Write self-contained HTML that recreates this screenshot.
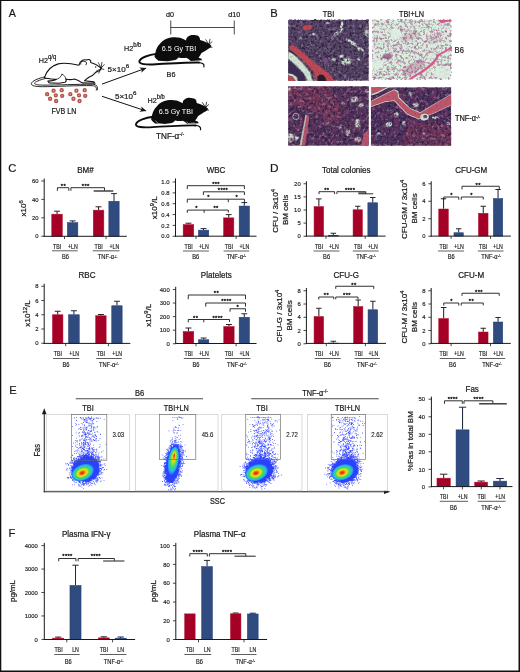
<!DOCTYPE html>
<html lang="en"><head><meta charset="utf-8"><title>Figure</title>
<style>html,body{margin:0;padding:0;background:#fff}body{width:520px;height:672px;overflow:hidden}svg{display:block;font-family:"Liberation Sans",sans-serif}text{stroke:#1a1a1a;stroke-width:.22px}</style></head><body>
<svg width="520" height="672" viewBox="0 0 520 672">
<rect x="0" y="0" width="520" height="672" fill="#fff"/>
<defs>
<filter id="nDark" x="0" y="0" width="100%" height="100%" color-interpolation-filters="sRGB"><feTurbulence type="fractalNoise" baseFrequency="0.36" numOctaves="2" seed="4"/><feColorMatrix type="matrix" values="0 0 0 0 0.16  0 0 0 0 0.1  0 0 0 0 0.22  4 0 0 0 -1.95"/><feGaussianBlur stdDeviation="0.4"/></filter>
<filter id="nDark2" x="0" y="0" width="100%" height="100%" color-interpolation-filters="sRGB"><feTurbulence type="fractalNoise" baseFrequency="0.55" numOctaves="1" seed="9"/><feColorMatrix type="matrix" values="0 0 0 0 0.17  0 0 0 0 0.1  0 0 0 0 0.27  0 5 0 0 -2.5"/><feGaussianBlur stdDeviation="0.35"/></filter>
<filter id="nLite" x="0" y="0" width="100%" height="100%" color-interpolation-filters="sRGB"><feTurbulence type="fractalNoise" baseFrequency="0.32" numOctaves="2" seed="12"/><feColorMatrix type="matrix" values="0 0 0 0 0.72  0 0 0 0 0.65  0 0 0 0 0.76  0 0 5 0 -2.72"/><feGaussianBlur stdDeviation="0.4"/></filter>
<filter id="nPink" x="0" y="0" width="100%" height="100%" color-interpolation-filters="sRGB"><feTurbulence type="fractalNoise" baseFrequency="0.42" numOctaves="2" seed="21"/><feColorMatrix type="matrix" values="0 0 0 0 0.7  0 0 0 0 0.36  0 0 0 0 0.52  6 0 0 0 -3.08"/><feGaussianBlur stdDeviation="0.3"/></filter>
<filter id="nPink2" x="0" y="0" width="100%" height="100%" color-interpolation-filters="sRGB"><feTurbulence type="fractalNoise" baseFrequency="0.3" numOctaves="2" seed="5"/><feColorMatrix type="matrix" values="0 0 0 0 0.5  0 0 0 0 0.28  0 0 0 0 0.5  0 7 0 0 -3.72"/><feGaussianBlur stdDeviation="0.3"/></filter>
<filter id="nRed" x="0" y="0" width="100%" height="100%" color-interpolation-filters="sRGB"><feTurbulence type="fractalNoise" baseFrequency="0.16" numOctaves="2" seed="17"/><feColorMatrix type="matrix" values="0 0 0 0 0.64  0 0 0 0 0.25  0 0 0 0 0.4  0 6 0 0 -3.0"/><feGaussianBlur stdDeviation="0.5"/></filter>
<filter id="blur1" x="-5%" y="-5%" width="110%" height="110%"><feGaussianBlur stdDeviation="0.4"/></filter>
<filter id="blur2" x="-20%" y="-20%" width="140%" height="140%"><feGaussianBlur stdDeviation="0.9"/></filter>
</defs>
<text transform="translate(8.80 17.00) scale(0.91 1)" font-size="11.8" text-anchor="start" fill="#1a1a1a">A</text>
<text transform="translate(170.00 16.90) scale(0.9 1)" font-size="8.0" text-anchor="middle" fill="#1a1a1a">d0</text>
<text transform="translate(234.30 16.90) scale(0.9 1)" font-size="8.0" text-anchor="middle" fill="#1a1a1a">d10</text>
<path d="M170.75 20.5V34.5 M234.25 20.5V34.5 M170.75 27.5H234.25" stroke="#1a1a1a" stroke-width="0.8" fill="none"/>
<g transform="translate(25 50) scale(0.17308)" fill="#fff" stroke="#111" stroke-width="6.4" stroke-linejoin="round" stroke-linecap="round">
<path fill="none" stroke-width="5.2" d="M128 152C92 160 50 172 38 190C30 204 52 212 100 212C180 212 300 204 388 206C408 207 416 216 412 232"/>
<path fill="none" stroke-width="5.2" d="M128 162C100 168 64 180 56 190C52 200 76 203 110 203C190 203 300 197 390 198C412 199 424 210 418 230"/>
<path d="M112 160C122 126 150 92 192 80C232 70 278 80 312 88C318 62 338 52 356 58C368 50 382 58 380 72C402 78 424 90 440 104C438 118 424 124 410 128C400 140 388 150 372 156C360 164 350 170 344 178L398 184L404 192L330 190C316 180 300 172 286 168C270 172 250 172 236 168C240 176 238 184 230 186L196 192L140 190L132 180C150 178 168 176 180 170C160 168 130 166 112 160Z"/>
<path fill="none" stroke-width="4.6" d="M214 140C226 146 236 156 236 168M180 170C196 166 208 156 214 140"/>
<path fill="none" stroke-width="5.2" d="M322 82C318 70 330 62 346 66C356 68 360 78 352 86"/>
<path fill="none" stroke-width="4.4" d="M440 104L424 74M440 104L444 72M440 104L458 84M436 110L412 122M438 110L426 134M438 108L456 112"/>
<circle cx="408" cy="98" r="4" fill="#1a1a1a" stroke="none"/>
</g>
<circle cx="53.56" cy="90.67" r="1.45" fill="#e9b3a6" stroke="#b5554a" stroke-width="1.5"/>
<circle cx="61.69" cy="90.15" r="1.45" fill="#e9b3a6" stroke="#b5554a" stroke-width="1.5"/>
<circle cx="47.15" cy="94.13" r="1.45" fill="#e9b3a6" stroke="#b5554a" stroke-width="1.5"/>
<circle cx="55.81" cy="95.34" r="1.45" fill="#e9b3a6" stroke="#b5554a" stroke-width="1.5"/>
<circle cx="62.21" cy="95.86" r="1.45" fill="#e9b3a6" stroke="#b5554a" stroke-width="1.5"/>
<circle cx="50.10" cy="98.81" r="1.45" fill="#e9b3a6" stroke="#b5554a" stroke-width="1.5"/>
<circle cx="56.15" cy="101.06" r="1.45" fill="#e9b3a6" stroke="#b5554a" stroke-width="1.5"/>
<circle cx="70.34" cy="94.13" r="1.45" fill="#e9b3a6" stroke="#b5554a" stroke-width="1.5"/>
<circle cx="76.40" cy="90.67" r="1.45" fill="#e9b3a6" stroke="#b5554a" stroke-width="1.5"/>
<circle cx="84.71" cy="90.15" r="1.45" fill="#e9b3a6" stroke="#b5554a" stroke-width="1.5"/>
<circle cx="79.00" cy="95.34" r="1.45" fill="#e9b3a6" stroke="#b5554a" stroke-width="1.5"/>
<circle cx="85.23" cy="95.86" r="1.45" fill="#e9b3a6" stroke="#b5554a" stroke-width="1.5"/>
<circle cx="73.46" cy="98.81" r="1.45" fill="#e9b3a6" stroke="#b5554a" stroke-width="1.5"/>
<circle cx="79.52" cy="101.06" r="1.45" fill="#e9b3a6" stroke="#b5554a" stroke-width="1.5"/>
<text transform="translate(63.90 113.80) scale(0.87 1)" font-size="8.2" text-anchor="middle" fill="#1a1a1a">FVB LN</text>
<text transform="translate(38.80 62.50) scale(0.9 1)" font-size="8.0" text-anchor="start" fill="#1a1a1a">H2<tspan font-size="6.5" dy="-0.55em">q/q</tspan></text>
<defs><marker id="ah" viewBox="0 0 10 10" refX="8.5" refY="5" markerWidth="7.6" markerHeight="6.6" orient="auto-start-reverse"><path d="M0 0.8L10 5L0 9.2L2.6 5Z" fill="#1a1a1a"/></marker></defs>
<line x1="102.0" y1="84.1" x2="145.6" y2="68.3" stroke="#111" stroke-width="1.0" marker-end="url(#ah)"/>
<line x1="102.0" y1="96.3" x2="145.6" y2="110.8" stroke="#111" stroke-width="1.0" marker-end="url(#ah)"/>
<text transform="translate(107.60 71.70) scale(1.0 1)" font-size="8.0" text-anchor="start" fill="#1a1a1a">5×10<tspan font-size="6.2" dy="-0.55em">6</tspan></text>
<text transform="translate(115.00 98.80) scale(1.0 1)" font-size="8.0" text-anchor="start" fill="#1a1a1a">5×10<tspan font-size="6.2" dy="-0.55em">6</tspan></text>
<g transform="translate(130 30) scale(0.17308)"><path stroke="none" fill="#0d0d0d" d="M146 134C150 110 160 92 173 80C190 58 212 46 236 43C256 40 274 41 289 44.5C302 48 314 54 324 60C324 50 328 43 333 40C344 30 358 27 369 29C382 28 394 32 400 40C404 46 405 52 404.5 58C418 62 430 66 440 71C452 76 462 82 468.5 89C472 94 468 100 462 103C458 106 454 109 449 111C438 120 426 127 413 133C408 143 402 152 396 160L413 166L416 175L351 179C342 171 334 165 324.5 161C310 163 295 162 280 159C276 165 270 170 262 174L218 180L164.5 177C156 171 148 164 142 155.6C142 148 143 141 146 134Z"/><path fill="none" stroke="#0d0d0d" stroke-width="11" stroke-linecap="round" d="M152 138C112 142 60 160 54 181C50 197 92 202 150 198C250 192 350 187 398 188"/><path fill="none" stroke="#0d0d0d" stroke-width="7" stroke-linecap="round" d="M396 188C420 189 431 198 427 213"/><path fill="none" stroke="#0d0d0d" stroke-width="4.4" stroke-linecap="round" d="M456 84L438 56M456 84L462 54M456 84L474 68M452 96L474 100"/></g>
<g transform="translate(126.6 92.9) scale(0.17308)"><path stroke="none" fill="#0d0d0d" d="M146 134C150 110 160 92 173 80C190 58 212 46 236 43C256 40 274 41 289 44.5C302 48 314 54 324 60C324 50 328 43 333 40C344 30 358 27 369 29C382 28 394 32 400 40C404 46 405 52 404.5 58C418 62 430 66 440 71C452 76 462 82 468.5 89C472 94 468 100 462 103C458 106 454 109 449 111C438 120 426 127 413 133C408 143 402 152 396 160L413 166L416 175L351 179C342 171 334 165 324.5 161C310 163 295 162 280 159C276 165 270 170 262 174L218 180L164.5 177C156 171 148 164 142 155.6C142 148 143 141 146 134Z"/><path fill="none" stroke="#0d0d0d" stroke-width="11" stroke-linecap="round" d="M152 138C112 142 60 160 54 181C50 197 92 202 150 198C250 192 350 187 398 188"/><path fill="none" stroke="#0d0d0d" stroke-width="7" stroke-linecap="round" d="M396 188C420 189 431 198 427 213"/><path fill="none" stroke="#0d0d0d" stroke-width="4.4" stroke-linecap="round" d="M456 84L438 56M456 84L462 54M456 84L474 68M452 96L474 100"/><path fill="none" stroke="#fff" stroke-width="3.2" d="M166 160L184 178L216 181M348 166L354 177L394 174"/></g>
<text transform="translate(179.00 50.80) scale(0.9 1)" font-size="8.0" text-anchor="middle" fill="#fff" style="stroke:none">6.5 Gy TBI</text>
<text transform="translate(175.90 113.70) scale(0.9 1)" font-size="8.0" text-anchor="middle" fill="#fff" style="stroke:none">6.5 Gy TBI</text>
<text transform="translate(171.00 76.70) scale(0.9 1)" font-size="8.0" text-anchor="middle" fill="#1a1a1a">B6</text>
<text transform="translate(170.20 139.00) scale(0.95 1)" font-size="8.6" text-anchor="middle" fill="#1a1a1a">TNF-α<tspan font-size="5.6" dy="-0.45em">-/-</tspan></text>
<text transform="translate(124.00 50.70) scale(0.9 1)" font-size="8.0" text-anchor="start" fill="#1a1a1a">H2<tspan font-size="6.5" dy="-0.55em">b/b</tspan></text>
<text transform="translate(147.50 103.00) scale(0.9 1)" font-size="8.0" text-anchor="start" fill="#1a1a1a">H2<tspan font-size="6.5" dy="-0.55em">b/b</tspan></text>
<text transform="translate(270.20 17.00) scale(0.95 1)" font-size="11.8" text-anchor="start" fill="#1a1a1a">B</text>
<text transform="translate(328.50 16.80) scale(0.87 1)" font-size="8.4" text-anchor="middle" fill="#1a1a1a">TBI</text>
<text transform="translate(411.50 16.80) scale(0.87 1)" font-size="8.4" text-anchor="middle" fill="#1a1a1a">TBI+LN</text>
<text transform="translate(454.60 52.60) scale(0.9 1)" font-size="8.4" text-anchor="start" fill="#1a1a1a">B6</text>
<text transform="translate(454.90 121.00) scale(0.88 1)" font-size="8.4" text-anchor="start" fill="#1a1a1a">TNF-α<tspan font-size="5.2" dy="-0.45em">-/-</tspan></text>
<clipPath id="c1"><rect x="288.1" y="19.8" width="80.7" height="61.0"/></clipPath>
<g clip-path="url(#c1)">
<rect x="288.10" y="19.80" width="80.70" height="61.00" fill="#594868"/>
<g transform="translate(286 18) scale(0.16537)" filter="url(#blur1)">
<ellipse cx="318" cy="84" rx="36" ry="9" fill="#d0e4d0" transform="rotate(-38 318 84)"/>
<ellipse cx="336" cy="44" rx="9" ry="22" fill="#d0e4d0" transform="rotate(10 336 44)"/>
<ellipse cx="300" cy="100" rx="14" ry="8" fill="#d0e4d0" transform="rotate(-20 300 100)"/>
<ellipse cx="400" cy="150" rx="44" ry="10" fill="#d0e4d0" transform="rotate(30 400 150)"/>
<ellipse cx="450" cy="190" rx="22" ry="10" fill="#d0e4d0" transform="rotate(25 450 190)"/>
<ellipse cx="366" cy="262" rx="34" ry="20" fill="#d0e4d0" transform="rotate(-10 366 262)"/>
<ellipse cx="336" cy="232" rx="14" ry="10" fill="#d0e4d0" transform="rotate(0 336 232)"/>
<ellipse cx="488" cy="86" rx="10" ry="34" fill="#d0e4d0" transform="rotate(0 488 86)"/>
<ellipse cx="288" cy="252" rx="12" ry="9" fill="#d0e4d0" transform="rotate(0 288 252)"/>
<ellipse cx="164" cy="98" rx="14" ry="7" fill="#d0e4d0" transform="rotate(-20 164 98)"/>
<ellipse cx="440" cy="250" rx="10" ry="8" fill="#d0e4d0" transform="rotate(0 440 250)"/>
<ellipse cx="250" cy="30" rx="16" ry="6" fill="#d0e4d0" transform="rotate(0 250 30)" opacity="0.7"/>
<ellipse cx="90" cy="120" rx="12" ry="6" fill="#d0e4d0" transform="rotate(30 90 120)" opacity="0.7"/>
</g>
<rect x="288.1" y="19.8" width="80.7" height="61.0" filter="url(#nDark)" opacity="0.82"/>
<rect x="288.1" y="19.8" width="80.7" height="61.0" filter="url(#nLite)" opacity="0.42"/>
<rect x="288.1" y="19.8" width="80.7" height="61.0" filter="url(#nDark2)" opacity="0.42"/>
<g transform="translate(286 18) scale(0.16537)" filter="url(#blur1)">
<ellipse cx="130" cy="58" rx="30" ry="16" fill="#bd4852" transform="rotate(-8 130 58)"/>
<ellipse cx="236" cy="256" rx="16" ry="14" fill="#7a4f80" transform="rotate(0 236 256)"/>
<path fill="#d0e4d0" d="M14 204L40 216L100 272L146 330L160 380L132 380L106 334L56 282L14 246Z"/>
<path fill="#d0e4d0" d="M150 304L200 314L248 334L236 342L180 330Z"/>
<path fill="#bd4852" d="M30 163L48 166L112 216L172 270L222 306L262 336L296 380L182 380L168 330L132 286L80 236L22 188L18 174Z"/>
<path fill="#3c2e52" d="M14 256L52 286L98 338L120 380L14 380Z"/>
<path fill="#d0e4d0" d="M14 334L40 340L66 358L70 380L58 380L40 354L14 346Z"/>
<path fill="#bd4852" d="M14 348L38 354L56 380L14 380Z"/>
<path fill="#211a2b" d="M190 356C198 332 236 334 244 380L190 380Z"/>
</g>
<rect x="288.1" y="19.8" width="80.7" height="61.0" filter="url(#nDark2)" opacity="0.14"/>
</g>
<clipPath id="c2"><rect x="372.3" y="19.5" width="78.9" height="60.1"/></clipPath>
<g clip-path="url(#c2)">
<rect x="372.30" y="19.50" width="78.90" height="60.10" fill="#d8eedf"/>
<g transform="translate(369 18) scale(0.16537)" filter="url(#blur1)">
<ellipse cx="112" cy="232" rx="30" ry="18" fill="#8c4a70" transform="rotate(0 112 232)" opacity="0.7"/>
<ellipse cx="270" cy="300" rx="80" ry="30" fill="#b0607f" transform="rotate(-32 270 300)" opacity="0.4"/>
<ellipse cx="250" cy="110" rx="60" ry="26" fill="#b87a95" transform="rotate(-20 250 110)" opacity="0.28"/>
<ellipse cx="400" cy="120" rx="50" ry="30" fill="#b87a95" transform="rotate(-30 400 120)" opacity="0.22"/>
</g>
<rect x="372.3" y="19.5" width="78.9" height="60.1" filter="url(#nPink)" opacity="0.62"/>
<rect x="372.3" y="19.5" width="78.9" height="60.1" filter="url(#nPink2)" opacity="0.42"/>
<g transform="translate(369 18) scale(0.16537)" filter="url(#blur1)">
<ellipse cx="160" cy="96" rx="32" ry="36" fill="#dff0e4" transform="rotate(0 160 96)" opacity="0.9"/>
<ellipse cx="56" cy="280" rx="36" ry="28" fill="#dff0e4" transform="rotate(0 56 280)" opacity="0.85"/>
<ellipse cx="440" cy="336" rx="54" ry="30" fill="#dff0e4" transform="rotate(0 440 336)" opacity="0.8"/>
<ellipse cx="60" cy="60" rx="30" ry="20" fill="#dff0e4" transform="rotate(0 60 60)" opacity="0.5"/>
<path fill="#d4588a" d="M420 12L497 12L497 24C470 19 452 28 436 33Z"/>
<path fill="#d4588a" d="M497 172C460 198 430 208 414 224C398 252 372 282 332 308C300 332 262 348 236 372L256 372C286 352 318 336 342 318C382 290 406 262 422 232C438 216 470 204 497 184Z"/>
</g>
</g>
<clipPath id="c3"><rect x="288.1" y="86.2" width="80.7" height="59.6"/></clipPath>
<g clip-path="url(#c3)">
<rect x="288.10" y="86.20" width="80.70" height="59.60" fill="#52345c"/>
<g transform="translate(286 84) scale(0.16537)" filter="url(#blur1)">
<path fill="#8e3e5c" d="M14 14L240 14L300 80L340 150L320 240L240 250L200 170L120 150L14 110Z" opacity="0.55"/>
<ellipse cx="414" cy="92" rx="22" ry="16" fill="#d0e4d0" transform="rotate(-15 414 92)"/>
<ellipse cx="454" cy="128" rx="18" ry="12" fill="#d0e4d0" transform="rotate(10 454 128)"/>
<ellipse cx="432" cy="238" rx="14" ry="28" fill="#d0e4d0" transform="rotate(0 432 238)"/>
<ellipse cx="374" cy="292" rx="12" ry="22" fill="#d0e4d0" transform="rotate(5 374 292)"/>
<ellipse cx="434" cy="336" rx="20" ry="16" fill="#d0e4d0" transform="rotate(0 434 336)"/>
<ellipse cx="28" cy="326" rx="18" ry="28" fill="#d0e4d0" transform="rotate(0 28 326)"/>
<ellipse cx="64" cy="328" rx="14" ry="14" fill="#d0e4d0" transform="rotate(0 64 328)"/>
<ellipse cx="20" cy="30" rx="8" ry="14" fill="#d0e4d0" transform="rotate(0 20 30)"/>
<ellipse cx="488" cy="42" rx="12" ry="10" fill="#d0e4d0" transform="rotate(0 488 42)"/>
<ellipse cx="346" cy="118" rx="10" ry="9" fill="#d0e4d0" transform="rotate(0 346 118)"/>
<ellipse cx="330" cy="260" rx="8" ry="14" fill="#d0e4d0" transform="rotate(20 330 260)" opacity="0.8"/>
<ellipse cx="250" cy="240" rx="16" ry="5" fill="#d0e4d0" transform="rotate(-30 250 240)" opacity="0.7"/>
</g>
<rect x="288.1" y="86.2" width="80.7" height="59.6" filter="url(#nDark)" opacity="0.75"/>
<rect x="288.1" y="86.2" width="80.7" height="59.6" filter="url(#nRed)" opacity="0.32"/>
<rect x="288.1" y="86.2" width="80.7" height="59.6" filter="url(#nDark2)" opacity="0.35"/>
<rect x="288.1" y="86.2" width="80.7" height="59.6" filter="url(#nLite)" opacity="0.42"/>
<g transform="translate(286 84) scale(0.16537)" filter="url(#blur1)">
<circle cx="60" cy="196" r="19" fill="none" stroke="#d0e4d0" stroke-width="5" opacity="0.8"/>
<path fill="#d0e4d0" d="M118 186L128 188L100 372L82 372Z" opacity="0.8"/>
<path fill="#b8546e" d="M126 188L142 192L116 372L94 372Z"/>
<path fill="#b8546e" d="M472 300L500 274L500 372L454 372Z"/>
</g>
<rect x="288.1" y="86.2" width="80.7" height="59.6" filter="url(#nDark2)" opacity="0.15"/>
</g>
<clipPath id="c4"><rect x="370.9" y="87.3" width="80.3" height="58.5"/></clipPath>
<g clip-path="url(#c4)">
<rect x="370.90" y="87.30" width="80.30" height="58.50" fill="#4f3360"/>
<g transform="translate(369 84) scale(0.16537)" filter="url(#blur1)">
<path fill="#86385a" d="M230 244L420 232L497 260L497 372L200 372Z" opacity="0.55"/>
<ellipse cx="282" cy="126" rx="18" ry="13" fill="#d0e4d0" transform="rotate(-10 282 126)"/>
<ellipse cx="120" cy="244" rx="20" ry="14" fill="#d0e4d0" transform="rotate(-10 120 244)"/>
<ellipse cx="212" cy="237" rx="13" ry="13" fill="#d0e4d0" transform="rotate(0 212 237)"/>
<ellipse cx="166" cy="182" rx="15" ry="12" fill="#d0e4d0" transform="rotate(0 166 182)"/>
<ellipse cx="480" cy="240" rx="11" ry="11" fill="#d0e4d0" transform="rotate(0 480 240)"/>
<ellipse cx="400" cy="204" rx="20" ry="9" fill="#d0e4d0" transform="rotate(0 400 204)"/>
<ellipse cx="250" cy="60" rx="10" ry="14" fill="#d0e4d0" transform="rotate(0 250 60)" opacity="0.8"/>
<ellipse cx="60" cy="300" rx="12" ry="8" fill="#d0e4d0" transform="rotate(0 60 300)" opacity="0.8"/>
<ellipse cx="330" cy="300" rx="9" ry="9" fill="#d0e4d0" transform="rotate(0 330 300)" opacity="0.7"/>
<ellipse cx="450" cy="320" rx="10" ry="8" fill="#d0e4d0" transform="rotate(0 450 320)" opacity="0.7"/>
</g>
<rect x="370.9" y="87.3" width="80.3" height="58.5" filter="url(#nDark)" opacity="0.78"/>
<rect x="370.9" y="87.3" width="80.3" height="58.5" filter="url(#nDark2)" opacity="0.38"/>
<rect x="370.9" y="87.3" width="80.3" height="58.5" filter="url(#nRed)" opacity="0.28"/>
<rect x="370.9" y="87.3" width="80.3" height="58.5" filter="url(#nLite)" opacity="0.4"/>
<g transform="translate(369 84) scale(0.16537)" filter="url(#blur1)">
<path fill="#d0e4d0" d="M14 102L150 31L177 43L183 80L249 145L310 171L400 117L497 61L497 129L400 175L300 215L230 185L152 103L100 109L14 139Z"/>
<path fill="#bd566a" d="M14 106L150 36L172 48L178 84L248 150L310 176L400 120L497 64L497 126L400 172L300 210L232 180L154 98L100 104L14 134Z"/>
<path fill="#d0e4d0" d="M14 16L130 16L40 62L14 70Z"/>
<path fill="#bd566a" d="M14 16L116 16L36 54L14 60Z"/>
<ellipse cx="336" cy="200" rx="26" ry="20" fill="#d0e4d0" transform="rotate(-10 336 200)"/>
<ellipse cx="340" cy="196" rx="13" ry="10" fill="#6a4578" transform="rotate(0 340 196)"/>
</g>
<rect x="370.9" y="87.3" width="80.3" height="58.5" filter="url(#nDark2)" opacity="0.12"/>
</g>
<text transform="translate(8.20 172.00) scale(0.95 1)" font-size="11.8" text-anchor="start" fill="#1a1a1a">C</text>
<text transform="translate(270.00 171.80) scale(1.0 1)" font-size="11.8" text-anchor="start" fill="#1a1a1a">D</text>
<line x1="57.05" y1="213.90" x2="57.05" y2="211.20" stroke="#2b2226" stroke-width="1.05" stroke-linecap="butt"/>
<line x1="54.05" y1="211.20" x2="60.05" y2="211.20" stroke="#2b2226" stroke-width="1.0" stroke-linecap="butt"/>
<rect x="51.75" y="214.15" width="10.60" height="22.15" fill="#a50026" stroke="#b3122f" stroke-width="0.5"/>
<line x1="72.60" y1="222.40" x2="72.60" y2="220.90" stroke="#20283c" stroke-width="1.05" stroke-linecap="butt"/>
<line x1="69.63" y1="220.90" x2="75.57" y2="220.90" stroke="#20283c" stroke-width="1.0" stroke-linecap="butt"/>
<rect x="67.35" y="222.65" width="10.50" height="13.65" fill="#2f4b7f" stroke="#1f3c74" stroke-width="0.5"/>
<line x1="98.55" y1="209.90" x2="98.55" y2="206.80" stroke="#2b2226" stroke-width="1.05" stroke-linecap="butt"/>
<line x1="95.55" y1="206.80" x2="101.55" y2="206.80" stroke="#2b2226" stroke-width="1.0" stroke-linecap="butt"/>
<rect x="93.25" y="210.15" width="10.60" height="26.15" fill="#a50026" stroke="#b3122f" stroke-width="0.5"/>
<line x1="114.00" y1="201.00" x2="114.00" y2="193.60" stroke="#20283c" stroke-width="1.05" stroke-linecap="butt"/>
<line x1="111.08" y1="193.60" x2="116.92" y2="193.60" stroke="#20283c" stroke-width="1.0" stroke-linecap="butt"/>
<rect x="108.85" y="201.25" width="10.30" height="35.05" fill="#2f4b7f" stroke="#1f3c74" stroke-width="0.5"/>
<line x1="44.20" y1="178.50" x2="44.20" y2="236.80" stroke="#1a1a1a" stroke-width="1.0" stroke-linecap="butt"/>
<line x1="43.70" y1="236.30" x2="126.80" y2="236.30" stroke="#1a1a1a" stroke-width="1.0" stroke-linecap="butt"/>
<line x1="41.30" y1="181.00" x2="44.20" y2="181.00" stroke="#1a1a1a" stroke-width="0.8" stroke-linecap="butt"/>
<text transform="translate(38.50 183.20) scale(0.97 1)" font-size="6.1" text-anchor="end" fill="#1a1a1a" style="stroke-width:.16px">60</text>
<line x1="41.30" y1="199.40" x2="44.20" y2="199.40" stroke="#1a1a1a" stroke-width="0.8" stroke-linecap="butt"/>
<text transform="translate(38.50 201.60) scale(0.97 1)" font-size="6.1" text-anchor="end" fill="#1a1a1a" style="stroke-width:.16px">40</text>
<line x1="41.30" y1="217.80" x2="44.20" y2="217.80" stroke="#1a1a1a" stroke-width="0.8" stroke-linecap="butt"/>
<text transform="translate(38.50 220.00) scale(0.97 1)" font-size="6.1" text-anchor="end" fill="#1a1a1a" style="stroke-width:.16px">20</text>
<line x1="41.30" y1="236.25" x2="44.20" y2="236.25" stroke="#1a1a1a" stroke-width="0.8" stroke-linecap="butt"/>
<text transform="translate(38.50 238.45) scale(0.97 1)" font-size="6.1" text-anchor="end" fill="#1a1a1a" style="stroke-width:.16px">0</text>
<line x1="64.50" y1="236.30" x2="64.50" y2="239.10" stroke="#1a1a1a" stroke-width="0.8" stroke-linecap="butt"/>
<line x1="106.00" y1="236.30" x2="106.00" y2="239.10" stroke="#1a1a1a" stroke-width="0.8" stroke-linecap="butt"/>
<text transform="translate(85.50 173.10) scale(0.98 1)" font-size="8.2" text-anchor="middle" fill="#1a1a1a">BM#</text>
<text transform="translate(57.10 248.55) scale(0.84 1)" font-size="6.3" text-anchor="middle" fill="#1a1a1a" style="stroke-width:.16px">TBI</text>
<text transform="translate(72.80 248.55) scale(0.84 1)" font-size="6.3" text-anchor="middle" fill="#1a1a1a" style="stroke-width:.16px">+LN</text>
<text transform="translate(98.60 248.55) scale(0.84 1)" font-size="6.3" text-anchor="middle" fill="#1a1a1a" style="stroke-width:.16px">TBI</text>
<text transform="translate(114.30 248.55) scale(0.84 1)" font-size="6.3" text-anchor="middle" fill="#1a1a1a" style="stroke-width:.16px">+LN</text>
<line x1="52.10" y1="250.80" x2="77.70" y2="250.80" stroke="#1a1a1a" stroke-width="0.7" stroke-linecap="butt"/>
<text transform="translate(65.50 259.40) scale(0.88 1)" font-size="6.5" text-anchor="middle" fill="#1a1a1a" style="stroke-width:.16px">B6</text>
<line x1="92.80" y1="250.80" x2="119.60" y2="250.80" stroke="#1a1a1a" stroke-width="0.7" stroke-linecap="butt"/>
<text transform="translate(107.60 259.40) scale(0.88 1)" font-size="6.5" text-anchor="middle" fill="#1a1a1a" style="stroke-width:.16px">TNF-α<tspan font-size="3.9059999999999997" dy="-0.45em">-/-</tspan></text>
<text transform="translate(25.70 208.40) rotate(-90) scale(1.0 1)" font-size="8.1" text-anchor="middle" fill="#1a1a1a">x10<tspan font-size="5.83" dy="-0.48em">6</tspan></text>
<path d="M57.40 190.80V187.70H68.80V190.80" stroke="#1a1a1a" stroke-width="0.9" fill="none"/>
<text transform="translate(63.40 187.80) scale(1.0 1)" font-size="5.8" text-anchor="middle" fill="#1a1a1a" letter-spacing="0.32" style="stroke-width:.3px">**</text>
<path d="M70.9 190.8V187.7H104.5V190.6" stroke="#1a1a1a" stroke-width="0.9" fill="none"/>
<line x1="93.70" y1="191.00" x2="113.30" y2="191.00" stroke="#333" stroke-width="1.4" stroke-linecap="butt"/>
<text transform="translate(85.70 187.80) scale(1.0 1)" font-size="5.8" text-anchor="middle" fill="#1a1a1a" letter-spacing="0.32" style="stroke-width:.3px">***</text>
<line x1="188.45" y1="224.30" x2="188.45" y2="223.20" stroke="#2b2226" stroke-width="1.05" stroke-linecap="butt"/>
<line x1="185.45" y1="223.20" x2="191.45" y2="223.20" stroke="#2b2226" stroke-width="1.0" stroke-linecap="butt"/>
<rect x="183.15" y="224.55" width="10.60" height="11.65" fill="#a50026" stroke="#b3122f" stroke-width="0.5"/>
<line x1="203.55" y1="229.90" x2="203.55" y2="228.60" stroke="#20283c" stroke-width="1.05" stroke-linecap="butt"/>
<line x1="200.61" y1="228.60" x2="206.49" y2="228.60" stroke="#20283c" stroke-width="1.0" stroke-linecap="butt"/>
<rect x="198.35" y="230.15" width="10.40" height="6.05" fill="#2f4b7f" stroke="#1f3c74" stroke-width="0.5"/>
<line x1="228.70" y1="217.60" x2="228.70" y2="214.60" stroke="#2b2226" stroke-width="1.05" stroke-linecap="butt"/>
<line x1="225.78" y1="214.60" x2="231.62" y2="214.60" stroke="#2b2226" stroke-width="1.0" stroke-linecap="butt"/>
<rect x="223.55" y="217.85" width="10.30" height="18.35" fill="#a50026" stroke="#b3122f" stroke-width="0.5"/>
<line x1="244.30" y1="205.80" x2="244.30" y2="202.60" stroke="#20283c" stroke-width="1.05" stroke-linecap="butt"/>
<line x1="241.38" y1="202.60" x2="247.22" y2="202.60" stroke="#20283c" stroke-width="1.0" stroke-linecap="butt"/>
<rect x="239.15" y="206.05" width="10.30" height="30.15" fill="#2f4b7f" stroke="#1f3c74" stroke-width="0.5"/>
<line x1="175.50" y1="178.50" x2="175.50" y2="236.70" stroke="#1a1a1a" stroke-width="1.0" stroke-linecap="butt"/>
<line x1="175.00" y1="236.20" x2="256.50" y2="236.20" stroke="#1a1a1a" stroke-width="1.0" stroke-linecap="butt"/>
<line x1="172.60" y1="182.00" x2="175.50" y2="182.00" stroke="#1a1a1a" stroke-width="0.8" stroke-linecap="butt"/>
<text transform="translate(169.50 184.20) scale(0.97 1)" font-size="6.1" text-anchor="end" fill="#1a1a1a" style="stroke-width:.16px">1.0</text>
<line x1="172.60" y1="192.85" x2="175.50" y2="192.85" stroke="#1a1a1a" stroke-width="0.8" stroke-linecap="butt"/>
<text transform="translate(169.50 195.05) scale(0.97 1)" font-size="6.1" text-anchor="end" fill="#1a1a1a" style="stroke-width:.16px">0.8</text>
<line x1="172.60" y1="203.70" x2="175.50" y2="203.70" stroke="#1a1a1a" stroke-width="0.8" stroke-linecap="butt"/>
<text transform="translate(169.50 205.90) scale(0.97 1)" font-size="6.1" text-anchor="end" fill="#1a1a1a" style="stroke-width:.16px">0.6</text>
<line x1="172.60" y1="214.55" x2="175.50" y2="214.55" stroke="#1a1a1a" stroke-width="0.8" stroke-linecap="butt"/>
<text transform="translate(169.50 216.75) scale(0.97 1)" font-size="6.1" text-anchor="end" fill="#1a1a1a" style="stroke-width:.16px">0.4</text>
<line x1="172.60" y1="225.40" x2="175.50" y2="225.40" stroke="#1a1a1a" stroke-width="0.8" stroke-linecap="butt"/>
<text transform="translate(169.50 227.60) scale(0.97 1)" font-size="6.1" text-anchor="end" fill="#1a1a1a" style="stroke-width:.16px">0.2</text>
<line x1="172.60" y1="236.25" x2="175.50" y2="236.25" stroke="#1a1a1a" stroke-width="0.8" stroke-linecap="butt"/>
<text transform="translate(169.50 238.45) scale(0.97 1)" font-size="6.1" text-anchor="end" fill="#1a1a1a" style="stroke-width:.16px">0.0</text>
<line x1="196.00" y1="236.20" x2="196.00" y2="239.00" stroke="#1a1a1a" stroke-width="0.8" stroke-linecap="butt"/>
<line x1="236.10" y1="236.20" x2="236.10" y2="239.00" stroke="#1a1a1a" stroke-width="0.8" stroke-linecap="butt"/>
<text transform="translate(216.00 173.10) scale(0.98 1)" font-size="8.2" text-anchor="middle" fill="#1a1a1a">WBC</text>
<text transform="translate(188.60 248.55) scale(0.84 1)" font-size="6.3" text-anchor="middle" fill="#1a1a1a" style="stroke-width:.16px">TBI</text>
<text transform="translate(203.80 248.55) scale(0.84 1)" font-size="6.3" text-anchor="middle" fill="#1a1a1a" style="stroke-width:.16px">+LN</text>
<text transform="translate(228.80 248.55) scale(0.84 1)" font-size="6.3" text-anchor="middle" fill="#1a1a1a" style="stroke-width:.16px">TBI</text>
<text transform="translate(244.40 248.55) scale(0.84 1)" font-size="6.3" text-anchor="middle" fill="#1a1a1a" style="stroke-width:.16px">+LN</text>
<line x1="183.00" y1="251.00" x2="208.90" y2="251.00" stroke="#1a1a1a" stroke-width="0.7" stroke-linecap="butt"/>
<text transform="translate(195.80 259.20) scale(0.88 1)" font-size="6.5" text-anchor="middle" fill="#1a1a1a" style="stroke-width:.16px">B6</text>
<line x1="223.60" y1="251.00" x2="249.20" y2="251.00" stroke="#1a1a1a" stroke-width="0.7" stroke-linecap="butt"/>
<text transform="translate(236.40 259.20) scale(0.88 1)" font-size="6.5" text-anchor="middle" fill="#1a1a1a" style="stroke-width:.16px">TNF-α<tspan font-size="3.9059999999999997" dy="-0.45em">-/-</tspan></text>
<text transform="translate(156.60 207.70) rotate(-90) scale(1.0 1)" font-size="8.1" text-anchor="middle" fill="#1a1a1a">x10<tspan font-size="5.83" dy="-0.48em">9</tspan><tspan dy="0.346em">/L</tspan></text>
<path d="M187.30 189.10V185.70H244.40V189.10" stroke="#1a1a1a" stroke-width="0.9" fill="none"/>
<text transform="translate(216.00 185.70) scale(1.0 1)" font-size="5.8" text-anchor="middle" fill="#1a1a1a" letter-spacing="0.32" style="stroke-width:.3px">***</text>
<path d="M203.40 195.00V191.80H244.40V195.00" stroke="#1a1a1a" stroke-width="0.9" fill="none"/>
<text transform="translate(223.00 191.70) scale(1.0 1)" font-size="5.8" text-anchor="middle" fill="#1a1a1a" letter-spacing="0.32" style="stroke-width:.3px">****</text>
<path d="M187.3 202.6V199.2H228.3V202.2 M228.3 199.2H244.4V202.4" stroke="#1a1a1a" stroke-width="0.9" fill="none"/>
<text transform="translate(208.60 199.00) scale(1.0 1)" font-size="5.8" text-anchor="middle" fill="#1a1a1a" letter-spacing="0.32" style="stroke-width:.3px">*</text>
<text transform="translate(236.80 199.00) scale(1.0 1)" font-size="5.8" text-anchor="middle" fill="#1a1a1a" letter-spacing="0.32" style="stroke-width:.3px">*</text>
<path d="M187.3 212.8V210.1H204.1V212.8 M204.1 210.1H228.3V212.6" stroke="#1a1a1a" stroke-width="0.9" fill="none"/>
<text transform="translate(196.50 210.20) scale(1.0 1)" font-size="5.8" text-anchor="middle" fill="#1a1a1a" letter-spacing="0.32" style="stroke-width:.3px">*</text>
<text transform="translate(216.00 210.20) scale(1.0 1)" font-size="5.8" text-anchor="middle" fill="#1a1a1a" letter-spacing="0.32" style="stroke-width:.3px">**</text>
<line x1="57.70" y1="314.50" x2="57.70" y2="311.25" stroke="#2b2226" stroke-width="1.05" stroke-linecap="butt"/>
<line x1="54.73" y1="311.25" x2="60.67" y2="311.25" stroke="#2b2226" stroke-width="1.0" stroke-linecap="butt"/>
<rect x="52.45" y="314.75" width="10.50" height="28.65" fill="#a50026" stroke="#b3122f" stroke-width="0.5"/>
<line x1="73.90" y1="314.50" x2="73.90" y2="310.75" stroke="#20283c" stroke-width="1.05" stroke-linecap="butt"/>
<line x1="70.88" y1="310.75" x2="76.92" y2="310.75" stroke="#20283c" stroke-width="1.0" stroke-linecap="butt"/>
<rect x="68.55" y="314.75" width="10.70" height="28.65" fill="#2f4b7f" stroke="#1f3c74" stroke-width="0.5"/>
<line x1="100.90" y1="315.50" x2="100.90" y2="314.50" stroke="#2b2226" stroke-width="1.05" stroke-linecap="butt"/>
<line x1="97.93" y1="314.50" x2="103.87" y2="314.50" stroke="#2b2226" stroke-width="1.0" stroke-linecap="butt"/>
<rect x="95.65" y="315.75" width="10.50" height="27.65" fill="#a50026" stroke="#b3122f" stroke-width="0.5"/>
<line x1="116.95" y1="305.50" x2="116.95" y2="301.25" stroke="#20283c" stroke-width="1.05" stroke-linecap="butt"/>
<line x1="114.01" y1="301.25" x2="119.89" y2="301.25" stroke="#20283c" stroke-width="1.0" stroke-linecap="butt"/>
<rect x="111.75" y="305.75" width="10.40" height="37.65" fill="#2f4b7f" stroke="#1f3c74" stroke-width="0.5"/>
<line x1="44.20" y1="283.75" x2="44.20" y2="343.90" stroke="#1a1a1a" stroke-width="1.0" stroke-linecap="butt"/>
<line x1="43.70" y1="343.40" x2="130.30" y2="343.40" stroke="#1a1a1a" stroke-width="1.0" stroke-linecap="butt"/>
<line x1="41.30" y1="286.25" x2="44.20" y2="286.25" stroke="#1a1a1a" stroke-width="0.8" stroke-linecap="butt"/>
<text transform="translate(38.50 288.45) scale(0.97 1)" font-size="6.1" text-anchor="end" fill="#1a1a1a" style="stroke-width:.16px">8</text>
<line x1="41.30" y1="300.50" x2="44.20" y2="300.50" stroke="#1a1a1a" stroke-width="0.8" stroke-linecap="butt"/>
<text transform="translate(38.50 302.70) scale(0.97 1)" font-size="6.1" text-anchor="end" fill="#1a1a1a" style="stroke-width:.16px">6</text>
<line x1="41.30" y1="314.75" x2="44.20" y2="314.75" stroke="#1a1a1a" stroke-width="0.8" stroke-linecap="butt"/>
<text transform="translate(38.50 316.95) scale(0.97 1)" font-size="6.1" text-anchor="end" fill="#1a1a1a" style="stroke-width:.16px">4</text>
<line x1="41.30" y1="329.00" x2="44.20" y2="329.00" stroke="#1a1a1a" stroke-width="0.8" stroke-linecap="butt"/>
<text transform="translate(38.50 331.20) scale(0.97 1)" font-size="6.1" text-anchor="end" fill="#1a1a1a" style="stroke-width:.16px">2</text>
<line x1="41.30" y1="343.25" x2="44.20" y2="343.25" stroke="#1a1a1a" stroke-width="0.8" stroke-linecap="butt"/>
<text transform="translate(38.50 345.45) scale(0.97 1)" font-size="6.1" text-anchor="end" fill="#1a1a1a" style="stroke-width:.16px">0</text>
<line x1="65.70" y1="343.40" x2="65.70" y2="346.20" stroke="#1a1a1a" stroke-width="0.8" stroke-linecap="butt"/>
<line x1="108.40" y1="343.40" x2="108.40" y2="346.20" stroke="#1a1a1a" stroke-width="0.8" stroke-linecap="butt"/>
<text transform="translate(87.00 277.90) scale(0.98 1)" font-size="8.2" text-anchor="middle" fill="#1a1a1a">RBC</text>
<text transform="translate(57.80 356.00) scale(0.84 1)" font-size="6.3" text-anchor="middle" fill="#1a1a1a" style="stroke-width:.16px">TBI</text>
<text transform="translate(74.20 356.00) scale(0.84 1)" font-size="6.3" text-anchor="middle" fill="#1a1a1a" style="stroke-width:.16px">+LN</text>
<text transform="translate(100.90 356.00) scale(0.84 1)" font-size="6.3" text-anchor="middle" fill="#1a1a1a" style="stroke-width:.16px">TBI</text>
<text transform="translate(117.20 356.00) scale(0.84 1)" font-size="6.3" text-anchor="middle" fill="#1a1a1a" style="stroke-width:.16px">+LN</text>
<line x1="53.00" y1="358.50" x2="79.40" y2="358.50" stroke="#1a1a1a" stroke-width="0.7" stroke-linecap="butt"/>
<text transform="translate(66.00 366.80) scale(0.88 1)" font-size="6.5" text-anchor="middle" fill="#1a1a1a" style="stroke-width:.16px">B6</text>
<line x1="96.20" y1="358.50" x2="121.70" y2="358.50" stroke="#1a1a1a" stroke-width="0.7" stroke-linecap="butt"/>
<text transform="translate(108.80 366.80) scale(0.88 1)" font-size="6.5" text-anchor="middle" fill="#1a1a1a" style="stroke-width:.16px">TNF-α<tspan font-size="3.9059999999999997" dy="-0.45em">-/-</tspan></text>
<text transform="translate(30.10 313.50) rotate(-90) scale(1.0 1)" font-size="8.1" text-anchor="middle" fill="#1a1a1a">x10<tspan font-size="5.83" dy="-0.48em">12</tspan><tspan dy="0.346em">/L</tspan></text>
<line x1="188.45" y1="331.25" x2="188.45" y2="328.00" stroke="#2b2226" stroke-width="1.05" stroke-linecap="butt"/>
<line x1="185.45" y1="328.00" x2="191.45" y2="328.00" stroke="#2b2226" stroke-width="1.0" stroke-linecap="butt"/>
<rect x="183.15" y="331.50" width="10.60" height="12.00" fill="#a50026" stroke="#b3122f" stroke-width="0.5"/>
<line x1="203.60" y1="339.50" x2="203.60" y2="338.00" stroke="#20283c" stroke-width="1.05" stroke-linecap="butt"/>
<line x1="200.63" y1="338.00" x2="206.57" y2="338.00" stroke="#20283c" stroke-width="1.0" stroke-linecap="butt"/>
<rect x="198.35" y="339.75" width="10.50" height="3.75" fill="#2f4b7f" stroke="#1f3c74" stroke-width="0.5"/>
<line x1="228.95" y1="326.25" x2="228.95" y2="324.50" stroke="#2b2226" stroke-width="1.05" stroke-linecap="butt"/>
<line x1="226.01" y1="324.50" x2="231.89" y2="324.50" stroke="#2b2226" stroke-width="1.0" stroke-linecap="butt"/>
<rect x="223.75" y="326.50" width="10.40" height="17.00" fill="#a50026" stroke="#b3122f" stroke-width="0.5"/>
<line x1="244.30" y1="317.00" x2="244.30" y2="313.75" stroke="#20283c" stroke-width="1.05" stroke-linecap="butt"/>
<line x1="241.38" y1="313.75" x2="247.22" y2="313.75" stroke="#20283c" stroke-width="1.0" stroke-linecap="butt"/>
<rect x="239.15" y="317.25" width="10.30" height="26.25" fill="#2f4b7f" stroke="#1f3c74" stroke-width="0.5"/>
<line x1="175.70" y1="286.75" x2="175.70" y2="344.00" stroke="#1a1a1a" stroke-width="1.0" stroke-linecap="butt"/>
<line x1="175.20" y1="343.50" x2="256.50" y2="343.50" stroke="#1a1a1a" stroke-width="1.0" stroke-linecap="butt"/>
<line x1="172.80" y1="289.50" x2="175.70" y2="289.50" stroke="#1a1a1a" stroke-width="0.8" stroke-linecap="butt"/>
<text transform="translate(169.70 291.70) scale(0.97 1)" font-size="6.1" text-anchor="end" fill="#1a1a1a" style="stroke-width:.16px">400</text>
<line x1="172.80" y1="303.06" x2="175.70" y2="303.06" stroke="#1a1a1a" stroke-width="0.8" stroke-linecap="butt"/>
<text transform="translate(169.70 305.26) scale(0.97 1)" font-size="6.1" text-anchor="end" fill="#1a1a1a" style="stroke-width:.16px">300</text>
<line x1="172.80" y1="316.60" x2="175.70" y2="316.60" stroke="#1a1a1a" stroke-width="0.8" stroke-linecap="butt"/>
<text transform="translate(169.70 318.80) scale(0.97 1)" font-size="6.1" text-anchor="end" fill="#1a1a1a" style="stroke-width:.16px">200</text>
<line x1="172.80" y1="330.20" x2="175.70" y2="330.20" stroke="#1a1a1a" stroke-width="0.8" stroke-linecap="butt"/>
<text transform="translate(169.70 332.40) scale(0.97 1)" font-size="6.1" text-anchor="end" fill="#1a1a1a" style="stroke-width:.16px">100</text>
<line x1="172.80" y1="343.75" x2="175.70" y2="343.75" stroke="#1a1a1a" stroke-width="0.8" stroke-linecap="butt"/>
<text transform="translate(169.70 345.95) scale(0.97 1)" font-size="6.1" text-anchor="end" fill="#1a1a1a" style="stroke-width:.16px">0</text>
<line x1="196.00" y1="343.50" x2="196.00" y2="346.30" stroke="#1a1a1a" stroke-width="0.8" stroke-linecap="butt"/>
<line x1="236.10" y1="343.50" x2="236.10" y2="346.30" stroke="#1a1a1a" stroke-width="0.8" stroke-linecap="butt"/>
<text transform="translate(216.25 277.90) scale(0.98 1)" font-size="8.2" text-anchor="middle" fill="#1a1a1a">Platelets</text>
<text transform="translate(188.60 356.00) scale(0.84 1)" font-size="6.3" text-anchor="middle" fill="#1a1a1a" style="stroke-width:.16px">TBI</text>
<text transform="translate(203.80 356.00) scale(0.84 1)" font-size="6.3" text-anchor="middle" fill="#1a1a1a" style="stroke-width:.16px">+LN</text>
<text transform="translate(228.80 356.00) scale(0.84 1)" font-size="6.3" text-anchor="middle" fill="#1a1a1a" style="stroke-width:.16px">TBI</text>
<text transform="translate(244.40 356.00) scale(0.84 1)" font-size="6.3" text-anchor="middle" fill="#1a1a1a" style="stroke-width:.16px">+LN</text>
<line x1="183.80" y1="358.50" x2="209.80" y2="358.50" stroke="#1a1a1a" stroke-width="0.7" stroke-linecap="butt"/>
<text transform="translate(196.00 366.80) scale(0.88 1)" font-size="6.5" text-anchor="middle" fill="#1a1a1a" style="stroke-width:.16px">B6</text>
<line x1="225.00" y1="358.50" x2="250.40" y2="358.50" stroke="#1a1a1a" stroke-width="0.7" stroke-linecap="butt"/>
<text transform="translate(236.80 366.80) scale(0.88 1)" font-size="6.5" text-anchor="middle" fill="#1a1a1a" style="stroke-width:.16px">TNF-α<tspan font-size="3.9059999999999997" dy="-0.45em">-/-</tspan></text>
<text transform="translate(151.20 315.20) rotate(-90) scale(1.0 1)" font-size="8.1" text-anchor="middle" fill="#1a1a1a">x10<tspan font-size="5.83" dy="-0.48em">9</tspan><tspan dy="0.346em">/L</tspan></text>
<path d="M188.25 299.20V295.00H245.50V299.20" stroke="#1a1a1a" stroke-width="0.9" fill="none"/>
<text transform="translate(216.45 295.40) scale(1.0 1)" font-size="5.8" text-anchor="middle" fill="#1a1a1a" letter-spacing="0.32" style="stroke-width:.3px">**</text>
<path d="M205.75 306.60V303.00H245.50V306.60" stroke="#1a1a1a" stroke-width="0.9" fill="none"/>
<text transform="translate(226.45 302.90) scale(1.0 1)" font-size="5.8" text-anchor="middle" fill="#1a1a1a" letter-spacing="0.32" style="stroke-width:.3px">****</text>
<path d="M230.00 311.75V308.75H245.50V311.75" stroke="#1a1a1a" stroke-width="0.9" fill="none"/>
<text transform="translate(237.70 309.15) scale(1.0 1)" font-size="5.8" text-anchor="middle" fill="#1a1a1a" letter-spacing="0.32" style="stroke-width:.3px">*</text>
<path d="M188.25 322.3V319.5H203.75V322.3 M203.75 319.5H229.5V322.0" stroke="#1a1a1a" stroke-width="0.9" fill="none"/>
<text transform="translate(195.70 319.65) scale(1.0 1)" font-size="5.8" text-anchor="middle" fill="#1a1a1a" letter-spacing="0.32" style="stroke-width:.3px">**</text>
<text transform="translate(217.70 319.65) scale(1.0 1)" font-size="5.8" text-anchor="middle" fill="#1a1a1a" letter-spacing="0.32" style="stroke-width:.3px">****</text>
<line x1="318.85" y1="206.30" x2="318.85" y2="198.90" stroke="#2b2226" stroke-width="1.05" stroke-linecap="butt"/>
<line x1="316.12" y1="198.90" x2="321.58" y2="198.90" stroke="#2b2226" stroke-width="1.0" stroke-linecap="butt"/>
<rect x="314.05" y="206.55" width="9.60" height="29.55" fill="#a50026" stroke="#b3122f" stroke-width="0.5"/>
<line x1="333.30" y1="235.00" x2="333.30" y2="233.25" stroke="#20283c" stroke-width="1.05" stroke-linecap="butt"/>
<line x1="330.55" y1="233.25" x2="336.05" y2="233.25" stroke="#20283c" stroke-width="1.0" stroke-linecap="butt"/>
<rect x="328.45" y="235.25" width="9.70" height="0.85" fill="#2f4b7f" stroke="#1f3c74" stroke-width="0.5"/>
<line x1="357.75" y1="209.50" x2="357.75" y2="206.25" stroke="#2b2226" stroke-width="1.05" stroke-linecap="butt"/>
<line x1="355.08" y1="206.25" x2="360.42" y2="206.25" stroke="#2b2226" stroke-width="1.0" stroke-linecap="butt"/>
<rect x="353.05" y="209.75" width="9.40" height="26.35" fill="#a50026" stroke="#b3122f" stroke-width="0.5"/>
<line x1="372.75" y1="202.50" x2="372.75" y2="197.50" stroke="#20283c" stroke-width="1.05" stroke-linecap="butt"/>
<line x1="369.97" y1="197.50" x2="375.53" y2="197.50" stroke="#20283c" stroke-width="1.0" stroke-linecap="butt"/>
<rect x="367.85" y="202.75" width="9.80" height="33.35" fill="#2f4b7f" stroke="#1f3c74" stroke-width="0.5"/>
<line x1="306.40" y1="181.25" x2="306.40" y2="236.60" stroke="#1a1a1a" stroke-width="1.0" stroke-linecap="butt"/>
<line x1="305.90" y1="236.10" x2="385.60" y2="236.10" stroke="#1a1a1a" stroke-width="1.0" stroke-linecap="butt"/>
<line x1="303.50" y1="183.75" x2="306.40" y2="183.75" stroke="#1a1a1a" stroke-width="0.8" stroke-linecap="butt"/>
<text transform="translate(300.70 185.95) scale(0.97 1)" font-size="6.1" text-anchor="end" fill="#1a1a1a" style="stroke-width:.16px">20</text>
<line x1="303.50" y1="196.90" x2="306.40" y2="196.90" stroke="#1a1a1a" stroke-width="0.8" stroke-linecap="butt"/>
<text transform="translate(300.70 199.10) scale(0.97 1)" font-size="6.1" text-anchor="end" fill="#1a1a1a" style="stroke-width:.16px">15</text>
<line x1="303.50" y1="210.00" x2="306.40" y2="210.00" stroke="#1a1a1a" stroke-width="0.8" stroke-linecap="butt"/>
<text transform="translate(300.70 212.20) scale(0.97 1)" font-size="6.1" text-anchor="end" fill="#1a1a1a" style="stroke-width:.16px">10</text>
<line x1="303.50" y1="223.10" x2="306.40" y2="223.10" stroke="#1a1a1a" stroke-width="0.8" stroke-linecap="butt"/>
<text transform="translate(300.70 225.30) scale(0.97 1)" font-size="6.1" text-anchor="end" fill="#1a1a1a" style="stroke-width:.16px">5</text>
<line x1="303.50" y1="236.25" x2="306.40" y2="236.25" stroke="#1a1a1a" stroke-width="0.8" stroke-linecap="butt"/>
<text transform="translate(300.70 238.45) scale(0.97 1)" font-size="6.1" text-anchor="end" fill="#1a1a1a" style="stroke-width:.16px">0</text>
<line x1="326.00" y1="236.10" x2="326.00" y2="238.90" stroke="#1a1a1a" stroke-width="0.8" stroke-linecap="butt"/>
<line x1="365.20" y1="236.10" x2="365.20" y2="238.90" stroke="#1a1a1a" stroke-width="0.8" stroke-linecap="butt"/>
<text transform="translate(346.25 172.90) scale(0.98 1)" font-size="8.2" text-anchor="middle" fill="#1a1a1a">Total colonies</text>
<text transform="translate(319.00 248.55) scale(0.84 1)" font-size="6.3" text-anchor="middle" fill="#1a1a1a" style="stroke-width:.16px">TBI</text>
<text transform="translate(333.80 248.55) scale(0.84 1)" font-size="6.3" text-anchor="middle" fill="#1a1a1a" style="stroke-width:.16px">+LN</text>
<text transform="translate(358.20 248.55) scale(0.84 1)" font-size="6.3" text-anchor="middle" fill="#1a1a1a" style="stroke-width:.16px">TBI</text>
<text transform="translate(372.80 248.55) scale(0.84 1)" font-size="6.3" text-anchor="middle" fill="#1a1a1a" style="stroke-width:.16px">+LN</text>
<line x1="313.50" y1="251.00" x2="339.40" y2="251.00" stroke="#1a1a1a" stroke-width="0.7" stroke-linecap="butt"/>
<text transform="translate(326.60 259.20) scale(0.88 1)" font-size="6.5" text-anchor="middle" fill="#1a1a1a" style="stroke-width:.16px">B6</text>
<line x1="352.80" y1="251.00" x2="378.70" y2="251.00" stroke="#1a1a1a" stroke-width="0.7" stroke-linecap="butt"/>
<text transform="translate(366.00 259.20) scale(0.88 1)" font-size="6.5" text-anchor="middle" fill="#1a1a1a" style="stroke-width:.16px">TNF-α<tspan font-size="3.9059999999999997" dy="-0.45em">-/-</tspan></text>
<text transform="translate(277.70 210.90) rotate(-90) scale(1.0 1)" font-size="8.0" text-anchor="middle" fill="#1a1a1a">CFU / 3x10<tspan font-size="5.76" dy="-0.48em">4</tspan></text>
<text transform="translate(288.00 209.90) rotate(-90) scale(1.0 1)" font-size="8.0" text-anchor="middle" fill="#1a1a1a">BM cells</text>
<path d="M319.00 194.10V191.70H334.60V194.10" stroke="#1a1a1a" stroke-width="0.9" fill="none"/>
<text transform="translate(326.80 191.90) scale(1.0 1)" font-size="5.8" text-anchor="middle" fill="#1a1a1a" letter-spacing="0.32" style="stroke-width:.3px">**</text>
<path d="M336.9 194.1V191.7H365.8V193.8 M358.4 193.8H373.2 M358.4 192.9H365.8" stroke="#1a1a1a" stroke-width="0.9" fill="none"/>
<text transform="translate(350.10 191.90) scale(1.0 1)" font-size="5.8" text-anchor="middle" fill="#1a1a1a" letter-spacing="0.32" style="stroke-width:.3px">****</text>
<line x1="443.55" y1="208.75" x2="443.55" y2="198.75" stroke="#2b2226" stroke-width="1.05" stroke-linecap="butt"/>
<line x1="440.82" y1="198.75" x2="446.28" y2="198.75" stroke="#2b2226" stroke-width="1.0" stroke-linecap="butt"/>
<rect x="438.75" y="209.00" width="9.60" height="27.10" fill="#a50026" stroke="#b3122f" stroke-width="0.5"/>
<line x1="458.70" y1="232.50" x2="458.70" y2="228.75" stroke="#20283c" stroke-width="1.05" stroke-linecap="butt"/>
<line x1="456.00" y1="228.75" x2="461.40" y2="228.75" stroke="#20283c" stroke-width="1.0" stroke-linecap="butt"/>
<rect x="453.95" y="232.75" width="9.50" height="3.35" fill="#2f4b7f" stroke="#1f3c74" stroke-width="0.5"/>
<line x1="483.25" y1="213.00" x2="483.25" y2="206.25" stroke="#2b2226" stroke-width="1.05" stroke-linecap="butt"/>
<line x1="480.52" y1="206.25" x2="485.98" y2="206.25" stroke="#2b2226" stroke-width="1.0" stroke-linecap="butt"/>
<rect x="478.45" y="213.25" width="9.60" height="22.85" fill="#a50026" stroke="#b3122f" stroke-width="0.5"/>
<line x1="498.05" y1="198.25" x2="498.05" y2="189.50" stroke="#20283c" stroke-width="1.05" stroke-linecap="butt"/>
<line x1="495.38" y1="189.50" x2="500.72" y2="189.50" stroke="#20283c" stroke-width="1.0" stroke-linecap="butt"/>
<rect x="493.35" y="198.50" width="9.40" height="37.60" fill="#2f4b7f" stroke="#1f3c74" stroke-width="0.5"/>
<line x1="431.20" y1="181.25" x2="431.20" y2="236.60" stroke="#1a1a1a" stroke-width="1.0" stroke-linecap="butt"/>
<line x1="430.70" y1="236.10" x2="510.80" y2="236.10" stroke="#1a1a1a" stroke-width="1.0" stroke-linecap="butt"/>
<line x1="428.30" y1="183.75" x2="431.20" y2="183.75" stroke="#1a1a1a" stroke-width="0.8" stroke-linecap="butt"/>
<text transform="translate(425.50 185.95) scale(0.97 1)" font-size="6.1" text-anchor="end" fill="#1a1a1a" style="stroke-width:.16px">6</text>
<line x1="428.30" y1="201.25" x2="431.20" y2="201.25" stroke="#1a1a1a" stroke-width="0.8" stroke-linecap="butt"/>
<text transform="translate(425.50 203.45) scale(0.97 1)" font-size="6.1" text-anchor="end" fill="#1a1a1a" style="stroke-width:.16px">4</text>
<line x1="428.30" y1="218.75" x2="431.20" y2="218.75" stroke="#1a1a1a" stroke-width="0.8" stroke-linecap="butt"/>
<text transform="translate(425.50 220.95) scale(0.97 1)" font-size="6.1" text-anchor="end" fill="#1a1a1a" style="stroke-width:.16px">2</text>
<line x1="428.30" y1="236.25" x2="431.20" y2="236.25" stroke="#1a1a1a" stroke-width="0.8" stroke-linecap="butt"/>
<text transform="translate(425.50 238.45) scale(0.97 1)" font-size="6.1" text-anchor="end" fill="#1a1a1a" style="stroke-width:.16px">0</text>
<line x1="451.10" y1="236.10" x2="451.10" y2="238.90" stroke="#1a1a1a" stroke-width="0.8" stroke-linecap="butt"/>
<line x1="490.50" y1="236.10" x2="490.50" y2="238.90" stroke="#1a1a1a" stroke-width="0.8" stroke-linecap="butt"/>
<text transform="translate(471.25 172.90) scale(0.98 1)" font-size="8.2" text-anchor="middle" fill="#1a1a1a">CFU-GM</text>
<text transform="translate(443.70 248.55) scale(0.84 1)" font-size="6.3" text-anchor="middle" fill="#1a1a1a" style="stroke-width:.16px">TBI</text>
<text transform="translate(459.00 248.55) scale(0.84 1)" font-size="6.3" text-anchor="middle" fill="#1a1a1a" style="stroke-width:.16px">+LN</text>
<text transform="translate(483.10 248.55) scale(0.84 1)" font-size="6.3" text-anchor="middle" fill="#1a1a1a" style="stroke-width:.16px">TBI</text>
<text transform="translate(498.00 248.55) scale(0.84 1)" font-size="6.3" text-anchor="middle" fill="#1a1a1a" style="stroke-width:.16px">+LN</text>
<line x1="438.10" y1="251.00" x2="464.10" y2="251.00" stroke="#1a1a1a" stroke-width="0.7" stroke-linecap="butt"/>
<text transform="translate(451.30 259.20) scale(0.88 1)" font-size="6.5" text-anchor="middle" fill="#1a1a1a" style="stroke-width:.16px">B6</text>
<line x1="477.90" y1="251.00" x2="503.50" y2="251.00" stroke="#1a1a1a" stroke-width="0.7" stroke-linecap="butt"/>
<text transform="translate(491.10 259.20) scale(0.88 1)" font-size="6.5" text-anchor="middle" fill="#1a1a1a" style="stroke-width:.16px">TNF-α<tspan font-size="3.9059999999999997" dy="-0.45em">-/-</tspan></text>
<text transform="translate(406.50 209.40) rotate(-90) scale(1.0 1)" font-size="8.0" text-anchor="middle" fill="#1a1a1a">CFU-GM / 3x10<tspan font-size="5.76" dy="-0.48em">4</tspan></text>
<text transform="translate(416.70 208.40) rotate(-90) scale(1.0 1)" font-size="8.0" text-anchor="middle" fill="#1a1a1a">BM cells</text>
<path d="M462.00 189.45V186.25H499.25V189.45" stroke="#1a1a1a" stroke-width="0.9" fill="none"/>
<text transform="translate(478.20 187.15) scale(1.0 1)" font-size="5.8" text-anchor="middle" fill="#1a1a1a" letter-spacing="0.32" style="stroke-width:.3px">**</text>
<path d="M443.75 199.8V197.0H458.75V199.8 M461.25 199.8V197.0H483.25V199.5" stroke="#1a1a1a" stroke-width="0.9" fill="none"/>
<text transform="translate(451.45 196.65) scale(1.0 1)" font-size="5.8" text-anchor="middle" fill="#1a1a1a" letter-spacing="0.32" style="stroke-width:.3px">*</text>
<text transform="translate(471.45 196.65) scale(1.0 1)" font-size="5.8" text-anchor="middle" fill="#1a1a1a" letter-spacing="0.32" style="stroke-width:.3px">*</text>
<line x1="318.85" y1="316.25" x2="318.85" y2="308.25" stroke="#2b2226" stroke-width="1.05" stroke-linecap="butt"/>
<line x1="316.12" y1="308.25" x2="321.58" y2="308.25" stroke="#2b2226" stroke-width="1.0" stroke-linecap="butt"/>
<rect x="314.05" y="316.50" width="9.60" height="26.90" fill="#a50026" stroke="#b3122f" stroke-width="0.5"/>
<line x1="333.30" y1="342.80" x2="333.30" y2="341.25" stroke="#20283c" stroke-width="1.05" stroke-linecap="butt"/>
<line x1="330.55" y1="341.25" x2="336.05" y2="341.25" stroke="#20283c" stroke-width="1.0" stroke-linecap="butt"/>
<rect x="328.45" y="343.05" width="9.70" height="0.35" fill="#2f4b7f" stroke="#1f3c74" stroke-width="0.5"/>
<line x1="358.20" y1="306.25" x2="358.20" y2="300.00" stroke="#2b2226" stroke-width="1.05" stroke-linecap="butt"/>
<line x1="355.55" y1="300.00" x2="360.85" y2="300.00" stroke="#2b2226" stroke-width="1.0" stroke-linecap="butt"/>
<rect x="353.55" y="306.50" width="9.30" height="36.90" fill="#a50026" stroke="#b3122f" stroke-width="0.5"/>
<line x1="372.85" y1="309.50" x2="372.85" y2="301.25" stroke="#20283c" stroke-width="1.05" stroke-linecap="butt"/>
<line x1="370.12" y1="301.25" x2="375.58" y2="301.25" stroke="#20283c" stroke-width="1.0" stroke-linecap="butt"/>
<rect x="368.05" y="309.75" width="9.60" height="33.65" fill="#2f4b7f" stroke="#1f3c74" stroke-width="0.5"/>
<line x1="306.40" y1="288.00" x2="306.40" y2="343.90" stroke="#1a1a1a" stroke-width="1.0" stroke-linecap="butt"/>
<line x1="305.90" y1="343.40" x2="386.00" y2="343.40" stroke="#1a1a1a" stroke-width="1.0" stroke-linecap="butt"/>
<line x1="303.50" y1="290.75" x2="306.40" y2="290.75" stroke="#1a1a1a" stroke-width="0.8" stroke-linecap="butt"/>
<text transform="translate(300.70 292.95) scale(0.97 1)" font-size="6.1" text-anchor="end" fill="#1a1a1a" style="stroke-width:.16px">8</text>
<line x1="303.50" y1="304.00" x2="306.40" y2="304.00" stroke="#1a1a1a" stroke-width="0.8" stroke-linecap="butt"/>
<text transform="translate(300.70 306.20) scale(0.97 1)" font-size="6.1" text-anchor="end" fill="#1a1a1a" style="stroke-width:.16px">6</text>
<line x1="303.50" y1="317.25" x2="306.40" y2="317.25" stroke="#1a1a1a" stroke-width="0.8" stroke-linecap="butt"/>
<text transform="translate(300.70 319.45) scale(0.97 1)" font-size="6.1" text-anchor="end" fill="#1a1a1a" style="stroke-width:.16px">4</text>
<line x1="303.50" y1="330.50" x2="306.40" y2="330.50" stroke="#1a1a1a" stroke-width="0.8" stroke-linecap="butt"/>
<text transform="translate(300.70 332.70) scale(0.97 1)" font-size="6.1" text-anchor="end" fill="#1a1a1a" style="stroke-width:.16px">2</text>
<line x1="303.50" y1="343.75" x2="306.40" y2="343.75" stroke="#1a1a1a" stroke-width="0.8" stroke-linecap="butt"/>
<text transform="translate(300.70 345.95) scale(0.97 1)" font-size="6.1" text-anchor="end" fill="#1a1a1a" style="stroke-width:.16px">0</text>
<line x1="326.30" y1="343.40" x2="326.30" y2="346.20" stroke="#1a1a1a" stroke-width="0.8" stroke-linecap="butt"/>
<line x1="365.40" y1="343.40" x2="365.40" y2="346.20" stroke="#1a1a1a" stroke-width="0.8" stroke-linecap="butt"/>
<text transform="translate(346.25 277.90) scale(0.98 1)" font-size="8.2" text-anchor="middle" fill="#1a1a1a">CFU-G</text>
<text transform="translate(319.00 356.00) scale(0.84 1)" font-size="6.3" text-anchor="middle" fill="#1a1a1a" style="stroke-width:.16px">TBI</text>
<text transform="translate(333.80 356.00) scale(0.84 1)" font-size="6.3" text-anchor="middle" fill="#1a1a1a" style="stroke-width:.16px">+LN</text>
<text transform="translate(358.60 356.00) scale(0.84 1)" font-size="6.3" text-anchor="middle" fill="#1a1a1a" style="stroke-width:.16px">TBI</text>
<text transform="translate(373.30 356.00) scale(0.84 1)" font-size="6.3" text-anchor="middle" fill="#1a1a1a" style="stroke-width:.16px">+LN</text>
<line x1="314.70" y1="358.50" x2="340.70" y2="358.50" stroke="#1a1a1a" stroke-width="0.7" stroke-linecap="butt"/>
<text transform="translate(327.50 366.80) scale(0.88 1)" font-size="6.5" text-anchor="middle" fill="#1a1a1a" style="stroke-width:.16px">B6</text>
<line x1="354.50" y1="358.50" x2="379.90" y2="358.50" stroke="#1a1a1a" stroke-width="0.7" stroke-linecap="butt"/>
<text transform="translate(366.80 366.80) scale(0.88 1)" font-size="6.5" text-anchor="middle" fill="#1a1a1a" style="stroke-width:.16px">TNF-α<tspan font-size="3.9059999999999997" dy="-0.45em">-/-</tspan></text>
<text transform="translate(281.60 316.00) rotate(-90) scale(1.0 1)" font-size="8.0" text-anchor="middle" fill="#1a1a1a">CFU-G / 3x10<tspan font-size="5.76" dy="-0.48em">4</tspan></text>
<text transform="translate(291.80 315.40) rotate(-90) scale(1.0 1)" font-size="8.0" text-anchor="middle" fill="#1a1a1a">BM cells</text>
<path d="M335.75 288.85V286.25H373.75V288.85" stroke="#1a1a1a" stroke-width="0.9" fill="none"/>
<text transform="translate(353.95 287.15) scale(1.0 1)" font-size="5.8" text-anchor="middle" fill="#1a1a1a" letter-spacing="0.32" style="stroke-width:.3px">**</text>
<path d="M318.75 299.5V297.0H333.75V299.3 M335.75 299.3V297.0H358.0V299.3" stroke="#1a1a1a" stroke-width="0.9" fill="none"/>
<text transform="translate(326.45 296.65) scale(1.0 1)" font-size="5.8" text-anchor="middle" fill="#1a1a1a" letter-spacing="0.32" style="stroke-width:.3px">**</text>
<text transform="translate(346.95 296.65) scale(1.0 1)" font-size="5.8" text-anchor="middle" fill="#1a1a1a" letter-spacing="0.32" style="stroke-width:.3px">***</text>
<line x1="443.65" y1="318.25" x2="443.65" y2="307.50" stroke="#2b2226" stroke-width="1.05" stroke-linecap="butt"/>
<line x1="440.87" y1="307.50" x2="446.43" y2="307.50" stroke="#2b2226" stroke-width="1.0" stroke-linecap="butt"/>
<rect x="438.75" y="318.50" width="9.80" height="24.90" fill="#a50026" stroke="#b3122f" stroke-width="0.5"/>
<line x1="483.25" y1="331.75" x2="483.25" y2="328.25" stroke="#2b2226" stroke-width="1.05" stroke-linecap="butt"/>
<line x1="480.52" y1="328.25" x2="485.98" y2="328.25" stroke="#2b2226" stroke-width="1.0" stroke-linecap="butt"/>
<rect x="478.45" y="332.00" width="9.60" height="11.40" fill="#a50026" stroke="#b3122f" stroke-width="0.5"/>
<line x1="498.05" y1="321.75" x2="498.05" y2="317.50" stroke="#20283c" stroke-width="1.05" stroke-linecap="butt"/>
<line x1="495.38" y1="317.50" x2="500.72" y2="317.50" stroke="#20283c" stroke-width="1.0" stroke-linecap="butt"/>
<rect x="493.35" y="322.00" width="9.40" height="21.40" fill="#2f4b7f" stroke="#1f3c74" stroke-width="0.5"/>
<line x1="431.20" y1="288.00" x2="431.20" y2="343.90" stroke="#1a1a1a" stroke-width="1.0" stroke-linecap="butt"/>
<line x1="430.70" y1="343.40" x2="510.80" y2="343.40" stroke="#1a1a1a" stroke-width="1.0" stroke-linecap="butt"/>
<line x1="428.30" y1="290.75" x2="431.20" y2="290.75" stroke="#1a1a1a" stroke-width="0.8" stroke-linecap="butt"/>
<text transform="translate(425.50 292.95) scale(0.97 1)" font-size="6.1" text-anchor="end" fill="#1a1a1a" style="stroke-width:.16px">8</text>
<line x1="428.30" y1="304.00" x2="431.20" y2="304.00" stroke="#1a1a1a" stroke-width="0.8" stroke-linecap="butt"/>
<text transform="translate(425.50 306.20) scale(0.97 1)" font-size="6.1" text-anchor="end" fill="#1a1a1a" style="stroke-width:.16px">6</text>
<line x1="428.30" y1="317.25" x2="431.20" y2="317.25" stroke="#1a1a1a" stroke-width="0.8" stroke-linecap="butt"/>
<text transform="translate(425.50 319.45) scale(0.97 1)" font-size="6.1" text-anchor="end" fill="#1a1a1a" style="stroke-width:.16px">4</text>
<line x1="428.30" y1="330.50" x2="431.20" y2="330.50" stroke="#1a1a1a" stroke-width="0.8" stroke-linecap="butt"/>
<text transform="translate(425.50 332.70) scale(0.97 1)" font-size="6.1" text-anchor="end" fill="#1a1a1a" style="stroke-width:.16px">2</text>
<line x1="428.30" y1="343.75" x2="431.20" y2="343.75" stroke="#1a1a1a" stroke-width="0.8" stroke-linecap="butt"/>
<text transform="translate(425.50 345.95) scale(0.97 1)" font-size="6.1" text-anchor="end" fill="#1a1a1a" style="stroke-width:.16px">0</text>
<line x1="451.10" y1="343.40" x2="451.10" y2="346.20" stroke="#1a1a1a" stroke-width="0.8" stroke-linecap="butt"/>
<line x1="490.50" y1="343.40" x2="490.50" y2="346.20" stroke="#1a1a1a" stroke-width="0.8" stroke-linecap="butt"/>
<text transform="translate(471.25 277.90) scale(0.98 1)" font-size="8.2" text-anchor="middle" fill="#1a1a1a">CFU-M</text>
<text transform="translate(443.70 356.00) scale(0.84 1)" font-size="6.3" text-anchor="middle" fill="#1a1a1a" style="stroke-width:.16px">TBI</text>
<text transform="translate(459.00 356.00) scale(0.84 1)" font-size="6.3" text-anchor="middle" fill="#1a1a1a" style="stroke-width:.16px">+LN</text>
<text transform="translate(483.10 356.00) scale(0.84 1)" font-size="6.3" text-anchor="middle" fill="#1a1a1a" style="stroke-width:.16px">TBI</text>
<text transform="translate(498.00 356.00) scale(0.84 1)" font-size="6.3" text-anchor="middle" fill="#1a1a1a" style="stroke-width:.16px">+LN</text>
<line x1="439.80" y1="358.50" x2="465.80" y2="358.50" stroke="#1a1a1a" stroke-width="0.7" stroke-linecap="butt"/>
<text transform="translate(452.60 366.80) scale(0.88 1)" font-size="6.5" text-anchor="middle" fill="#1a1a1a" style="stroke-width:.16px">B6</text>
<line x1="479.60" y1="358.50" x2="505.20" y2="358.50" stroke="#1a1a1a" stroke-width="0.7" stroke-linecap="butt"/>
<text transform="translate(491.90 366.80) scale(0.88 1)" font-size="6.5" text-anchor="middle" fill="#1a1a1a" style="stroke-width:.16px">TNF-α<tspan font-size="3.9059999999999997" dy="-0.45em">-/-</tspan></text>
<text transform="translate(406.50 317.10) rotate(-90) scale(1.0 1)" font-size="8.0" text-anchor="middle" fill="#1a1a1a">CFU-M / 3x10<tspan font-size="5.76" dy="-0.48em">4</tspan></text>
<text transform="translate(416.70 317.10) rotate(-90) scale(1.0 1)" font-size="8.0" text-anchor="middle" fill="#1a1a1a">BM cells</text>
<path d="M462.00 295.85V293.25H499.25V295.85" stroke="#1a1a1a" stroke-width="0.9" fill="none"/>
<text transform="translate(478.95 293.90) scale(1.0 1)" font-size="5.8" text-anchor="middle" fill="#1a1a1a" letter-spacing="0.32" style="stroke-width:.3px">***</text>
<path d="M443.75 305.6V303.0H458.75V305.6 M461.25 305.6V303.0H483.25V305.4" stroke="#1a1a1a" stroke-width="0.9" fill="none"/>
<text transform="translate(451.45 303.40) scale(1.0 1)" font-size="5.8" text-anchor="middle" fill="#1a1a1a" letter-spacing="0.32" style="stroke-width:.3px">*</text>
<text transform="translate(471.45 303.40) scale(1.0 1)" font-size="5.8" text-anchor="middle" fill="#1a1a1a" letter-spacing="0.32" style="stroke-width:.3px">**</text>
<text transform="translate(9.20 394.40) scale(0.95 1)" font-size="11.8" text-anchor="start" fill="#1a1a1a">E</text>
<defs>
<radialGradient id="gC" cx="0.5" cy="0.5" r="0.5" fx="0.46" fy="0.52"><stop offset="0" stop-color="#e41c0a"/><stop offset="0.16" stop-color="#f0520c"/><stop offset="0.30" stop-color="#f4c414"/><stop offset="0.42" stop-color="#cfe824"/><stop offset="0.58" stop-color="#4cd64a"/><stop offset="0.76" stop-color="#22c8dc"/><stop offset="0.90" stop-color="#2a86f4"/><stop offset="1" stop-color="#2a50f8" stop-opacity="0"/></radialGradient>
<radialGradient id="gC2" cx="0.5" cy="0.5" r="0.5" fx="0.52" fy="0.30"><stop offset="0" stop-color="#e6280a"/><stop offset="0.12" stop-color="#f0700c"/><stop offset="0.26" stop-color="#f0d418"/><stop offset="0.42" stop-color="#9ae032"/><stop offset="0.58" stop-color="#40d470"/><stop offset="0.76" stop-color="#22c0e8"/><stop offset="0.90" stop-color="#2a7cf6"/><stop offset="1" stop-color="#2a50f8" stop-opacity="0"/></radialGradient>
<filter id="rag" x="-20%" y="-20%" width="140%" height="140%"><feTurbulence type="fractalNoise" baseFrequency="0.55" numOctaves="2" seed="7" result="t"/><feDisplacementMap in="SourceGraphic" in2="t" scale="4.5" xChannelSelector="R" yChannelSelector="G"/></filter>
</defs>
<path d="M44.25 492.2V413" stroke="#1a1a1a" stroke-width="1.0" fill="none"/>
<path d="M44.25 408.2L46.6 414.2L41.9 414.2Z" fill="#1a1a1a"/>
<path d="M43.75 491.75H385" stroke="#1a1a1a" stroke-width="1.0" fill="none"/>
<path d="M390.3 491.75L384.0 494.1L384.0 489.4Z" fill="#1a1a1a"/>
<text transform="translate(40.10 450.30) rotate(-90) scale(0.9 1)" font-size="8.2" text-anchor="middle" fill="#1a1a1a">Fas</text>
<text transform="translate(217.50 503.60) scale(0.87 1)" font-size="8.4" text-anchor="middle" fill="#1a1a1a">SSC</text>
<line x1="75.75" y1="398.75" x2="203.00" y2="398.75" stroke="#1a1a1a" stroke-width="0.8" stroke-linecap="butt"/>
<line x1="251.25" y1="398.75" x2="378.75" y2="398.75" stroke="#1a1a1a" stroke-width="0.8" stroke-linecap="butt"/>
<text transform="translate(139.60 395.50) scale(0.9 1)" font-size="8.4" text-anchor="middle" fill="#1a1a1a">B6</text>
<text transform="translate(315.00 395.50) scale(0.88 1)" font-size="8.4" text-anchor="middle" fill="#1a1a1a">TNF-α<tspan font-size="5.4" dy="-0.45em">-/-</tspan></text>
<rect x="46.25" y="414.6" width="83.25" height="76.2" fill="#fff" stroke="#c9c9c9" stroke-width="0.7"/>
<path d="M78.9 454.8h0.8v0.8h-0.8zM88.8 450.9h0.8v0.8h-0.8zM89.5 440.6h0.8v0.8h-0.8zM93.3 429.9h0.8v0.8h-0.8zM96.0 463.6h0.8v0.8h-0.8zM92.6 435.6h0.8v0.8h-0.8zM83.8 439.9h0.8v0.8h-0.8zM84.1 424.9h0.8v0.8h-0.8zM86.6 455.5h0.8v0.8h-0.8zM88.0 453.2h0.8v0.8h-0.8zM81.9 455.0h0.8v0.8h-0.8zM80.9 460.6h0.8v0.8h-0.8zM98.4 458.5h0.8v0.8h-0.8zM86.2 429.3h0.8v0.8h-0.8zM96.1 436.1h0.8v0.8h-0.8zM91.0 416.6h0.8v0.8h-0.8zM86.6 456.7h0.8v0.8h-0.8zM86.3 427.9h0.8v0.8h-0.8zM94.3 459.5h0.8v0.8h-0.8zM90.4 431.2h0.8v0.8h-0.8zM96.7 427.4h0.8v0.8h-0.8zM84.2 419.1h0.8v0.8h-0.8zM87.6 455.3h0.8v0.8h-0.8zM82.8 448.8h0.8v0.8h-0.8zM92.6 435.1h0.8v0.8h-0.8zM93.0 428.4h0.8v0.8h-0.8zM97.5 431.8h0.8v0.8h-0.8zM84.5 433.9h0.8v0.8h-0.8zM91.9 460.2h0.8v0.8h-0.8zM79.5 427.9h0.8v0.8h-0.8zM87.3 419.7h0.8v0.8h-0.8zM81.0 442.3h0.8v0.8h-0.8zM86.9 455.1h0.8v0.8h-0.8zM94.9 454.3h0.8v0.8h-0.8zM75.4 423.3h0.8v0.8h-0.8zM80.9 438.7h0.8v0.8h-0.8zM86.5 421.9h0.8v0.8h-0.8zM90.5 458.5h0.8v0.8h-0.8zM92.7 462.6h0.8v0.8h-0.8zM80.8 459.1h0.8v0.8h-0.8zM87.2 452.9h0.8v0.8h-0.8zM96.2 459.0h0.8v0.8h-0.8zM91.0 426.6h0.8v0.8h-0.8zM95.3 435.5h0.8v0.8h-0.8zM82.7 460.8h0.8v0.8h-0.8zM83.2 428.4h0.8v0.8h-0.8zM84.4 432.8h0.8v0.8h-0.8zM87.2 462.1h0.8v0.8h-0.8zM78.0 448.2h0.8v0.8h-0.8zM96.4 451.0h0.8v0.8h-0.8zM87.6 456.7h0.8v0.8h-0.8zM87.8 416.6h0.8v0.8h-0.8zM81.8 458.4h0.8v0.8h-0.8zM81.1 463.0h0.8v0.8h-0.8zM76.8 444.2h0.8v0.8h-0.8zM83.6 440.6h0.8v0.8h-0.8zM91.5 429.5h0.8v0.8h-0.8zM83.6 456.1h0.8v0.8h-0.8zM89.6 449.5h0.8v0.8h-0.8zM74.5 451.1h0.8v0.8h-0.8zM84.5 442.4h0.8v0.8h-0.8zM84.9 456.8h0.8v0.8h-0.8zM85.7 436.9h0.8v0.8h-0.8zM78.4 449.7h0.8v0.8h-0.8zM94.8 460.3h0.8v0.8h-0.8zM88.1 453.9h0.8v0.8h-0.8zM76.0 417.0h0.8v0.8h-0.8zM77.3 447.2h0.8v0.8h-0.8zM87.6 448.0h0.8v0.8h-0.8zM90.1 430.9h0.8v0.8h-0.8zM82.2 435.5h0.8v0.8h-0.8zM94.6 427.4h0.8v0.8h-0.8zM91.0 458.5h0.8v0.8h-0.8zM82.3 438.4h0.8v0.8h-0.8zM92.8 419.3h0.8v0.8h-0.8zM76.2 424.0h0.8v0.8h-0.8zM81.8 434.8h0.8v0.8h-0.8zM88.0 454.0h0.8v0.8h-0.8zM81.8 455.2h0.8v0.8h-0.8zM97.4 417.9h0.8v0.8h-0.8zM87.8 451.5h0.8v0.8h-0.8zM85.2 440.7h0.8v0.8h-0.8zM89.8 463.8h0.8v0.8h-0.8zM86.9 460.1h0.8v0.8h-0.8zM87.7 455.3h0.8v0.8h-0.8zM88.0 448.2h0.8v0.8h-0.8zM92.0 460.9h0.8v0.8h-0.8zM72.0 461.2h0.8v0.8h-0.8zM93.5 461.2h0.8v0.8h-0.8zM87.0 431.8h0.8v0.8h-0.8zM84.1 443.0h0.8v0.8h-0.8zM79.4 440.7h0.8v0.8h-0.8zM88.7 445.0h0.8v0.8h-0.8zM85.0 436.5h0.8v0.8h-0.8zM76.9 451.6h0.8v0.8h-0.8zM76.8 440.3h0.8v0.8h-0.8zM93.0 460.8h0.8v0.8h-0.8zM84.1 438.6h0.8v0.8h-0.8zM80.3 456.3h0.8v0.8h-0.8zM78.8 432.1h0.8v0.8h-0.8zM87.9 435.2h0.8v0.8h-0.8zM81.2 462.9h0.8v0.8h-0.8zM79.2 454.2h0.8v0.8h-0.8zM89.3 452.3h0.8v0.8h-0.8zM96.7 431.3h0.8v0.8h-0.8zM90.9 461.9h0.8v0.8h-0.8zM90.9 436.7h0.8v0.8h-0.8zM92.5 420.5h0.8v0.8h-0.8zM72.0 426.3h0.8v0.8h-0.8zM87.2 459.1h0.8v0.8h-0.8zM85.3 436.4h0.8v0.8h-0.8zM77.7 458.6h0.8v0.8h-0.8zM77.7 460.7h0.8v0.8h-0.8zM94.6 431.7h0.8v0.8h-0.8zM82.8 453.7h0.8v0.8h-0.8zM84.7 463.8h0.8v0.8h-0.8zM93.8 440.0h0.8v0.8h-0.8zM85.1 454.1h0.8v0.8h-0.8zM85.7 456.2h0.8v0.8h-0.8zM84.4 425.7h0.8v0.8h-0.8zM85.7 435.7h0.8v0.8h-0.8zM93.5 429.6h0.8v0.8h-0.8zM81.1 443.8h0.8v0.8h-0.8zM87.3 462.1h0.8v0.8h-0.8zM86.7 426.5h0.8v0.8h-0.8zM85.2 458.4h0.8v0.8h-0.8zM81.2 448.8h0.8v0.8h-0.8zM93.3 439.1h0.8v0.8h-0.8zM86.5 455.6h0.8v0.8h-0.8zM90.6 456.2h0.8v0.8h-0.8zM82.9 444.4h0.8v0.8h-0.8zM85.8 452.9h0.8v0.8h-0.8zM91.6 460.2h0.8v0.8h-0.8zM79.6 439.2h0.8v0.8h-0.8zM90.9 425.8h0.8v0.8h-0.8zM83.4 460.6h0.8v0.8h-0.8zM89.0 448.6h0.8v0.8h-0.8zM84.3 420.8h0.8v0.8h-0.8zM89.7 462.2h0.8v0.8h-0.8zM80.9 446.9h0.8v0.8h-0.8zM90.6 427.9h0.8v0.8h-0.8zM87.0 462.4h0.8v0.8h-0.8zM76.1 446.8h0.8v0.8h-0.8zM86.1 419.6h0.8v0.8h-0.8zM87.8 453.4h0.8v0.8h-0.8zM87.6 461.8h0.8v0.8h-0.8zM88.2 443.8h0.8v0.8h-0.8zM90.3 419.2h0.8v0.8h-0.8zM93.1 458.3h0.8v0.8h-0.8zM84.4 453.3h0.8v0.8h-0.8zM78.9 447.5h0.8v0.8h-0.8zM90.1 461.2h0.8v0.8h-0.8zM76.8 460.9h0.8v0.8h-0.8zM89.4 439.2h0.8v0.8h-0.8zM99.6 445.9h0.8v0.8h-0.8zM87.8 449.3h0.8v0.8h-0.8zM79.6 440.1h0.8v0.8h-0.8zM91.2 456.8h0.8v0.8h-0.8zM86.1 456.4h0.8v0.8h-0.8zM75.7 432.4h0.8v0.8h-0.8zM82.9 456.4h0.8v0.8h-0.8zM76.5 463.1h0.8v0.8h-0.8zM82.7 432.2h0.8v0.8h-0.8zM92.3 449.5h0.8v0.8h-0.8zM88.2 458.0h0.8v0.8h-0.8zM101.3 451.6h0.8v0.8h-0.8zM80.5 448.8h0.8v0.8h-0.8zM85.2 442.7h0.8v0.8h-0.8zM87.8 444.1h0.8v0.8h-0.8zM86.3 434.2h0.8v0.8h-0.8zM90.4 462.6h0.8v0.8h-0.8zM87.8 456.5h0.8v0.8h-0.8zM79.5 451.6h0.8v0.8h-0.8zM84.2 449.0h0.8v0.8h-0.8zM87.4 442.8h0.8v0.8h-0.8zM84.2 457.6h0.8v0.8h-0.8zM90.3 438.4h0.8v0.8h-0.8zM92.4 463.3h0.8v0.8h-0.8zM92.6 450.5h0.8v0.8h-0.8zM84.3 459.2h0.8v0.8h-0.8zM82.0 448.2h0.8v0.8h-0.8zM79.9 417.1h0.8v0.8h-0.8zM86.6 449.9h0.8v0.8h-0.8zM88.3 430.0h0.8v0.8h-0.8zM86.5 420.8h0.8v0.8h-0.8zM84.5 456.5h0.8v0.8h-0.8zM80.1 460.0h0.8v0.8h-0.8zM89.5 422.7h0.8v0.8h-0.8zM85.3 438.8h0.8v0.8h-0.8zM79.6 462.4h0.8v0.8h-0.8zM81.6 418.8h0.8v0.8h-0.8zM81.7 462.2h0.8v0.8h-0.8zM77.9 459.6h0.8v0.8h-0.8zM89.7 456.0h0.8v0.8h-0.8zM87.8 418.5h0.8v0.8h-0.8zM79.0 460.1h0.8v0.8h-0.8zM96.4 449.5h0.8v0.8h-0.8zM95.1 459.4h0.8v0.8h-0.8zM83.3 449.2h0.8v0.8h-0.8zM79.2 461.0h0.8v0.8h-0.8zM86.6 432.5h0.8v0.8h-0.8zM103.8 419.2h0.8v0.8h-0.8zM85.6 462.6h0.8v0.8h-0.8zM93.0 463.1h0.8v0.8h-0.8zM94.5 449.2h0.8v0.8h-0.8zM91.3 454.4h0.8v0.8h-0.8zM87.9 436.8h0.8v0.8h-0.8zM92.0 421.8h0.8v0.8h-0.8zM89.6 460.6h0.8v0.8h-0.8zM78.4 459.7h0.8v0.8h-0.8zM88.7 425.8h0.8v0.8h-0.8zM81.0 443.6h0.8v0.8h-0.8zM92.3 462.7h0.8v0.8h-0.8zM83.4 463.0h0.8v0.8h-0.8zM93.4 446.9h0.8v0.8h-0.8zM90.5 450.8h0.8v0.8h-0.8zM90.3 462.9h0.8v0.8h-0.8zM88.5 444.8h0.8v0.8h-0.8zM84.8 432.3h0.8v0.8h-0.8zM81.8 457.4h0.8v0.8h-0.8zM93.7 426.6h0.8v0.8h-0.8zM93.1 427.5h0.8v0.8h-0.8zM76.2 458.5h0.8v0.8h-0.8zM90.7 423.3h0.8v0.8h-0.8zM90.2 457.4h0.8v0.8h-0.8zM83.6 456.6h0.8v0.8h-0.8zM83.4 440.3h0.8v0.8h-0.8zM89.2 437.0h0.8v0.8h-0.8zM82.9 432.3h0.8v0.8h-0.8zM85.0 417.5h0.8v0.8h-0.8zM78.8 435.5h0.8v0.8h-0.8zM85.7 463.2h0.8v0.8h-0.8zM76.0 420.1h0.8v0.8h-0.8zM83.3 429.8h0.8v0.8h-0.8zM94.1 449.5h0.8v0.8h-0.8zM91.0 460.0h0.8v0.8h-0.8zM88.4 442.5h0.8v0.8h-0.8zM96.9 458.0h0.8v0.8h-0.8zM95.6 452.6h0.8v0.8h-0.8zM84.7 445.7h0.8v0.8h-0.8zM92.0 447.7h0.8v0.8h-0.8zM83.3 439.6h0.8v0.8h-0.8zM93.0 448.9h0.8v0.8h-0.8zM75.3 445.6h0.8v0.8h-0.8zM88.6 461.8h0.8v0.8h-0.8zM80.4 427.3h0.8v0.8h-0.8zM88.6 459.0h0.8v0.8h-0.8zM90.1 463.3h0.8v0.8h-0.8zM85.4 441.8h0.8v0.8h-0.8zM89.4 419.3h0.8v0.8h-0.8zM78.6 463.6h0.8v0.8h-0.8zM88.6 424.7h0.8v0.8h-0.8zM87.4 450.6h0.8v0.8h-0.8zM90.9 424.7h0.8v0.8h-0.8zM85.8 458.6h0.8v0.8h-0.8zM90.2 438.7h0.8v0.8h-0.8zM81.7 427.4h0.8v0.8h-0.8zM87.1 452.3h0.8v0.8h-0.8zM93.4 418.7h0.8v0.8h-0.8zM84.6 440.0h0.8v0.8h-0.8zM80.8 459.4h0.8v0.8h-0.8zM91.5 448.1h0.8v0.8h-0.8zM86.6 457.2h0.8v0.8h-0.8zM87.4 445.5h0.8v0.8h-0.8zM83.6 430.7h0.8v0.8h-0.8zM84.3 454.9h0.8v0.8h-0.8zM77.7 459.6h0.8v0.8h-0.8zM85.6 461.8h0.8v0.8h-0.8zM86.5 436.1h0.8v0.8h-0.8zM86.2 462.9h0.8v0.8h-0.8zM85.3 437.7h0.8v0.8h-0.8zM96.3 417.5h0.8v0.8h-0.8zM76.0 440.8h0.8v0.8h-0.8zM80.2 426.9h0.8v0.8h-0.8zM96.3 440.5h0.8v0.8h-0.8zM92.8 461.6h0.8v0.8h-0.8zM89.1 463.0h0.8v0.8h-0.8zM81.8 454.8h0.8v0.8h-0.8zM85.2 462.5h0.8v0.8h-0.8zM80.8 454.9h0.8v0.8h-0.8zM97.9 464.0h0.8v0.8h-0.8zM84.1 445.6h0.8v0.8h-0.8zM87.1 464.0h0.8v0.8h-0.8zM94.5 440.1h0.8v0.8h-0.8zM88.8 433.1h0.8v0.8h-0.8zM94.8 458.9h0.8v0.8h-0.8zM83.3 459.8h0.8v0.8h-0.8zM91.8 448.8h0.8v0.8h-0.8zM79.4 444.9h0.8v0.8h-0.8zM99.6 437.9h0.8v0.8h-0.8zM89.4 446.5h0.8v0.8h-0.8zM88.4 461.2h0.8v0.8h-0.8zM76.8 462.8h0.8v0.8h-0.8zM93.3 423.4h0.8v0.8h-0.8zM91.0 457.2h0.8v0.8h-0.8zM91.0 453.5h0.8v0.8h-0.8zM80.1 456.9h0.8v0.8h-0.8zM78.0 456.2h0.8v0.8h-0.8zM92.7 439.7h0.8v0.8h-0.8zM87.1 450.1h0.8v0.8h-0.8zM92.0 448.4h0.8v0.8h-0.8zM87.1 433.2h0.8v0.8h-0.8zM75.6 450.0h0.8v0.8h-0.8zM85.9 450.4h0.8v0.8h-0.8zM92.9 453.8h0.8v0.8h-0.8zM82.0 448.0h0.8v0.8h-0.8zM93.9 437.1h0.8v0.8h-0.8zM85.9 458.3h0.8v0.8h-0.8zM83.6 427.3h0.8v0.8h-0.8zM83.6 446.3h0.8v0.8h-0.8zM79.7 454.9h0.8v0.8h-0.8zM99.0 459.5h0.8v0.8h-0.8zM95.3 451.9h0.8v0.8h-0.8zM96.6 459.6h0.8v0.8h-0.8zM102.8 450.4h0.8v0.8h-0.8zM76.1 452.9h0.8v0.8h-0.8zM83.3 441.9h0.8v0.8h-0.8zM99.3 461.1h0.8v0.8h-0.8zM84.1 424.5h0.8v0.8h-0.8zM85.8 422.1h0.8v0.8h-0.8zM83.6 444.1h0.8v0.8h-0.8zM82.0 450.8h0.8v0.8h-0.8zM86.9 437.2h0.8v0.8h-0.8zM85.4 433.6h0.8v0.8h-0.8zM83.0 459.6h0.8v0.8h-0.8zM84.9 458.1h0.8v0.8h-0.8zM85.4 461.9h0.8v0.8h-0.8zM85.2 450.5h0.8v0.8h-0.8zM80.2 446.7h0.8v0.8h-0.8zM87.7 443.3h0.8v0.8h-0.8zM72.0 435.2h0.8v0.8h-0.8zM88.3 455.7h0.8v0.8h-0.8zM74.2 453.0h0.8v0.8h-0.8zM81.1 429.0h0.8v0.8h-0.8zM85.6 429.6h0.8v0.8h-0.8zM88.4 450.5h0.8v0.8h-0.8zM86.6 463.1h0.8v0.8h-0.8zM81.2 436.3h0.8v0.8h-0.8zM80.3 447.2h0.8v0.8h-0.8zM86.4 460.1h0.8v0.8h-0.8zM84.3 419.5h0.8v0.8h-0.8zM92.3 436.0h0.8v0.8h-0.8zM90.8 460.4h0.8v0.8h-0.8zM81.7 451.7h0.8v0.8h-0.8zM88.8 462.2h0.8v0.8h-0.8zM84.9 419.0h0.8v0.8h-0.8zM91.1 430.9h0.8v0.8h-0.8zM86.5 456.1h0.8v0.8h-0.8zM89.0 451.0h0.8v0.8h-0.8zM80.8 417.9h0.8v0.8h-0.8zM90.8 423.4h0.8v0.8h-0.8zM83.3 454.6h0.8v0.8h-0.8zM87.9 430.1h0.8v0.8h-0.8zM91.5 453.5h0.8v0.8h-0.8zM82.2 455.4h0.8v0.8h-0.8zM92.1 460.8h0.8v0.8h-0.8zM83.8 463.4h0.8v0.8h-0.8zM83.5 448.6h0.8v0.8h-0.8zM81.4 445.5h0.8v0.8h-0.8zM98.8 447.3h0.8v0.8h-0.8zM92.7 426.4h0.8v0.8h-0.8zM83.9 445.6h0.8v0.8h-0.8zM87.8 445.9h0.8v0.8h-0.8zM90.2 457.2h0.8v0.8h-0.8zM79.7 460.3h0.8v0.8h-0.8zM75.5 425.0h0.8v0.8h-0.8zM84.0 462.8h0.8v0.8h-0.8zM82.2 455.5h0.8v0.8h-0.8zM79.0 443.0h0.8v0.8h-0.8zM85.2 427.6h0.8v0.8h-0.8zM87.4 449.9h0.8v0.8h-0.8zM84.0 428.8h0.8v0.8h-0.8zM82.7 417.0h0.8v0.8h-0.8zM85.3 443.4h0.8v0.8h-0.8zM75.8 461.2h0.8v0.8h-0.8zM96.0 448.7h0.8v0.8h-0.8zM80.7 453.3h0.8v0.8h-0.8zM93.5 436.2h0.8v0.8h-0.8zM83.5 461.3h0.8v0.8h-0.8zM79.6 461.5h0.8v0.8h-0.8zM83.0 442.0h0.8v0.8h-0.8zM83.6 440.7h0.8v0.8h-0.8zM87.1 442.1h0.8v0.8h-0.8zM93.7 463.7h0.8v0.8h-0.8zM78.4 433.3h0.8v0.8h-0.8zM80.9 423.2h0.8v0.8h-0.8zM93.7 455.5h0.8v0.8h-0.8zM87.3 451.8h0.8v0.8h-0.8zM98.6 452.4h0.8v0.8h-0.8zM92.5 460.1h0.8v0.8h-0.8zM89.7 430.4h0.8v0.8h-0.8zM90.8 453.0h0.8v0.8h-0.8zM85.7 452.8h0.8v0.8h-0.8zM94.7 427.8h0.8v0.8h-0.8zM91.6 441.0h0.8v0.8h-0.8zM94.5 434.6h0.8v0.8h-0.8zM83.6 463.6h0.8v0.8h-0.8zM89.8 442.7h0.8v0.8h-0.8zM90.0 443.7h0.8v0.8h-0.8zM86.2 427.1h0.8v0.8h-0.8zM89.1 458.9h0.8v0.8h-0.8zM84.3 463.0h0.8v0.8h-0.8zM105.6 444.3h0.8v0.8h-0.8zM90.9 427.7h0.8v0.8h-0.8zM82.1 423.8h0.8v0.8h-0.8zM85.0 458.0h0.8v0.8h-0.8zM95.0 434.3h0.8v0.8h-0.8zM85.5 463.3h0.8v0.8h-0.8zM81.2 450.8h0.8v0.8h-0.8zM94.5 454.9h0.8v0.8h-0.8zM77.2 441.4h0.8v0.8h-0.8zM93.9 431.9h0.8v0.8h-0.8zM89.7 425.5h0.8v0.8h-0.8zM93.7 437.2h0.8v0.8h-0.8zM84.1 447.1h0.8v0.8h-0.8zM92.8 460.8h0.8v0.8h-0.8zM84.7 457.4h0.8v0.8h-0.8zM88.1 417.3h0.8v0.8h-0.8zM88.5 425.6h0.8v0.8h-0.8zM90.9 459.5h0.8v0.8h-0.8zM84.2 457.5h0.8v0.8h-0.8zM89.2 444.9h0.8v0.8h-0.8zM87.6 456.9h0.8v0.8h-0.8zM85.8 455.5h0.8v0.8h-0.8zM81.7 463.4h0.8v0.8h-0.8zM96.0 460.1h0.8v0.8h-0.8zM89.9 463.7h0.8v0.8h-0.8zM87.4 455.9h0.8v0.8h-0.8zM83.3 459.7h0.8v0.8h-0.8zM85.6 447.7h0.8v0.8h-0.8zM89.0 448.0h0.8v0.8h-0.8zM89.9 456.9h0.8v0.8h-0.8zM89.5 431.7h0.8v0.8h-0.8zM83.2 418.3h0.8v0.8h-0.8zM95.1 439.4h0.8v0.8h-0.8zM87.8 458.9h0.8v0.8h-0.8zM79.8 447.0h0.8v0.8h-0.8zM74.3 417.6h0.8v0.8h-0.8zM89.6 462.8h0.8v0.8h-0.8zM83.2 456.7h0.8v0.8h-0.8zM92.2 453.9h0.8v0.8h-0.8zM88.7 423.5h0.8v0.8h-0.8zM80.7 445.9h0.8v0.8h-0.8zM90.6 420.6h0.8v0.8h-0.8zM83.0 442.3h0.8v0.8h-0.8zM91.9 452.1h0.8v0.8h-0.8zM86.1 457.4h0.8v0.8h-0.8zM85.2 434.4h0.8v0.8h-0.8zM93.3 454.7h0.8v0.8h-0.8zM88.9 459.8h0.8v0.8h-0.8zM92.2 451.7h0.8v0.8h-0.8zM87.3 446.0h0.8v0.8h-0.8zM89.2 417.8h0.8v0.8h-0.8zM92.9 451.3h0.8v0.8h-0.8zM96.5 449.7h0.8v0.8h-0.8zM82.7 456.1h0.8v0.8h-0.8zM84.6 457.0h0.8v0.8h-0.8zM98.0 463.6h0.8v0.8h-0.8zM91.3 457.5h0.8v0.8h-0.8zM92.1 461.8h0.8v0.8h-0.8zM88.1 460.2h0.8v0.8h-0.8zM90.7 440.5h0.8v0.8h-0.8zM82.9 448.4h0.8v0.8h-0.8zM89.3 449.5h0.8v0.8h-0.8zM75.6 458.1h0.8v0.8h-0.8zM82.1 431.6h0.8v0.8h-0.8zM82.7 446.8h0.8v0.8h-0.8zM95.6 438.1h0.8v0.8h-0.8zM91.2 451.8h0.8v0.8h-0.8zM93.8 459.2h0.8v0.8h-0.8zM86.5 427.5h0.8v0.8h-0.8zM78.8 461.3h0.8v0.8h-0.8zM83.3 419.5h0.8v0.8h-0.8zM86.2 447.7h0.8v0.8h-0.8zM91.7 454.4h0.8v0.8h-0.8zM90.9 454.8h0.8v0.8h-0.8zM87.9 438.9h0.8v0.8h-0.8zM85.0 456.7h0.8v0.8h-0.8zM85.5 458.3h0.8v0.8h-0.8zM81.9 442.8h0.8v0.8h-0.8zM92.9 456.0h0.8v0.8h-0.8zM76.8 449.6h0.8v0.8h-0.8zM91.9 433.2h0.8v0.8h-0.8zM76.8 460.3h0.8v0.8h-0.8zM86.9 421.7h0.8v0.8h-0.8zM87.4 462.0h0.8v0.8h-0.8zM84.0 456.6h0.8v0.8h-0.8zM80.5 417.5h0.8v0.8h-0.8zM85.8 429.1h0.8v0.8h-0.8zM83.5 419.6h0.8v0.8h-0.8zM85.8 454.3h0.8v0.8h-0.8zM87.8 458.7h0.8v0.8h-0.8zM90.2 433.8h0.8v0.8h-0.8zM75.2 442.5h0.8v0.8h-0.8zM92.6 452.4h0.8v0.8h-0.8zM85.8 461.8h0.8v0.8h-0.8zM87.8 459.9h0.8v0.8h-0.8zM89.1 462.3h0.8v0.8h-0.8zM86.0 461.9h0.8v0.8h-0.8zM87.6 459.4h0.8v0.8h-0.8zM87.5 459.7h0.8v0.8h-0.8zM93.5 419.3h0.8v0.8h-0.8zM90.7 424.6h0.8v0.8h-0.8zM83.2 422.1h0.8v0.8h-0.8zM91.3 439.5h0.8v0.8h-0.8zM81.2 463.3h0.8v0.8h-0.8zM77.9 459.3h0.8v0.8h-0.8zM83.7 434.2h0.8v0.8h-0.8zM93.2 444.8h0.8v0.8h-0.8zM86.3 417.7h0.8v0.8h-0.8zM88.0 432.4h0.8v0.8h-0.8zM89.2 458.6h0.8v0.8h-0.8zM85.6 458.9h0.8v0.8h-0.8zM86.4 439.8h0.8v0.8h-0.8zM90.6 456.6h0.8v0.8h-0.8zM76.3 437.8h0.8v0.8h-0.8zM88.5 458.5h0.8v0.8h-0.8zM72.0 445.9h0.8v0.8h-0.8zM86.5 442.0h0.8v0.8h-0.8zM100.1 433.7h0.8v0.8h-0.8zM80.3 457.4h0.8v0.8h-0.8zM93.1 457.6h0.8v0.8h-0.8zM84.0 462.7h0.8v0.8h-0.8zM99.7 443.9h0.8v0.8h-0.8zM89.0 447.1h0.8v0.8h-0.8zM96.4 421.2h0.8v0.8h-0.8zM90.1 464.1h0.8v0.8h-0.8zM91.0 456.5h0.8v0.8h-0.8zM83.2 460.8h0.8v0.8h-0.8zM93.4 458.4h0.8v0.8h-0.8zM86.6 455.8h0.8v0.8h-0.8zM83.5 460.5h0.8v0.8h-0.8zM78.4 428.6h0.8v0.8h-0.8zM91.8 419.9h0.8v0.8h-0.8zM84.8 420.4h0.8v0.8h-0.8zM90.0 457.1h0.8v0.8h-0.8zM83.9 431.4h0.8v0.8h-0.8zM83.1 449.3h0.8v0.8h-0.8zM78.5 453.5h0.8v0.8h-0.8zM86.3 455.1h0.8v0.8h-0.8zM83.2 460.3h0.8v0.8h-0.8zM80.9 451.4h0.8v0.8h-0.8zM84.9 455.3h0.8v0.8h-0.8zM86.3 450.7h0.8v0.8h-0.8zM89.7 438.1h0.8v0.8h-0.8zM85.0 444.2h0.8v0.8h-0.8zM92.8 462.2h0.8v0.8h-0.8zM86.1 454.1h0.8v0.8h-0.8zM87.7 422.6h0.8v0.8h-0.8zM98.3 440.2h0.8v0.8h-0.8zM72.0 455.0h0.8v0.8h-0.8zM85.1 459.9h0.8v0.8h-0.8zM88.9 434.1h0.8v0.8h-0.8zM80.1 428.9h0.8v0.8h-0.8zM85.0 441.0h0.8v0.8h-0.8zM84.6 460.0h0.8v0.8h-0.8zM90.3 452.2h0.8v0.8h-0.8zM74.9 440.3h0.8v0.8h-0.8zM89.9 418.1h0.8v0.8h-0.8zM91.3 434.2h0.8v0.8h-0.8zM88.1 433.7h0.8v0.8h-0.8zM83.8 449.8h0.8v0.8h-0.8zM88.5 460.7h0.8v0.8h-0.8zM85.1 432.8h0.8v0.8h-0.8zM85.9 455.7h0.8v0.8h-0.8zM82.4 431.5h0.8v0.8h-0.8zM83.0 443.2h0.8v0.8h-0.8zM94.5 461.2h0.8v0.8h-0.8zM93.1 462.1h0.8v0.8h-0.8zM93.4 458.1h0.8v0.8h-0.8zM82.0 460.5h0.8v0.8h-0.8zM82.8 444.2h0.8v0.8h-0.8zM83.1 461.8h0.8v0.8h-0.8zM90.6 455.9h0.8v0.8h-0.8zM89.2 453.6h0.8v0.8h-0.8zM80.7 457.8h0.8v0.8h-0.8zM85.2 459.2h0.8v0.8h-0.8zM82.2 459.1h0.8v0.8h-0.8zM92.2 423.5h0.8v0.8h-0.8zM79.1 443.8h0.8v0.8h-0.8zM81.1 435.0h0.8v0.8h-0.8zM82.5 436.0h0.8v0.8h-0.8zM91.5 447.5h0.8v0.8h-0.8zM85.0 434.7h0.8v0.8h-0.8zM95.4 435.1h0.8v0.8h-0.8zM96.2 438.4h0.8v0.8h-0.8zM91.4 462.6h0.8v0.8h-0.8zM79.8 462.8h0.8v0.8h-0.8zM82.6 447.6h0.8v0.8h-0.8zM91.0 430.0h0.8v0.8h-0.8zM87.8 454.7h0.8v0.8h-0.8zM86.1 454.8h0.8v0.8h-0.8zM82.8 445.3h0.8v0.8h-0.8zM95.0 456.7h0.8v0.8h-0.8zM90.8 418.0h0.8v0.8h-0.8zM78.6 456.5h0.8v0.8h-0.8zM84.1 460.7h0.8v0.8h-0.8zM82.9 461.9h0.8v0.8h-0.8zM78.5 423.9h0.8v0.8h-0.8zM92.8 449.6h0.8v0.8h-0.8zM86.3 444.5h0.8v0.8h-0.8zM81.8 462.3h0.8v0.8h-0.8zM85.4 420.8h0.8v0.8h-0.8zM86.7 463.8h0.8v0.8h-0.8zM81.9 462.4h0.8v0.8h-0.8zM92.7 458.8h0.8v0.8h-0.8zM83.3 462.1h0.8v0.8h-0.8zM86.4 439.1h0.8v0.8h-0.8zM83.6 434.8h0.8v0.8h-0.8zM96.8 426.1h0.8v0.8h-0.8zM78.9 435.7h0.8v0.8h-0.8zM88.9 454.1h0.8v0.8h-0.8zM95.8 456.4h0.8v0.8h-0.8zM100.1 434.3h0.8v0.8h-0.8zM92.7 423.3h0.8v0.8h-0.8zM85.1 444.3h0.8v0.8h-0.8zM85.7 463.8h0.8v0.8h-0.8zM83.0 429.8h0.8v0.8h-0.8zM95.2 463.5h0.8v0.8h-0.8zM84.6 463.0h0.8v0.8h-0.8zM86.3 458.2h0.8v0.8h-0.8zM89.5 448.3h0.8v0.8h-0.8zM97.9 453.8h0.8v0.8h-0.8zM76.7 456.7h0.8v0.8h-0.8zM83.4 432.8h0.8v0.8h-0.8zM96.2 454.5h0.8v0.8h-0.8zM82.4 463.4h0.8v0.8h-0.8zM91.6 463.2h0.8v0.8h-0.8zM78.8 460.4h0.8v0.8h-0.8zM85.1 432.9h0.8v0.8h-0.8zM83.7 449.6h0.8v0.8h-0.8zM93.1 464.1h0.8v0.8h-0.8zM73.1 442.7h0.8v0.8h-0.8zM95.4 457.4h0.8v0.8h-0.8zM81.6 450.1h0.8v0.8h-0.8zM83.1 458.5h0.8v0.8h-0.8zM79.0 463.4h0.8v0.8h-0.8zM86.6 427.6h0.8v0.8h-0.8zM85.1 434.7h0.8v0.8h-0.8zM97.5 459.2h0.8v0.8h-0.8z" fill="#2b3cff" opacity="0.95"/>
<path d="M70.4 456.9h.8v.8h-.8zM88.2 452.1h.8v.8h-.8zM84.0 484.6h.8v.8h-.8zM83.1 451.9h.8v.8h-.8zM69.5 461.8h.8v.8h-.8zM101.7 466.9h.8v.8h-.8zM67.2 463.1h.8v.8h-.8zM71.3 463.0h.8v.8h-.8zM103.8 463.8h.8v.8h-.8zM69.7 468.5h.8v.8h-.8zM99.6 463.6h.8v.8h-.8zM73.2 459.2h.8v.8h-.8zM99.3 461.6h.8v.8h-.8zM83.0 455.7h.8v.8h-.8zM75.3 479.2h.8v.8h-.8zM72.9 480.5h.8v.8h-.8zM74.3 480.6h.8v.8h-.8zM78.4 456.5h.8v.8h-.8zM104.0 469.1h.8v.8h-.8zM71.8 460.0h.8v.8h-.8zM70.4 471.4h.8v.8h-.8zM85.9 483.5h.8v.8h-.8zM101.5 456.5h.8v.8h-.8zM95.6 481.1h.8v.8h-.8zM74.0 484.4h.8v.8h-.8zM100.2 473.8h.8v.8h-.8zM91.6 455.8h.8v.8h-.8zM75.8 479.7h.8v.8h-.8zM78.8 484.4h.8v.8h-.8zM67.7 478.1h.8v.8h-.8zM73.4 457.9h.8v.8h-.8zM102.5 472.5h.8v.8h-.8zM79.0 455.9h.8v.8h-.8zM96.8 481.1h.8v.8h-.8zM82.4 483.7h.8v.8h-.8zM69.6 467.4h.8v.8h-.8zM69.3 474.4h.8v.8h-.8zM89.1 453.7h.8v.8h-.8zM80.8 484.8h.8v.8h-.8zM99.8 461.0h.8v.8h-.8zM84.2 483.3h.8v.8h-.8zM90.8 483.3h.8v.8h-.8zM77.9 456.5h.8v.8h-.8zM101.1 468.4h.8v.8h-.8zM87.3 452.9h.8v.8h-.8zM73.8 481.7h.8v.8h-.8zM65.9 463.7h.8v.8h-.8zM95.7 455.5h.8v.8h-.8zM72.9 479.5h.8v.8h-.8zM80.6 456.9h.8v.8h-.8zM101.5 472.0h.8v.8h-.8zM104.8 465.0h.8v.8h-.8zM74.4 457.6h.8v.8h-.8zM83.6 484.0h.8v.8h-.8zM101.6 477.5h.8v.8h-.8zM85.3 454.5h.8v.8h-.8zM100.2 471.4h.8v.8h-.8zM96.3 480.1h.8v.8h-.8zM70.6 472.6h.8v.8h-.8zM81.4 455.8h.8v.8h-.8zM66.7 468.1h.8v.8h-.8zM73.3 457.9h.8v.8h-.8zM79.8 485.9h.8v.8h-.8zM87.8 483.6h.8v.8h-.8zM90.0 455.8h.8v.8h-.8zM92.0 483.0h.8v.8h-.8zM101.7 464.2h.8v.8h-.8zM87.5 482.9h.8v.8h-.8zM91.7 483.2h.8v.8h-.8zM89.8 484.0h.8v.8h-.8zM88.2 482.8h.8v.8h-.8zM92.5 453.6h.8v.8h-.8zM100.2 477.9h.8v.8h-.8zM68.2 465.3h.8v.8h-.8zM71.2 471.7h.8v.8h-.8zM71.4 460.6h.8v.8h-.8zM95.1 457.9h.8v.8h-.8zM102.2 467.4h.8v.8h-.8zM98.2 456.9h.8v.8h-.8zM94.2 483.5h.8v.8h-.8zM72.3 480.3h.8v.8h-.8zM98.8 457.3h.8v.8h-.8zM70.1 475.6h.8v.8h-.8zM93.1 481.3h.8v.8h-.8zM100.6 456.6h.8v.8h-.8zM70.6 460.5h.8v.8h-.8zM101.2 469.1h.8v.8h-.8zM70.7 469.8h.8v.8h-.8zM101.4 473.8h.8v.8h-.8zM91.3 456.2h.8v.8h-.8zM100.7 468.2h.8v.8h-.8zM100.8 465.4h.8v.8h-.8zM67.4 469.4h.8v.8h-.8zM89.9 455.6h.8v.8h-.8zM83.3 455.1h.8v.8h-.8zM71.6 473.1h.8v.8h-.8zM97.8 479.4h.8v.8h-.8zM72.1 475.4h.8v.8h-.8zM95.7 479.2h.8v.8h-.8zM70.6 477.5h.8v.8h-.8zM103.5 469.8h.8v.8h-.8zM98.3 461.1h.8v.8h-.8zM69.9 470.3h.8v.8h-.8zM83.3 484.2h.8v.8h-.8zM72.4 454.8h.8v.8h-.8zM98.9 458.0h.8v.8h-.8zM97.9 455.5h.8v.8h-.8zM104.4 463.4h.8v.8h-.8zM69.7 477.5h.8v.8h-.8zM70.1 465.3h.8v.8h-.8zM71.2 465.6h.8v.8h-.8zM71.4 473.8h.8v.8h-.8zM98.4 459.6h.8v.8h-.8zM91.0 456.1h.8v.8h-.8zM97.8 459.8h.8v.8h-.8zM87.5 455.6h.8v.8h-.8zM73.3 458.1h.8v.8h-.8zM80.9 456.5h.8v.8h-.8zM85.5 454.8h.8v.8h-.8zM84.3 455.9h.8v.8h-.8zM99.3 460.7h.8v.8h-.8zM83.2 484.9h.8v.8h-.8zM81.6 486.8h.8v.8h-.8zM90.3 482.1h.8v.8h-.8zM69.2 467.9h.8v.8h-.8zM74.6 460.9h.8v.8h-.8zM74.1 478.6h.8v.8h-.8zM100.8 480.4h.8v.8h-.8zM98.1 475.5h.8v.8h-.8zM82.8 453.3h.8v.8h-.8zM83.8 482.9h.8v.8h-.8zM91.5 485.0h.8v.8h-.8zM71.6 473.4h.8v.8h-.8zM100.0 481.2h.8v.8h-.8zM93.0 481.2h.8v.8h-.8zM77.4 456.4h.8v.8h-.8zM74.3 460.7h.8v.8h-.8zM103.3 469.8h.8v.8h-.8zM81.5 456.6h.8v.8h-.8zM76.0 482.0h.8v.8h-.8zM100.3 461.7h.8v.8h-.8zM95.3 456.3h.8v.8h-.8zM99.8 462.0h.8v.8h-.8zM83.7 455.1h.8v.8h-.8zM82.8 453.9h.8v.8h-.8zM78.1 485.4h.8v.8h-.8zM88.5 485.7h.8v.8h-.8zM71.3 478.2h.8v.8h-.8zM86.6 452.8h.8v.8h-.8zM79.6 482.0h.8v.8h-.8zM101.5 468.5h.8v.8h-.8zM95.1 479.7h.8v.8h-.8zM94.2 451.2h.8v.8h-.8zM82.7 484.0h.8v.8h-.8zM97.5 456.8h.8v.8h-.8zM99.0 457.3h.8v.8h-.8zM97.3 480.1h.8v.8h-.8zM93.4 454.0h.8v.8h-.8zM77.1 456.0h.8v.8h-.8zM80.0 482.9h.8v.8h-.8zM100.1 473.4h.8v.8h-.8zM106.4 469.1h.8v.8h-.8zM96.4 478.2h.8v.8h-.8zM86.2 483.3h.8v.8h-.8zM97.9 479.2h.8v.8h-.8zM69.3 472.4h.8v.8h-.8zM71.2 469.6h.8v.8h-.8zM99.1 457.5h.8v.8h-.8zM100.3 470.0h.8v.8h-.8zM86.0 483.6h.8v.8h-.8zM80.4 454.3h.8v.8h-.8zM98.7 477.0h.8v.8h-.8zM83.8 484.6h.8v.8h-.8zM84.0 455.1h.8v.8h-.8zM101.0 459.3h.8v.8h-.8zM89.1 455.0h.8v.8h-.8zM72.0 479.0h.8v.8h-.8zM103.5 458.5h.8v.8h-.8zM100.0 465.1h.8v.8h-.8zM102.9 467.1h.8v.8h-.8zM99.0 477.5h.8v.8h-.8zM96.5 482.3h.8v.8h-.8zM100.6 464.5h.8v.8h-.8zM68.1 477.2h.8v.8h-.8zM72.3 461.9h.8v.8h-.8zM100.0 464.3h.8v.8h-.8zM86.5 484.5h.8v.8h-.8zM71.8 465.2h.8v.8h-.8zM79.3 485.4h.8v.8h-.8zM85.2 483.3h.8v.8h-.8zM81.0 484.8h.8v.8h-.8zM75.5 482.2h.8v.8h-.8zM69.2 472.4h.8v.8h-.8zM94.8 457.4h.8v.8h-.8zM94.8 484.4h.8v.8h-.8zM92.9 454.8h.8v.8h-.8zM103.6 480.3h.8v.8h-.8zM87.9 482.8h.8v.8h-.8zM97.2 477.2h.8v.8h-.8zM69.6 468.2h.8v.8h-.8zM99.3 477.0h.8v.8h-.8zM100.5 471.3h.8v.8h-.8zM74.3 459.1h.8v.8h-.8zM70.0 476.6h.8v.8h-.8zM96.8 456.3h.8v.8h-.8zM99.4 463.3h.8v.8h-.8zM72.2 475.6h.8v.8h-.8zM69.7 463.1h.8v.8h-.8zM71.9 479.4h.8v.8h-.8zM71.7 477.3h.8v.8h-.8zM71.3 462.7h.8v.8h-.8zM74.9 479.3h.8v.8h-.8zM100.6 470.3h.8v.8h-.8zM87.6 454.0h.8v.8h-.8zM84.6 455.7h.8v.8h-.8zM66.9 477.1h.8v.8h-.8zM72.2 484.5h.8v.8h-.8zM70.8 476.9h.8v.8h-.8zM72.0 477.1h.8v.8h-.8zM67.7 476.9h.8v.8h-.8zM82.9 483.1h.8v.8h-.8zM88.1 454.1h.8v.8h-.8zM84.8 450.3h.8v.8h-.8zM75.0 460.0h.8v.8h-.8zM84.5 454.8h.8v.8h-.8zM84.6 451.4h.8v.8h-.8zM97.3 477.9h.8v.8h-.8zM92.5 482.8h.8v.8h-.8zM96.9 455.7h.8v.8h-.8zM82.8 483.0h.8v.8h-.8zM83.5 451.8h.8v.8h-.8zM98.4 456.1h.8v.8h-.8zM70.2 461.9h.8v.8h-.8zM101.0 472.6h.8v.8h-.8zM99.9 461.1h.8v.8h-.8zM97.2 479.0h.8v.8h-.8zM75.9 459.6h.8v.8h-.8zM65.3 462.8h.8v.8h-.8zM99.2 473.6h.8v.8h-.8zM91.1 455.4h.8v.8h-.8zM81.7 455.4h.8v.8h-.8zM66.1 469.6h.8v.8h-.8zM97.9 458.1h.8v.8h-.8zM78.3 483.8h.8v.8h-.8zM81.6 483.9h.8v.8h-.8zM84.4 455.7h.8v.8h-.8zM94.2 482.4h.8v.8h-.8zM73.6 457.4h.8v.8h-.8zM71.1 474.2h.8v.8h-.8zM97.3 479.3h.8v.8h-.8zM71.4 462.0h.8v.8h-.8zM83.3 488.2h.8v.8h-.8zM96.7 457.1h.8v.8h-.8zM97.9 459.2h.8v.8h-.8zM68.2 464.1h.8v.8h-.8zM83.6 483.7h.8v.8h-.8zM89.3 484.9h.8v.8h-.8zM100.4 466.0h.8v.8h-.8zM91.3 453.5h.8v.8h-.8zM79.7 456.8h.8v.8h-.8z" fill="#2b3cff" opacity="0.9"/>
<ellipse cx="85.8" cy="469.2" rx="14.62" ry="13.24" fill="#2a42fb" transform="rotate(-24 85.8 469.2)" filter="url(#rag)"/>
<ellipse cx="82.8" cy="472.4" rx="12.4" ry="8.2" fill="url(#gC)" transform="rotate(-24 82.8 472.4)"/>
<line x1="85.3" y1="418.2" x2="101.0" y2="418.2" stroke="#2b3cff" stroke-width="0.6" stroke-dasharray="1.3 0.5" opacity="0.85"/>
<rect x="71.4" y="414.6" width="35.40" height="45.60" fill="none" stroke="#6a6a6a" stroke-width="0.65"/>
<text transform="translate(88.00 411.20) scale(0.87 1)" font-size="8.4" text-anchor="middle" fill="#1a1a1a">TBI</text>
<text transform="translate(118.30 437.30) scale(0.9 1)" font-size="6.7" text-anchor="middle" fill="#1a1a1a" style="stroke-width:.12px">3.03</text>
<rect x="135.5" y="414.6" width="82.50" height="76.2" fill="#fff" stroke="#c9c9c9" stroke-width="0.7"/>
<path d="M170.3 460.9h0.8v0.8h-0.8zM176.3 432.8h0.8v0.8h-0.8zM174.5 448.7h0.8v0.8h-0.8zM182.0 446.1h0.8v0.8h-0.8zM177.9 455.8h0.8v0.8h-0.8zM178.6 452.0h0.8v0.8h-0.8zM180.4 455.1h0.8v0.8h-0.8zM178.0 463.1h0.8v0.8h-0.8zM182.9 461.9h0.8v0.8h-0.8zM178.5 416.5h0.8v0.8h-0.8zM178.4 430.1h0.8v0.8h-0.8zM178.0 460.5h0.8v0.8h-0.8zM175.1 451.9h0.8v0.8h-0.8zM174.4 454.7h0.8v0.8h-0.8zM172.1 462.9h0.8v0.8h-0.8zM173.2 445.3h0.8v0.8h-0.8zM173.8 444.7h0.8v0.8h-0.8zM172.6 461.5h0.8v0.8h-0.8zM175.8 436.8h0.8v0.8h-0.8zM178.9 462.9h0.8v0.8h-0.8zM177.2 459.4h0.8v0.8h-0.8zM172.1 455.5h0.8v0.8h-0.8zM175.7 460.3h0.8v0.8h-0.8zM173.8 462.8h0.8v0.8h-0.8zM175.0 462.5h0.8v0.8h-0.8zM178.8 459.7h0.8v0.8h-0.8zM174.7 452.9h0.8v0.8h-0.8zM179.5 460.5h0.8v0.8h-0.8zM178.5 449.0h0.8v0.8h-0.8zM173.9 463.3h0.8v0.8h-0.8zM174.8 459.0h0.8v0.8h-0.8zM181.6 418.2h0.8v0.8h-0.8zM167.9 452.2h0.8v0.8h-0.8zM168.5 430.5h0.8v0.8h-0.8zM177.1 459.2h0.8v0.8h-0.8zM168.9 453.0h0.8v0.8h-0.8zM173.5 427.4h0.8v0.8h-0.8zM173.5 429.1h0.8v0.8h-0.8zM177.5 451.8h0.8v0.8h-0.8zM173.4 443.9h0.8v0.8h-0.8zM176.2 446.2h0.8v0.8h-0.8zM178.4 461.1h0.8v0.8h-0.8zM178.3 435.4h0.8v0.8h-0.8zM173.0 450.3h0.8v0.8h-0.8zM169.8 440.5h0.8v0.8h-0.8zM169.8 449.2h0.8v0.8h-0.8zM180.7 456.6h0.8v0.8h-0.8zM171.8 442.1h0.8v0.8h-0.8zM174.9 425.9h0.8v0.8h-0.8zM175.2 427.0h0.8v0.8h-0.8zM179.3 455.8h0.8v0.8h-0.8zM173.1 431.8h0.8v0.8h-0.8zM172.3 450.9h0.8v0.8h-0.8zM183.3 461.3h0.8v0.8h-0.8zM170.0 458.9h0.8v0.8h-0.8zM174.3 457.1h0.8v0.8h-0.8zM174.7 430.1h0.8v0.8h-0.8zM173.7 440.6h0.8v0.8h-0.8zM171.0 462.9h0.8v0.8h-0.8zM168.4 454.0h0.8v0.8h-0.8zM177.8 459.0h0.8v0.8h-0.8zM180.3 417.3h0.8v0.8h-0.8zM178.9 425.2h0.8v0.8h-0.8zM175.7 459.4h0.8v0.8h-0.8zM179.2 460.6h0.8v0.8h-0.8zM173.4 448.5h0.8v0.8h-0.8zM177.0 432.5h0.8v0.8h-0.8zM173.2 459.3h0.8v0.8h-0.8zM169.6 445.5h0.8v0.8h-0.8zM174.1 432.6h0.8v0.8h-0.8zM174.1 457.2h0.8v0.8h-0.8zM172.5 456.2h0.8v0.8h-0.8zM174.8 440.1h0.8v0.8h-0.8zM177.3 418.5h0.8v0.8h-0.8zM176.5 448.8h0.8v0.8h-0.8zM172.7 430.4h0.8v0.8h-0.8zM178.0 444.3h0.8v0.8h-0.8zM173.6 448.4h0.8v0.8h-0.8zM176.3 458.5h0.8v0.8h-0.8zM171.9 455.8h0.8v0.8h-0.8zM172.8 460.4h0.8v0.8h-0.8zM177.9 427.6h0.8v0.8h-0.8zM179.8 452.8h0.8v0.8h-0.8zM174.7 435.9h0.8v0.8h-0.8zM171.8 461.0h0.8v0.8h-0.8zM180.0 434.8h0.8v0.8h-0.8zM177.3 429.9h0.8v0.8h-0.8zM182.7 423.9h0.8v0.8h-0.8zM178.5 424.7h0.8v0.8h-0.8zM180.4 430.0h0.8v0.8h-0.8zM178.7 446.2h0.8v0.8h-0.8zM171.8 453.9h0.8v0.8h-0.8zM170.4 452.1h0.8v0.8h-0.8zM174.6 453.3h0.8v0.8h-0.8zM173.1 451.8h0.8v0.8h-0.8zM172.8 458.2h0.8v0.8h-0.8zM179.2 444.6h0.8v0.8h-0.8zM173.6 445.0h0.8v0.8h-0.8zM172.2 441.0h0.8v0.8h-0.8zM177.1 461.2h0.8v0.8h-0.8zM177.1 418.9h0.8v0.8h-0.8zM176.2 427.3h0.8v0.8h-0.8zM179.6 444.8h0.8v0.8h-0.8zM179.1 416.8h0.8v0.8h-0.8zM176.6 459.7h0.8v0.8h-0.8zM183.6 454.6h0.8v0.8h-0.8zM172.5 420.3h0.8v0.8h-0.8zM174.7 445.6h0.8v0.8h-0.8zM176.3 457.7h0.8v0.8h-0.8zM167.2 448.7h0.8v0.8h-0.8z" fill="#2b3cff" opacity="0.95"/>
<path d="M171.7 443.6h.8v.8h-.8zM164.7 465.0h.8v.8h-.8zM175.4 441.3h.8v.8h-.8zM164.2 484.6h.8v.8h-.8zM162.1 481.1h.8v.8h-.8zM161.4 464.9h.8v.8h-.8zM172.5 486.2h.8v.8h-.8zM164.2 480.7h.8v.8h-.8zM170.3 487.7h.8v.8h-.8zM176.7 481.6h.8v.8h-.8zM164.2 455.9h.8v.8h-.8zM169.4 485.7h.8v.8h-.8zM162.5 474.8h.8v.8h-.8zM169.4 445.7h.8v.8h-.8zM174.0 486.5h.8v.8h-.8zM167.0 452.9h.8v.8h-.8zM164.6 477.7h.8v.8h-.8zM182.0 465.1h.8v.8h-.8zM165.0 484.3h.8v.8h-.8zM173.8 482.2h.8v.8h-.8zM164.4 475.2h.8v.8h-.8zM164.1 480.1h.8v.8h-.8zM164.7 481.6h.8v.8h-.8zM165.9 481.6h.8v.8h-.8zM170.9 443.6h.8v.8h-.8zM170.4 445.1h.8v.8h-.8zM178.7 474.4h.8v.8h-.8zM169.5 485.4h.8v.8h-.8zM180.3 441.0h.8v.8h-.8zM173.8 482.4h.8v.8h-.8zM163.9 470.8h.8v.8h-.8zM169.8 489.4h.8v.8h-.8zM172.5 486.4h.8v.8h-.8zM167.0 450.0h.8v.8h-.8zM163.1 465.7h.8v.8h-.8zM181.8 457.1h.8v.8h-.8zM163.5 477.5h.8v.8h-.8zM174.3 443.6h.8v.8h-.8zM176.2 443.8h.8v.8h-.8zM175.3 439.7h.8v.8h-.8zM164.1 462.4h.8v.8h-.8zM174.5 440.0h.8v.8h-.8zM165.5 479.1h.8v.8h-.8zM181.2 451.9h.8v.8h-.8zM179.8 437.9h.8v.8h-.8zM183.6 450.4h.8v.8h-.8zM175.1 482.6h.8v.8h-.8zM165.9 484.8h.8v.8h-.8zM169.1 484.8h.8v.8h-.8zM179.5 471.6h.8v.8h-.8zM176.7 478.8h.8v.8h-.8zM176.7 480.2h.8v.8h-.8zM180.5 444.7h.8v.8h-.8zM167.8 449.3h.8v.8h-.8zM182.0 456.4h.8v.8h-.8zM181.1 448.0h.8v.8h-.8zM182.9 452.4h.8v.8h-.8zM164.6 479.2h.8v.8h-.8zM172.9 487.9h.8v.8h-.8zM165.4 455.2h.8v.8h-.8zM178.0 444.8h.8v.8h-.8zM183.0 451.7h.8v.8h-.8zM177.3 478.7h.8v.8h-.8zM180.2 446.4h.8v.8h-.8zM180.6 445.8h.8v.8h-.8zM181.4 468.5h.8v.8h-.8zM164.0 463.4h.8v.8h-.8zM179.1 475.9h.8v.8h-.8zM183.2 453.5h.8v.8h-.8zM180.0 447.5h.8v.8h-.8zM182.8 450.5h.8v.8h-.8zM180.5 447.3h.8v.8h-.8zM164.9 477.9h.8v.8h-.8zM178.3 444.9h.8v.8h-.8zM162.8 457.4h.8v.8h-.8zM170.6 489.4h.8v.8h-.8zM163.9 474.8h.8v.8h-.8zM163.5 458.5h.8v.8h-.8zM178.1 441.4h.8v.8h-.8zM170.2 441.5h.8v.8h-.8zM165.3 478.5h.8v.8h-.8zM176.5 479.9h.8v.8h-.8zM180.3 471.1h.8v.8h-.8zM168.5 450.8h.8v.8h-.8zM176.4 483.2h.8v.8h-.8zM173.6 483.3h.8v.8h-.8zM181.4 441.4h.8v.8h-.8zM170.4 489.4h.8v.8h-.8zM164.0 475.3h.8v.8h-.8zM166.4 453.3h.8v.8h-.8zM173.5 444.6h.8v.8h-.8zM177.2 437.2h.8v.8h-.8zM168.1 483.2h.8v.8h-.8zM174.1 485.5h.8v.8h-.8zM181.2 468.3h.8v.8h-.8zM178.2 477.6h.8v.8h-.8zM163.8 464.0h.8v.8h-.8zM166.5 454.1h.8v.8h-.8zM162.4 454.8h.8v.8h-.8zM182.0 452.8h.8v.8h-.8zM166.9 484.7h.8v.8h-.8zM182.3 456.7h.8v.8h-.8zM180.2 473.7h.8v.8h-.8zM170.9 439.6h.8v.8h-.8zM173.8 444.0h.8v.8h-.8zM182.0 459.9h.8v.8h-.8zM179.3 473.9h.8v.8h-.8zM180.1 443.4h.8v.8h-.8zM172.2 439.5h.8v.8h-.8zM164.4 470.5h.8v.8h-.8zM181.4 454.3h.8v.8h-.8zM181.7 460.0h.8v.8h-.8zM181.7 450.0h.8v.8h-.8zM172.0 486.9h.8v.8h-.8zM171.2 485.2h.8v.8h-.8zM164.5 465.4h.8v.8h-.8zM182.7 450.7h.8v.8h-.8zM172.0 444.1h.8v.8h-.8zM164.2 466.9h.8v.8h-.8zM183.3 463.2h.8v.8h-.8zM180.7 446.6h.8v.8h-.8zM174.2 486.0h.8v.8h-.8zM163.8 466.5h.8v.8h-.8zM172.2 484.0h.8v.8h-.8zM163.6 474.6h.8v.8h-.8zM164.9 484.9h.8v.8h-.8zM181.7 463.7h.8v.8h-.8zM162.8 472.3h.8v.8h-.8zM163.7 477.2h.8v.8h-.8zM185.0 450.6h.8v.8h-.8zM170.7 446.2h.8v.8h-.8zM165.6 457.1h.8v.8h-.8zM174.2 483.8h.8v.8h-.8zM174.1 486.0h.8v.8h-.8zM170.5 484.4h.8v.8h-.8zM182.6 449.8h.8v.8h-.8zM175.1 487.9h.8v.8h-.8zM167.9 447.4h.8v.8h-.8zM173.2 443.0h.8v.8h-.8zM181.4 462.4h.8v.8h-.8zM164.3 463.3h.8v.8h-.8zM168.3 484.5h.8v.8h-.8zM166.4 456.7h.8v.8h-.8zM167.9 489.4h.8v.8h-.8zM178.7 475.4h.8v.8h-.8zM182.4 458.1h.8v.8h-.8zM181.5 449.9h.8v.8h-.8zM180.8 471.4h.8v.8h-.8zM180.0 445.8h.8v.8h-.8zM163.7 471.3h.8v.8h-.8zM180.6 449.3h.8v.8h-.8zM181.7 453.5h.8v.8h-.8zM180.6 466.3h.8v.8h-.8zM167.0 484.5h.8v.8h-.8zM171.5 489.4h.8v.8h-.8zM180.8 445.3h.8v.8h-.8zM165.3 457.8h.8v.8h-.8zM167.4 483.9h.8v.8h-.8zM178.2 444.5h.8v.8h-.8zM166.1 480.9h.8v.8h-.8zM181.6 460.1h.8v.8h-.8zM168.7 484.9h.8v.8h-.8zM181.1 451.9h.8v.8h-.8zM177.6 482.7h.8v.8h-.8zM171.1 444.6h.8v.8h-.8zM176.3 439.7h.8v.8h-.8zM184.6 444.8h.8v.8h-.8zM162.9 476.1h.8v.8h-.8zM186.2 456.1h.8v.8h-.8zM178.6 481.8h.8v.8h-.8zM168.1 486.0h.8v.8h-.8zM168.2 489.4h.8v.8h-.8zM177.0 444.1h.8v.8h-.8zM178.0 475.2h.8v.8h-.8zM181.0 466.3h.8v.8h-.8zM172.2 437.6h.8v.8h-.8zM181.6 447.5h.8v.8h-.8zM173.3 443.0h.8v.8h-.8zM171.0 446.4h.8v.8h-.8zM181.5 451.2h.8v.8h-.8zM175.0 485.9h.8v.8h-.8zM176.1 442.2h.8v.8h-.8zM179.7 445.9h.8v.8h-.8zM175.2 441.3h.8v.8h-.8zM180.2 471.8h.8v.8h-.8zM163.9 476.8h.8v.8h-.8zM166.8 482.3h.8v.8h-.8zM176.0 481.5h.8v.8h-.8zM179.8 474.8h.8v.8h-.8zM182.4 463.8h.8v.8h-.8zM181.9 466.3h.8v.8h-.8zM166.9 482.8h.8v.8h-.8zM164.9 482.3h.8v.8h-.8zM168.5 486.1h.8v.8h-.8zM180.7 474.8h.8v.8h-.8zM174.9 438.0h.8v.8h-.8zM182.0 463.0h.8v.8h-.8zM170.4 489.4h.8v.8h-.8zM178.1 481.3h.8v.8h-.8zM174.7 443.6h.8v.8h-.8zM175.4 481.3h.8v.8h-.8zM179.0 478.0h.8v.8h-.8zM171.5 488.5h.8v.8h-.8zM178.0 476.4h.8v.8h-.8zM178.2 474.8h.8v.8h-.8zM163.3 465.8h.8v.8h-.8zM175.9 481.4h.8v.8h-.8zM162.8 473.1h.8v.8h-.8zM173.1 485.0h.8v.8h-.8zM177.4 480.2h.8v.8h-.8zM179.3 473.2h.8v.8h-.8zM175.3 443.9h.8v.8h-.8zM177.4 441.9h.8v.8h-.8zM174.7 489.4h.8v.8h-.8zM164.0 472.8h.8v.8h-.8zM180.6 448.9h.8v.8h-.8zM181.5 472.0h.8v.8h-.8zM181.2 463.3h.8v.8h-.8zM181.3 475.7h.8v.8h-.8zM178.7 438.9h.8v.8h-.8zM166.9 452.0h.8v.8h-.8zM181.4 446.3h.8v.8h-.8zM166.5 451.6h.8v.8h-.8zM169.6 448.0h.8v.8h-.8zM166.3 449.3h.8v.8h-.8zM165.6 482.8h.8v.8h-.8zM174.6 443.8h.8v.8h-.8zM164.2 458.6h.8v.8h-.8zM175.1 442.3h.8v.8h-.8zM173.3 483.5h.8v.8h-.8zM168.9 447.9h.8v.8h-.8zM182.4 448.8h.8v.8h-.8zM164.1 472.0h.8v.8h-.8zM162.5 475.8h.8v.8h-.8zM163.4 471.3h.8v.8h-.8zM164.1 483.7h.8v.8h-.8zM183.2 463.2h.8v.8h-.8zM181.3 456.0h.8v.8h-.8zM184.4 462.9h.8v.8h-.8zM177.5 477.8h.8v.8h-.8zM181.6 458.7h.8v.8h-.8zM174.5 441.6h.8v.8h-.8zM165.4 453.0h.8v.8h-.8zM163.9 468.5h.8v.8h-.8zM171.2 446.6h.8v.8h-.8zM170.3 447.7h.8v.8h-.8zM173.9 441.6h.8v.8h-.8zM165.0 456.6h.8v.8h-.8zM175.5 482.6h.8v.8h-.8zM181.2 476.0h.8v.8h-.8zM182.2 452.0h.8v.8h-.8zM169.0 447.4h.8v.8h-.8zM182.2 470.5h.8v.8h-.8zM164.1 477.6h.8v.8h-.8zM173.9 489.4h.8v.8h-.8zM177.9 479.3h.8v.8h-.8zM171.8 444.3h.8v.8h-.8zM166.0 454.8h.8v.8h-.8zM172.7 444.5h.8v.8h-.8zM182.4 454.9h.8v.8h-.8z" fill="#2b3cff" opacity="0.9"/>
<ellipse cx="172.9" cy="464.0" rx="7.91" ry="20.12" fill="#2a42fb" transform="rotate(9 172.9 464.0)" filter="url(#rag)"/>
<ellipse cx="173.2" cy="461.0" rx="5.6" ry="15.0" fill="url(#gC2)" transform="rotate(9 173.2 461.0)"/>
<line x1="172.0" y1="417.3" x2="183.4" y2="417.3" stroke="#2b3cff" stroke-width="0.6" stroke-dasharray="1.3 0.5" opacity="0.85"/>
<rect x="159.6" y="414.6" width="36.20" height="44.80" fill="none" stroke="#6a6a6a" stroke-width="0.65"/>
<text transform="translate(176.30 411.20) scale(0.87 1)" font-size="8.4" text-anchor="middle" fill="#1a1a1a">TBI+LN</text>
<text transform="translate(207.50 437.30) scale(0.9 1)" font-size="6.7" text-anchor="middle" fill="#1a1a1a" style="stroke-width:.12px">45.6</text>
<rect x="221.75" y="414.6" width="80.25" height="76.2" fill="#fff" stroke="#c9c9c9" stroke-width="0.7"/>
<path d="M261.4 433.2h0.8v0.8h-0.8zM271.7 426.5h0.8v0.8h-0.8zM264.8 461.3h0.8v0.8h-0.8zM265.6 459.6h0.8v0.8h-0.8zM260.1 448.5h0.8v0.8h-0.8zM268.5 428.5h0.8v0.8h-0.8zM269.8 437.3h0.8v0.8h-0.8zM272.3 441.7h0.8v0.8h-0.8zM272.8 453.5h0.8v0.8h-0.8zM258.4 441.0h0.8v0.8h-0.8zM255.8 454.5h0.8v0.8h-0.8zM259.3 461.5h0.8v0.8h-0.8zM266.9 444.7h0.8v0.8h-0.8zM251.6 441.4h0.8v0.8h-0.8zM268.4 460.4h0.8v0.8h-0.8zM269.2 439.2h0.8v0.8h-0.8zM261.9 455.4h0.8v0.8h-0.8zM269.1 437.9h0.8v0.8h-0.8zM262.4 432.4h0.8v0.8h-0.8zM266.7 444.8h0.8v0.8h-0.8zM268.1 420.3h0.8v0.8h-0.8zM260.2 422.7h0.8v0.8h-0.8zM266.2 460.7h0.8v0.8h-0.8zM250.5 431.1h0.8v0.8h-0.8zM270.7 453.6h0.8v0.8h-0.8zM254.4 443.3h0.8v0.8h-0.8zM273.1 443.0h0.8v0.8h-0.8zM274.9 443.3h0.8v0.8h-0.8zM254.5 442.7h0.8v0.8h-0.8zM257.8 457.9h0.8v0.8h-0.8zM267.0 426.3h0.8v0.8h-0.8zM270.3 444.5h0.8v0.8h-0.8zM254.5 435.6h0.8v0.8h-0.8zM259.2 461.9h0.8v0.8h-0.8zM279.3 429.6h0.8v0.8h-0.8zM262.4 442.5h0.8v0.8h-0.8zM268.4 434.7h0.8v0.8h-0.8zM265.4 431.1h0.8v0.8h-0.8zM246.3 453.2h0.8v0.8h-0.8zM262.4 457.9h0.8v0.8h-0.8zM269.4 442.0h0.8v0.8h-0.8zM263.5 446.3h0.8v0.8h-0.8zM264.9 456.5h0.8v0.8h-0.8zM258.0 429.0h0.8v0.8h-0.8zM263.7 433.8h0.8v0.8h-0.8zM267.7 449.5h0.8v0.8h-0.8zM261.5 460.1h0.8v0.8h-0.8zM261.7 450.6h0.8v0.8h-0.8zM259.4 461.1h0.8v0.8h-0.8zM266.6 461.6h0.8v0.8h-0.8zM264.0 455.6h0.8v0.8h-0.8zM258.0 422.1h0.8v0.8h-0.8zM257.6 417.3h0.8v0.8h-0.8zM267.3 461.3h0.8v0.8h-0.8zM263.9 450.9h0.8v0.8h-0.8zM256.7 416.7h0.8v0.8h-0.8zM262.2 437.3h0.8v0.8h-0.8zM274.9 456.7h0.8v0.8h-0.8zM263.4 445.9h0.8v0.8h-0.8zM257.8 451.8h0.8v0.8h-0.8zM268.1 448.0h0.8v0.8h-0.8zM258.7 427.0h0.8v0.8h-0.8zM264.6 436.7h0.8v0.8h-0.8zM264.3 457.8h0.8v0.8h-0.8zM267.2 418.8h0.8v0.8h-0.8zM260.7 448.1h0.8v0.8h-0.8zM269.9 440.3h0.8v0.8h-0.8zM268.3 447.9h0.8v0.8h-0.8zM267.1 449.6h0.8v0.8h-0.8zM253.2 429.9h0.8v0.8h-0.8zM269.2 450.6h0.8v0.8h-0.8zM261.8 463.4h0.8v0.8h-0.8zM266.9 419.2h0.8v0.8h-0.8zM262.9 453.5h0.8v0.8h-0.8zM266.0 440.5h0.8v0.8h-0.8zM256.7 458.7h0.8v0.8h-0.8zM248.6 460.1h0.8v0.8h-0.8zM265.3 453.2h0.8v0.8h-0.8zM265.0 452.2h0.8v0.8h-0.8zM269.8 421.0h0.8v0.8h-0.8zM257.3 452.5h0.8v0.8h-0.8zM259.1 434.7h0.8v0.8h-0.8zM264.4 454.5h0.8v0.8h-0.8zM272.3 463.1h0.8v0.8h-0.8zM264.3 460.8h0.8v0.8h-0.8zM259.3 438.3h0.8v0.8h-0.8zM266.4 448.5h0.8v0.8h-0.8zM259.8 439.6h0.8v0.8h-0.8zM269.0 456.9h0.8v0.8h-0.8zM262.4 418.7h0.8v0.8h-0.8zM259.9 441.9h0.8v0.8h-0.8zM255.6 456.3h0.8v0.8h-0.8zM272.7 445.2h0.8v0.8h-0.8zM257.1 445.9h0.8v0.8h-0.8zM257.8 448.1h0.8v0.8h-0.8zM259.3 462.6h0.8v0.8h-0.8zM256.5 439.6h0.8v0.8h-0.8zM255.2 455.8h0.8v0.8h-0.8zM265.0 455.0h0.8v0.8h-0.8zM255.1 454.1h0.8v0.8h-0.8zM267.6 424.5h0.8v0.8h-0.8zM260.3 456.0h0.8v0.8h-0.8zM268.4 436.6h0.8v0.8h-0.8zM265.4 429.4h0.8v0.8h-0.8zM255.0 462.2h0.8v0.8h-0.8zM266.4 422.8h0.8v0.8h-0.8zM259.6 459.8h0.8v0.8h-0.8zM266.8 457.9h0.8v0.8h-0.8zM267.0 421.4h0.8v0.8h-0.8zM278.6 419.4h0.8v0.8h-0.8zM258.7 417.2h0.8v0.8h-0.8zM264.9 462.7h0.8v0.8h-0.8zM263.0 446.3h0.8v0.8h-0.8zM270.2 444.2h0.8v0.8h-0.8zM265.7 418.9h0.8v0.8h-0.8zM250.0 451.8h0.8v0.8h-0.8zM250.9 447.2h0.8v0.8h-0.8zM260.5 454.7h0.8v0.8h-0.8zM262.2 450.6h0.8v0.8h-0.8zM267.2 458.2h0.8v0.8h-0.8zM261.4 460.7h0.8v0.8h-0.8zM259.2 423.6h0.8v0.8h-0.8zM263.6 461.8h0.8v0.8h-0.8zM257.8 461.7h0.8v0.8h-0.8zM259.6 443.7h0.8v0.8h-0.8zM254.0 430.9h0.8v0.8h-0.8zM261.7 462.0h0.8v0.8h-0.8zM262.3 451.2h0.8v0.8h-0.8zM264.9 461.1h0.8v0.8h-0.8zM255.7 439.1h0.8v0.8h-0.8zM262.1 463.2h0.8v0.8h-0.8zM265.7 441.2h0.8v0.8h-0.8zM261.9 450.2h0.8v0.8h-0.8zM259.0 417.6h0.8v0.8h-0.8zM264.6 452.7h0.8v0.8h-0.8zM253.7 436.3h0.8v0.8h-0.8zM257.5 450.9h0.8v0.8h-0.8zM257.8 454.5h0.8v0.8h-0.8zM260.1 434.8h0.8v0.8h-0.8zM269.9 450.4h0.8v0.8h-0.8zM263.4 441.3h0.8v0.8h-0.8zM255.3 441.7h0.8v0.8h-0.8zM268.3 460.2h0.8v0.8h-0.8zM256.8 435.4h0.8v0.8h-0.8zM248.3 431.7h0.8v0.8h-0.8zM262.1 453.7h0.8v0.8h-0.8zM264.2 454.5h0.8v0.8h-0.8zM258.9 462.6h0.8v0.8h-0.8zM252.5 450.2h0.8v0.8h-0.8zM268.6 462.9h0.8v0.8h-0.8zM259.8 448.4h0.8v0.8h-0.8zM255.4 430.3h0.8v0.8h-0.8zM272.9 458.7h0.8v0.8h-0.8zM273.9 454.0h0.8v0.8h-0.8zM269.1 462.5h0.8v0.8h-0.8zM259.0 447.2h0.8v0.8h-0.8zM262.2 419.7h0.8v0.8h-0.8zM265.1 453.5h0.8v0.8h-0.8zM273.7 448.3h0.8v0.8h-0.8zM264.7 420.4h0.8v0.8h-0.8zM264.8 441.1h0.8v0.8h-0.8zM252.2 446.7h0.8v0.8h-0.8zM271.2 448.7h0.8v0.8h-0.8zM259.7 436.8h0.8v0.8h-0.8zM269.6 439.4h0.8v0.8h-0.8zM268.8 441.0h0.8v0.8h-0.8zM263.4 443.2h0.8v0.8h-0.8zM262.5 445.4h0.8v0.8h-0.8zM265.6 447.3h0.8v0.8h-0.8zM261.9 422.6h0.8v0.8h-0.8zM262.5 443.6h0.8v0.8h-0.8zM269.8 462.2h0.8v0.8h-0.8zM260.7 443.4h0.8v0.8h-0.8zM254.4 429.9h0.8v0.8h-0.8zM251.8 435.7h0.8v0.8h-0.8zM265.2 445.7h0.8v0.8h-0.8zM264.0 453.5h0.8v0.8h-0.8zM257.4 428.5h0.8v0.8h-0.8zM250.7 463.5h0.8v0.8h-0.8zM259.3 449.6h0.8v0.8h-0.8zM257.8 444.7h0.8v0.8h-0.8zM264.2 422.5h0.8v0.8h-0.8zM267.0 455.2h0.8v0.8h-0.8zM257.2 432.4h0.8v0.8h-0.8zM255.1 460.4h0.8v0.8h-0.8zM255.6 429.7h0.8v0.8h-0.8zM252.1 443.3h0.8v0.8h-0.8zM264.1 456.9h0.8v0.8h-0.8zM261.5 440.4h0.8v0.8h-0.8zM256.1 430.4h0.8v0.8h-0.8zM249.0 441.5h0.8v0.8h-0.8zM253.2 441.9h0.8v0.8h-0.8zM260.0 454.9h0.8v0.8h-0.8zM257.2 424.9h0.8v0.8h-0.8zM256.4 429.8h0.8v0.8h-0.8zM259.0 453.3h0.8v0.8h-0.8zM259.2 443.1h0.8v0.8h-0.8zM255.8 421.8h0.8v0.8h-0.8zM254.9 457.7h0.8v0.8h-0.8zM255.6 423.7h0.8v0.8h-0.8zM256.6 441.7h0.8v0.8h-0.8zM272.1 424.6h0.8v0.8h-0.8zM272.9 423.2h0.8v0.8h-0.8zM274.1 440.0h0.8v0.8h-0.8zM259.8 451.9h0.8v0.8h-0.8zM257.7 420.7h0.8v0.8h-0.8zM264.2 432.0h0.8v0.8h-0.8zM261.8 435.1h0.8v0.8h-0.8zM266.9 448.6h0.8v0.8h-0.8zM254.4 457.7h0.8v0.8h-0.8zM264.3 459.1h0.8v0.8h-0.8zM261.6 454.6h0.8v0.8h-0.8zM257.0 462.4h0.8v0.8h-0.8zM263.9 446.7h0.8v0.8h-0.8zM264.2 461.7h0.8v0.8h-0.8zM259.5 431.0h0.8v0.8h-0.8zM263.4 455.4h0.8v0.8h-0.8zM264.4 438.9h0.8v0.8h-0.8zM268.9 453.4h0.8v0.8h-0.8zM268.8 455.4h0.8v0.8h-0.8zM257.6 429.4h0.8v0.8h-0.8zM266.9 453.0h0.8v0.8h-0.8zM265.3 456.5h0.8v0.8h-0.8zM263.5 448.1h0.8v0.8h-0.8zM257.8 454.9h0.8v0.8h-0.8zM257.7 417.2h0.8v0.8h-0.8zM265.5 421.6h0.8v0.8h-0.8zM264.8 432.0h0.8v0.8h-0.8zM270.1 453.4h0.8v0.8h-0.8zM268.2 452.8h0.8v0.8h-0.8zM257.7 431.8h0.8v0.8h-0.8zM261.5 454.3h0.8v0.8h-0.8zM259.2 452.9h0.8v0.8h-0.8zM265.1 456.0h0.8v0.8h-0.8zM260.7 458.6h0.8v0.8h-0.8zM267.6 430.2h0.8v0.8h-0.8zM265.1 444.8h0.8v0.8h-0.8zM263.9 458.7h0.8v0.8h-0.8zM259.7 420.4h0.8v0.8h-0.8zM270.2 453.5h0.8v0.8h-0.8zM258.1 427.8h0.8v0.8h-0.8zM267.3 426.9h0.8v0.8h-0.8zM272.7 434.5h0.8v0.8h-0.8zM267.0 425.3h0.8v0.8h-0.8zM263.0 457.1h0.8v0.8h-0.8zM246.3 454.5h0.8v0.8h-0.8zM267.9 455.4h0.8v0.8h-0.8zM265.2 454.0h0.8v0.8h-0.8zM258.3 458.8h0.8v0.8h-0.8zM275.1 453.0h0.8v0.8h-0.8zM256.3 442.5h0.8v0.8h-0.8zM257.7 456.2h0.8v0.8h-0.8zM263.7 430.5h0.8v0.8h-0.8zM249.9 454.9h0.8v0.8h-0.8zM259.9 456.7h0.8v0.8h-0.8zM266.6 462.1h0.8v0.8h-0.8zM263.7 432.5h0.8v0.8h-0.8zM268.5 458.0h0.8v0.8h-0.8zM248.1 446.7h0.8v0.8h-0.8zM268.9 437.4h0.8v0.8h-0.8zM248.0 441.2h0.8v0.8h-0.8zM261.4 430.6h0.8v0.8h-0.8zM264.2 450.7h0.8v0.8h-0.8zM260.7 459.1h0.8v0.8h-0.8zM263.0 463.2h0.8v0.8h-0.8zM257.7 416.1h0.8v0.8h-0.8zM272.7 452.2h0.8v0.8h-0.8zM270.6 429.5h0.8v0.8h-0.8zM261.1 444.7h0.8v0.8h-0.8zM253.6 433.4h0.8v0.8h-0.8zM272.2 439.1h0.8v0.8h-0.8zM252.2 451.7h0.8v0.8h-0.8zM263.9 456.8h0.8v0.8h-0.8zM264.3 462.8h0.8v0.8h-0.8zM266.9 447.9h0.8v0.8h-0.8zM260.3 459.7h0.8v0.8h-0.8zM256.7 424.2h0.8v0.8h-0.8zM259.8 455.6h0.8v0.8h-0.8zM266.2 430.1h0.8v0.8h-0.8zM275.7 420.2h0.8v0.8h-0.8zM254.9 425.0h0.8v0.8h-0.8zM255.2 444.6h0.8v0.8h-0.8zM257.6 457.0h0.8v0.8h-0.8zM247.4 442.1h0.8v0.8h-0.8zM258.4 433.2h0.8v0.8h-0.8zM268.8 453.5h0.8v0.8h-0.8zM258.3 436.8h0.8v0.8h-0.8zM264.5 433.3h0.8v0.8h-0.8zM267.3 430.7h0.8v0.8h-0.8zM269.3 456.9h0.8v0.8h-0.8zM268.6 452.1h0.8v0.8h-0.8zM266.9 452.0h0.8v0.8h-0.8zM259.1 441.7h0.8v0.8h-0.8zM265.3 455.6h0.8v0.8h-0.8zM261.9 449.4h0.8v0.8h-0.8zM274.4 457.2h0.8v0.8h-0.8zM263.2 423.6h0.8v0.8h-0.8zM263.8 445.6h0.8v0.8h-0.8zM266.2 458.7h0.8v0.8h-0.8zM256.9 444.7h0.8v0.8h-0.8zM251.0 462.7h0.8v0.8h-0.8zM260.3 436.8h0.8v0.8h-0.8zM260.9 446.1h0.8v0.8h-0.8zM257.4 445.6h0.8v0.8h-0.8zM268.1 431.6h0.8v0.8h-0.8zM264.4 446.0h0.8v0.8h-0.8zM257.2 457.4h0.8v0.8h-0.8zM254.1 455.1h0.8v0.8h-0.8zM263.5 457.5h0.8v0.8h-0.8zM252.8 439.7h0.8v0.8h-0.8zM252.9 455.5h0.8v0.8h-0.8zM263.9 444.0h0.8v0.8h-0.8zM268.1 427.9h0.8v0.8h-0.8zM256.4 462.8h0.8v0.8h-0.8zM264.8 452.4h0.8v0.8h-0.8zM261.5 459.2h0.8v0.8h-0.8zM277.5 453.7h0.8v0.8h-0.8zM266.4 458.3h0.8v0.8h-0.8zM270.0 438.2h0.8v0.8h-0.8zM263.5 425.2h0.8v0.8h-0.8zM260.3 460.3h0.8v0.8h-0.8zM264.8 456.3h0.8v0.8h-0.8zM249.5 424.2h0.8v0.8h-0.8zM257.2 444.7h0.8v0.8h-0.8zM265.3 452.4h0.8v0.8h-0.8zM268.8 454.0h0.8v0.8h-0.8zM264.2 452.8h0.8v0.8h-0.8zM263.9 445.8h0.8v0.8h-0.8zM272.0 451.5h0.8v0.8h-0.8zM270.8 425.3h0.8v0.8h-0.8zM262.8 427.3h0.8v0.8h-0.8zM261.4 454.1h0.8v0.8h-0.8zM267.9 444.1h0.8v0.8h-0.8zM269.6 446.8h0.8v0.8h-0.8zM248.8 440.6h0.8v0.8h-0.8zM273.1 450.9h0.8v0.8h-0.8zM257.2 444.3h0.8v0.8h-0.8zM277.5 444.4h0.8v0.8h-0.8zM274.7 420.6h0.8v0.8h-0.8zM266.0 432.6h0.8v0.8h-0.8zM246.3 444.6h0.8v0.8h-0.8zM263.6 461.3h0.8v0.8h-0.8zM276.2 430.8h0.8v0.8h-0.8zM261.7 445.6h0.8v0.8h-0.8zM270.2 462.6h0.8v0.8h-0.8zM258.0 449.7h0.8v0.8h-0.8zM260.8 427.5h0.8v0.8h-0.8zM270.3 453.0h0.8v0.8h-0.8zM260.7 448.4h0.8v0.8h-0.8zM257.5 423.0h0.8v0.8h-0.8zM257.7 445.1h0.8v0.8h-0.8zM257.9 439.8h0.8v0.8h-0.8zM252.5 425.6h0.8v0.8h-0.8zM273.5 461.4h0.8v0.8h-0.8zM255.6 448.8h0.8v0.8h-0.8zM257.1 437.7h0.8v0.8h-0.8zM259.7 433.1h0.8v0.8h-0.8zM276.9 457.7h0.8v0.8h-0.8zM263.5 417.1h0.8v0.8h-0.8zM259.2 453.1h0.8v0.8h-0.8zM254.9 459.6h0.8v0.8h-0.8zM260.4 427.3h0.8v0.8h-0.8zM267.8 416.5h0.8v0.8h-0.8zM251.9 424.3h0.8v0.8h-0.8zM260.1 460.5h0.8v0.8h-0.8zM261.6 460.8h0.8v0.8h-0.8zM256.7 431.7h0.8v0.8h-0.8zM259.7 443.1h0.8v0.8h-0.8zM262.7 439.5h0.8v0.8h-0.8zM266.8 451.7h0.8v0.8h-0.8zM259.5 423.4h0.8v0.8h-0.8zM269.9 422.7h0.8v0.8h-0.8zM261.1 446.6h0.8v0.8h-0.8zM270.7 435.9h0.8v0.8h-0.8zM255.9 448.0h0.8v0.8h-0.8zM263.0 430.0h0.8v0.8h-0.8zM260.1 457.4h0.8v0.8h-0.8zM264.8 452.2h0.8v0.8h-0.8zM260.7 446.7h0.8v0.8h-0.8zM252.4 424.3h0.8v0.8h-0.8zM256.9 453.5h0.8v0.8h-0.8zM250.6 451.9h0.8v0.8h-0.8zM270.7 423.6h0.8v0.8h-0.8zM262.8 461.1h0.8v0.8h-0.8zM260.9 433.7h0.8v0.8h-0.8zM259.6 446.3h0.8v0.8h-0.8zM253.8 424.9h0.8v0.8h-0.8zM271.9 448.4h0.8v0.8h-0.8zM254.4 447.1h0.8v0.8h-0.8zM251.0 460.7h0.8v0.8h-0.8zM257.3 451.5h0.8v0.8h-0.8zM267.1 425.4h0.8v0.8h-0.8zM260.7 427.3h0.8v0.8h-0.8zM264.4 459.5h0.8v0.8h-0.8zM260.6 427.6h0.8v0.8h-0.8zM261.1 449.5h0.8v0.8h-0.8zM258.3 441.5h0.8v0.8h-0.8zM261.0 456.1h0.8v0.8h-0.8zM249.7 442.8h0.8v0.8h-0.8zM266.1 451.5h0.8v0.8h-0.8zM260.9 457.4h0.8v0.8h-0.8zM259.8 449.6h0.8v0.8h-0.8zM256.5 448.0h0.8v0.8h-0.8zM259.0 454.6h0.8v0.8h-0.8zM266.8 431.0h0.8v0.8h-0.8zM247.7 453.9h0.8v0.8h-0.8zM266.8 428.9h0.8v0.8h-0.8zM258.1 449.7h0.8v0.8h-0.8zM273.7 460.3h0.8v0.8h-0.8zM260.1 463.2h0.8v0.8h-0.8zM259.7 460.8h0.8v0.8h-0.8zM265.9 463.1h0.8v0.8h-0.8zM267.6 452.2h0.8v0.8h-0.8zM270.1 444.5h0.8v0.8h-0.8zM264.5 449.3h0.8v0.8h-0.8zM272.3 424.0h0.8v0.8h-0.8zM260.2 446.3h0.8v0.8h-0.8zM260.7 450.1h0.8v0.8h-0.8zM271.5 435.4h0.8v0.8h-0.8zM257.7 418.8h0.8v0.8h-0.8zM255.6 446.3h0.8v0.8h-0.8zM266.4 456.0h0.8v0.8h-0.8zM261.1 441.6h0.8v0.8h-0.8zM253.9 438.2h0.8v0.8h-0.8zM256.5 452.0h0.8v0.8h-0.8zM246.3 458.0h0.8v0.8h-0.8zM246.3 435.0h0.8v0.8h-0.8zM255.5 443.4h0.8v0.8h-0.8zM265.6 458.4h0.8v0.8h-0.8zM271.0 444.6h0.8v0.8h-0.8zM261.9 432.2h0.8v0.8h-0.8zM253.9 453.7h0.8v0.8h-0.8zM247.3 436.6h0.8v0.8h-0.8zM255.9 435.2h0.8v0.8h-0.8zM259.5 428.5h0.8v0.8h-0.8zM259.6 442.2h0.8v0.8h-0.8zM256.7 459.4h0.8v0.8h-0.8zM265.0 459.8h0.8v0.8h-0.8zM260.5 457.5h0.8v0.8h-0.8zM259.6 456.4h0.8v0.8h-0.8zM268.9 430.7h0.8v0.8h-0.8zM269.7 443.9h0.8v0.8h-0.8zM262.1 451.4h0.8v0.8h-0.8zM264.1 419.3h0.8v0.8h-0.8zM268.5 426.6h0.8v0.8h-0.8zM258.0 421.1h0.8v0.8h-0.8zM264.6 441.0h0.8v0.8h-0.8zM271.6 455.3h0.8v0.8h-0.8zM261.1 456.0h0.8v0.8h-0.8zM260.4 455.5h0.8v0.8h-0.8zM254.7 436.7h0.8v0.8h-0.8zM250.4 428.9h0.8v0.8h-0.8zM273.5 457.0h0.8v0.8h-0.8zM263.5 455.3h0.8v0.8h-0.8zM271.3 418.8h0.8v0.8h-0.8zM272.3 460.5h0.8v0.8h-0.8zM261.9 433.7h0.8v0.8h-0.8zM261.5 441.7h0.8v0.8h-0.8zM260.1 462.6h0.8v0.8h-0.8zM258.2 462.7h0.8v0.8h-0.8zM262.9 419.6h0.8v0.8h-0.8zM254.8 445.0h0.8v0.8h-0.8zM261.2 456.8h0.8v0.8h-0.8zM259.7 441.1h0.8v0.8h-0.8zM258.7 461.8h0.8v0.8h-0.8zM267.5 442.8h0.8v0.8h-0.8zM268.7 447.2h0.8v0.8h-0.8zM260.3 446.1h0.8v0.8h-0.8zM273.8 454.2h0.8v0.8h-0.8zM258.7 460.6h0.8v0.8h-0.8zM254.4 420.3h0.8v0.8h-0.8zM261.4 436.0h0.8v0.8h-0.8zM259.4 455.6h0.8v0.8h-0.8zM270.0 460.1h0.8v0.8h-0.8zM269.8 432.2h0.8v0.8h-0.8zM259.0 439.6h0.8v0.8h-0.8zM250.5 416.9h0.8v0.8h-0.8zM269.3 461.6h0.8v0.8h-0.8zM255.6 454.6h0.8v0.8h-0.8zM258.2 430.7h0.8v0.8h-0.8zM267.8 458.4h0.8v0.8h-0.8zM269.3 453.0h0.8v0.8h-0.8zM248.2 439.2h0.8v0.8h-0.8zM273.9 459.7h0.8v0.8h-0.8zM261.9 444.8h0.8v0.8h-0.8zM259.1 449.5h0.8v0.8h-0.8zM271.4 458.4h0.8v0.8h-0.8zM259.7 457.7h0.8v0.8h-0.8zM256.9 434.4h0.8v0.8h-0.8zM264.9 417.7h0.8v0.8h-0.8zM259.9 450.8h0.8v0.8h-0.8zM267.6 423.4h0.8v0.8h-0.8zM265.9 434.9h0.8v0.8h-0.8zM252.2 453.3h0.8v0.8h-0.8zM263.3 459.0h0.8v0.8h-0.8zM260.7 460.8h0.8v0.8h-0.8zM267.0 450.8h0.8v0.8h-0.8zM260.2 456.5h0.8v0.8h-0.8zM264.3 462.6h0.8v0.8h-0.8zM250.7 459.5h0.8v0.8h-0.8zM268.7 454.8h0.8v0.8h-0.8zM261.8 424.8h0.8v0.8h-0.8zM261.4 451.4h0.8v0.8h-0.8zM259.1 434.7h0.8v0.8h-0.8zM267.5 439.6h0.8v0.8h-0.8zM264.6 446.7h0.8v0.8h-0.8zM259.8 460.5h0.8v0.8h-0.8zM270.4 434.2h0.8v0.8h-0.8zM258.1 431.7h0.8v0.8h-0.8zM266.8 461.4h0.8v0.8h-0.8zM268.1 427.8h0.8v0.8h-0.8zM258.6 437.1h0.8v0.8h-0.8zM252.3 459.6h0.8v0.8h-0.8zM267.9 447.3h0.8v0.8h-0.8zM264.0 440.1h0.8v0.8h-0.8zM265.1 441.6h0.8v0.8h-0.8zM254.0 433.0h0.8v0.8h-0.8zM271.4 431.0h0.8v0.8h-0.8zM265.4 454.6h0.8v0.8h-0.8zM253.0 457.0h0.8v0.8h-0.8zM253.7 425.5h0.8v0.8h-0.8zM267.1 435.5h0.8v0.8h-0.8zM261.9 444.3h0.8v0.8h-0.8zM258.5 451.6h0.8v0.8h-0.8zM267.8 437.6h0.8v0.8h-0.8zM256.6 455.0h0.8v0.8h-0.8zM266.0 454.2h0.8v0.8h-0.8zM268.5 429.8h0.8v0.8h-0.8zM261.6 460.9h0.8v0.8h-0.8zM255.6 446.5h0.8v0.8h-0.8zM255.1 462.0h0.8v0.8h-0.8zM266.6 453.2h0.8v0.8h-0.8zM257.5 435.2h0.8v0.8h-0.8zM251.3 437.4h0.8v0.8h-0.8zM267.7 420.3h0.8v0.8h-0.8zM260.9 443.1h0.8v0.8h-0.8zM258.9 454.3h0.8v0.8h-0.8zM269.2 438.8h0.8v0.8h-0.8zM257.6 457.9h0.8v0.8h-0.8zM259.3 450.4h0.8v0.8h-0.8zM275.5 458.2h0.8v0.8h-0.8zM264.3 440.2h0.8v0.8h-0.8zM255.8 459.4h0.8v0.8h-0.8zM257.7 463.1h0.8v0.8h-0.8zM270.1 433.6h0.8v0.8h-0.8zM264.9 441.9h0.8v0.8h-0.8zM258.9 460.4h0.8v0.8h-0.8zM256.4 448.2h0.8v0.8h-0.8zM253.1 457.8h0.8v0.8h-0.8zM265.7 433.7h0.8v0.8h-0.8zM266.9 421.5h0.8v0.8h-0.8zM257.9 462.1h0.8v0.8h-0.8zM268.9 436.4h0.8v0.8h-0.8zM257.5 435.1h0.8v0.8h-0.8zM258.4 459.5h0.8v0.8h-0.8zM260.4 459.4h0.8v0.8h-0.8zM268.8 461.7h0.8v0.8h-0.8zM265.2 450.3h0.8v0.8h-0.8zM259.0 441.9h0.8v0.8h-0.8zM259.8 455.5h0.8v0.8h-0.8zM254.8 459.7h0.8v0.8h-0.8zM273.9 447.2h0.8v0.8h-0.8zM260.7 456.7h0.8v0.8h-0.8zM257.1 437.3h0.8v0.8h-0.8zM257.3 457.7h0.8v0.8h-0.8zM256.1 436.1h0.8v0.8h-0.8zM261.5 460.2h0.8v0.8h-0.8zM258.3 442.3h0.8v0.8h-0.8zM260.4 451.6h0.8v0.8h-0.8zM267.6 430.5h0.8v0.8h-0.8zM265.3 447.5h0.8v0.8h-0.8zM261.8 447.8h0.8v0.8h-0.8zM268.2 444.6h0.8v0.8h-0.8zM272.3 430.7h0.8v0.8h-0.8zM271.4 449.9h0.8v0.8h-0.8zM276.9 421.4h0.8v0.8h-0.8zM263.9 435.3h0.8v0.8h-0.8zM274.9 454.2h0.8v0.8h-0.8zM263.2 433.7h0.8v0.8h-0.8zM270.7 462.1h0.8v0.8h-0.8zM263.9 459.5h0.8v0.8h-0.8zM258.0 449.9h0.8v0.8h-0.8zM268.5 438.8h0.8v0.8h-0.8zM256.4 461.6h0.8v0.8h-0.8zM256.9 462.3h0.8v0.8h-0.8zM271.6 458.9h0.8v0.8h-0.8zM271.2 458.0h0.8v0.8h-0.8zM271.5 433.2h0.8v0.8h-0.8zM264.9 452.5h0.8v0.8h-0.8zM265.0 438.0h0.8v0.8h-0.8zM264.6 462.1h0.8v0.8h-0.8zM272.3 455.6h0.8v0.8h-0.8zM254.3 427.3h0.8v0.8h-0.8zM259.1 453.3h0.8v0.8h-0.8zM265.6 462.7h0.8v0.8h-0.8zM259.0 449.4h0.8v0.8h-0.8zM260.0 453.7h0.8v0.8h-0.8zM257.0 435.4h0.8v0.8h-0.8zM252.1 444.5h0.8v0.8h-0.8zM246.3 444.4h0.8v0.8h-0.8zM262.5 457.2h0.8v0.8h-0.8zM268.1 418.8h0.8v0.8h-0.8zM272.0 452.2h0.8v0.8h-0.8zM264.0 452.0h0.8v0.8h-0.8zM254.5 446.5h0.8v0.8h-0.8zM269.6 458.5h0.8v0.8h-0.8zM255.5 432.5h0.8v0.8h-0.8zM259.6 453.1h0.8v0.8h-0.8zM250.3 450.0h0.8v0.8h-0.8zM267.6 459.1h0.8v0.8h-0.8zM267.8 453.8h0.8v0.8h-0.8zM273.6 425.6h0.8v0.8h-0.8zM257.7 444.7h0.8v0.8h-0.8zM260.2 462.2h0.8v0.8h-0.8zM263.6 422.3h0.8v0.8h-0.8zM261.3 457.8h0.8v0.8h-0.8zM257.5 443.6h0.8v0.8h-0.8zM262.4 459.7h0.8v0.8h-0.8zM259.4 426.6h0.8v0.8h-0.8zM252.3 449.4h0.8v0.8h-0.8zM256.0 455.5h0.8v0.8h-0.8zM265.6 438.7h0.8v0.8h-0.8zM252.6 457.5h0.8v0.8h-0.8zM252.1 439.4h0.8v0.8h-0.8zM264.9 452.6h0.8v0.8h-0.8zM260.1 454.3h0.8v0.8h-0.8zM265.4 459.8h0.8v0.8h-0.8zM257.5 444.4h0.8v0.8h-0.8zM258.9 441.0h0.8v0.8h-0.8zM267.4 430.9h0.8v0.8h-0.8zM256.6 450.0h0.8v0.8h-0.8zM273.2 436.3h0.8v0.8h-0.8zM264.6 446.6h0.8v0.8h-0.8zM247.3 419.0h0.8v0.8h-0.8zM265.6 450.3h0.8v0.8h-0.8zM268.4 419.6h0.8v0.8h-0.8zM253.2 426.1h0.8v0.8h-0.8zM267.0 451.0h0.8v0.8h-0.8zM253.7 446.1h0.8v0.8h-0.8zM261.6 451.2h0.8v0.8h-0.8z" fill="#2b3cff" opacity="0.95"/>
<path d="M277.4 468.3h.8v.8h-.8zM273.5 465.6h.8v.8h-.8zM253.8 457.1h.8v.8h-.8zM269.5 457.9h.8v.8h-.8zM247.9 463.6h.8v.8h-.8zM248.1 481.9h.8v.8h-.8zM251.5 482.5h.8v.8h-.8zM252.9 485.3h.8v.8h-.8zM251.0 485.0h.8v.8h-.8zM252.7 482.9h.8v.8h-.8zM265.1 484.2h.8v.8h-.8zM266.4 484.3h.8v.8h-.8zM265.8 458.3h.8v.8h-.8zM274.4 472.1h.8v.8h-.8zM277.2 471.7h.8v.8h-.8zM242.8 471.8h.8v.8h-.8zM244.4 463.9h.8v.8h-.8zM274.3 468.3h.8v.8h-.8zM267.4 480.6h.8v.8h-.8zM262.3 486.1h.8v.8h-.8zM243.7 463.0h.8v.8h-.8zM273.2 476.3h.8v.8h-.8zM270.0 478.4h.8v.8h-.8zM273.3 474.0h.8v.8h-.8zM245.7 467.7h.8v.8h-.8zM271.6 476.5h.8v.8h-.8zM244.8 466.5h.8v.8h-.8zM256.8 487.4h.8v.8h-.8zM261.6 483.3h.8v.8h-.8zM267.8 459.0h.8v.8h-.8zM269.7 479.3h.8v.8h-.8zM264.5 453.5h.8v.8h-.8zM243.9 466.7h.8v.8h-.8zM269.7 480.5h.8v.8h-.8zM251.1 459.2h.8v.8h-.8zM250.3 461.4h.8v.8h-.8zM244.0 465.3h.8v.8h-.8zM266.8 455.3h.8v.8h-.8zM240.7 474.3h.8v.8h-.8zM273.5 478.3h.8v.8h-.8zM274.6 468.8h.8v.8h-.8zM249.4 486.9h.8v.8h-.8zM260.1 485.0h.8v.8h-.8zM265.1 485.7h.8v.8h-.8zM269.2 480.4h.8v.8h-.8zM260.6 486.8h.8v.8h-.8zM257.7 456.8h.8v.8h-.8zM271.7 459.2h.8v.8h-.8zM248.0 462.9h.8v.8h-.8zM251.7 460.2h.8v.8h-.8zM242.2 465.9h.8v.8h-.8zM275.2 476.5h.8v.8h-.8zM271.7 477.5h.8v.8h-.8zM247.9 459.3h.8v.8h-.8zM270.0 461.0h.8v.8h-.8zM269.2 480.0h.8v.8h-.8zM270.6 479.7h.8v.8h-.8zM248.2 482.4h.8v.8h-.8zM244.5 475.3h.8v.8h-.8zM252.0 482.9h.8v.8h-.8zM267.3 481.1h.8v.8h-.8zM278.5 475.0h.8v.8h-.8zM253.5 486.8h.8v.8h-.8zM248.3 458.3h.8v.8h-.8zM249.0 485.0h.8v.8h-.8zM273.2 465.5h.8v.8h-.8zM272.4 456.8h.8v.8h-.8zM246.3 483.3h.8v.8h-.8zM243.6 478.9h.8v.8h-.8zM261.6 454.0h.8v.8h-.8zM242.7 467.6h.8v.8h-.8zM256.2 457.5h.8v.8h-.8zM243.0 479.4h.8v.8h-.8zM263.6 485.1h.8v.8h-.8zM240.2 474.6h.8v.8h-.8zM271.2 455.9h.8v.8h-.8zM276.4 465.8h.8v.8h-.8zM263.0 455.4h.8v.8h-.8zM267.8 456.6h.8v.8h-.8zM273.5 473.1h.8v.8h-.8zM262.6 457.8h.8v.8h-.8zM252.1 487.5h.8v.8h-.8zM263.4 484.4h.8v.8h-.8zM266.1 484.6h.8v.8h-.8zM275.3 464.9h.8v.8h-.8zM244.1 470.3h.8v.8h-.8zM244.2 475.9h.8v.8h-.8zM269.3 460.4h.8v.8h-.8zM274.2 463.7h.8v.8h-.8zM256.6 485.8h.8v.8h-.8zM276.8 460.1h.8v.8h-.8zM246.2 465.5h.8v.8h-.8zM274.7 475.7h.8v.8h-.8zM250.6 481.6h.8v.8h-.8zM274.3 475.6h.8v.8h-.8zM263.8 483.0h.8v.8h-.8zM260.0 456.8h.8v.8h-.8zM274.2 476.8h.8v.8h-.8zM271.4 477.8h.8v.8h-.8zM245.8 467.1h.8v.8h-.8zM273.7 480.2h.8v.8h-.8zM244.1 468.3h.8v.8h-.8zM247.2 456.7h.8v.8h-.8zM247.4 480.0h.8v.8h-.8zM261.7 484.5h.8v.8h-.8zM249.9 455.9h.8v.8h-.8zM254.4 457.2h.8v.8h-.8zM261.1 486.1h.8v.8h-.8zM269.2 457.9h.8v.8h-.8zM274.9 462.1h.8v.8h-.8zM255.1 455.5h.8v.8h-.8zM246.9 458.7h.8v.8h-.8zM267.3 458.6h.8v.8h-.8zM257.7 483.5h.8v.8h-.8zM246.4 465.2h.8v.8h-.8zM271.6 461.9h.8v.8h-.8zM258.6 484.3h.8v.8h-.8zM268.2 481.6h.8v.8h-.8zM259.2 457.7h.8v.8h-.8zM244.8 480.9h.8v.8h-.8zM256.2 486.9h.8v.8h-.8zM239.7 466.1h.8v.8h-.8zM254.5 487.0h.8v.8h-.8zM271.1 459.5h.8v.8h-.8zM275.8 461.6h.8v.8h-.8zM272.5 477.6h.8v.8h-.8zM257.8 484.0h.8v.8h-.8zM270.5 483.1h.8v.8h-.8zM244.2 466.0h.8v.8h-.8zM270.1 460.1h.8v.8h-.8zM255.3 458.0h.8v.8h-.8zM245.3 467.6h.8v.8h-.8zM255.8 486.8h.8v.8h-.8zM243.3 476.0h.8v.8h-.8zM245.0 461.6h.8v.8h-.8zM246.7 480.6h.8v.8h-.8zM250.1 458.3h.8v.8h-.8zM258.4 457.8h.8v.8h-.8zM241.4 474.1h.8v.8h-.8zM272.9 477.9h.8v.8h-.8zM270.5 458.8h.8v.8h-.8zM274.6 461.2h.8v.8h-.8zM275.2 468.6h.8v.8h-.8zM261.5 488.4h.8v.8h-.8zM249.1 485.1h.8v.8h-.8zM275.0 466.6h.8v.8h-.8zM244.8 462.1h.8v.8h-.8zM252.4 459.4h.8v.8h-.8zM274.7 462.9h.8v.8h-.8zM278.3 473.0h.8v.8h-.8zM241.8 475.7h.8v.8h-.8zM261.3 488.7h.8v.8h-.8zM268.6 454.2h.8v.8h-.8zM252.3 484.6h.8v.8h-.8zM257.7 485.4h.8v.8h-.8zM245.6 462.6h.8v.8h-.8zM244.9 466.9h.8v.8h-.8zM276.0 470.2h.8v.8h-.8zM266.8 458.3h.8v.8h-.8zM272.2 462.4h.8v.8h-.8zM271.2 459.2h.8v.8h-.8zM254.5 458.3h.8v.8h-.8zM259.9 456.0h.8v.8h-.8zM258.4 455.4h.8v.8h-.8zM272.4 462.5h.8v.8h-.8zM273.4 478.0h.8v.8h-.8zM264.3 488.0h.8v.8h-.8zM274.5 474.7h.8v.8h-.8zM244.7 466.4h.8v.8h-.8zM246.9 481.3h.8v.8h-.8zM256.5 458.2h.8v.8h-.8zM256.6 483.5h.8v.8h-.8zM276.4 469.5h.8v.8h-.8zM266.5 457.8h.8v.8h-.8zM273.6 477.6h.8v.8h-.8zM274.8 476.7h.8v.8h-.8zM249.0 480.9h.8v.8h-.8zM256.7 483.6h.8v.8h-.8zM273.1 463.2h.8v.8h-.8zM249.8 461.5h.8v.8h-.8zM254.7 487.9h.8v.8h-.8zM269.9 480.0h.8v.8h-.8zM274.9 474.4h.8v.8h-.8zM243.4 476.4h.8v.8h-.8zM246.2 482.5h.8v.8h-.8zM257.8 455.4h.8v.8h-.8zM253.2 457.5h.8v.8h-.8zM246.7 481.2h.8v.8h-.8zM251.3 482.1h.8v.8h-.8zM248.8 483.0h.8v.8h-.8zM272.6 475.8h.8v.8h-.8zM268.1 456.8h.8v.8h-.8zM264.4 484.0h.8v.8h-.8zM275.9 465.8h.8v.8h-.8zM275.7 467.8h.8v.8h-.8zM275.2 476.8h.8v.8h-.8zM271.8 476.7h.8v.8h-.8zM276.5 471.1h.8v.8h-.8zM256.2 454.1h.8v.8h-.8zM259.8 456.0h.8v.8h-.8zM275.5 460.7h.8v.8h-.8zM244.3 480.0h.8v.8h-.8zM246.9 478.2h.8v.8h-.8zM258.3 483.8h.8v.8h-.8zM260.8 453.7h.8v.8h-.8zM244.4 472.0h.8v.8h-.8zM275.3 465.6h.8v.8h-.8zM247.9 462.5h.8v.8h-.8zM269.1 460.3h.8v.8h-.8zM245.8 466.0h.8v.8h-.8zM242.9 474.5h.8v.8h-.8zM263.2 457.3h.8v.8h-.8zM246.1 463.8h.8v.8h-.8zM254.0 483.3h.8v.8h-.8zM271.3 477.1h.8v.8h-.8zM246.9 462.9h.8v.8h-.8zM256.7 484.5h.8v.8h-.8zM273.5 479.3h.8v.8h-.8zM252.4 484.5h.8v.8h-.8zM277.6 467.1h.8v.8h-.8zM276.2 459.1h.8v.8h-.8zM243.3 466.8h.8v.8h-.8zM251.0 460.2h.8v.8h-.8zM254.4 457.7h.8v.8h-.8zM248.6 484.3h.8v.8h-.8zM268.7 458.9h.8v.8h-.8zM272.9 476.1h.8v.8h-.8zM277.9 476.0h.8v.8h-.8zM277.2 476.4h.8v.8h-.8zM242.8 464.6h.8v.8h-.8zM259.1 455.2h.8v.8h-.8zM271.8 461.7h.8v.8h-.8zM272.6 476.8h.8v.8h-.8zM252.2 483.0h.8v.8h-.8zM273.8 465.7h.8v.8h-.8zM272.9 461.8h.8v.8h-.8zM268.9 482.1h.8v.8h-.8zM256.6 483.5h.8v.8h-.8zM280.9 474.6h.8v.8h-.8zM245.5 466.2h.8v.8h-.8zM272.4 478.6h.8v.8h-.8zM246.1 466.3h.8v.8h-.8zM251.8 482.6h.8v.8h-.8zM276.2 472.2h.8v.8h-.8zM246.5 481.6h.8v.8h-.8zM273.0 475.1h.8v.8h-.8zM259.5 457.8h.8v.8h-.8zM266.5 457.8h.8v.8h-.8zM269.1 459.2h.8v.8h-.8zM246.9 478.4h.8v.8h-.8zM273.2 464.2h.8v.8h-.8zM269.2 479.6h.8v.8h-.8zM274.3 461.1h.8v.8h-.8zM244.7 471.7h.8v.8h-.8zM243.1 470.0h.8v.8h-.8zM275.4 466.6h.8v.8h-.8zM249.9 484.2h.8v.8h-.8zM252.5 486.1h.8v.8h-.8zM274.1 462.8h.8v.8h-.8zM273.6 460.8h.8v.8h-.8z" fill="#2b3cff" opacity="0.9"/>
<ellipse cx="259.4" cy="470.6" rx="14.62" ry="12.56" fill="#2a42fb" transform="rotate(-20 259.4 470.6)" filter="url(#rag)"/>
<ellipse cx="256.6" cy="472.6" rx="12.4" ry="8.4" fill="url(#gC)" transform="rotate(-20 256.6 472.6)"/>
<line x1="252.0" y1="417.6" x2="272.0" y2="417.6" stroke="#2b3cff" stroke-width="0.6" stroke-dasharray="1.3 0.5" opacity="0.85"/>
<rect x="245.75" y="414.6" width="34.75" height="44.90" fill="none" stroke="#6a6a6a" stroke-width="0.65"/>
<text transform="translate(262.00 411.20) scale(0.87 1)" font-size="8.4" text-anchor="middle" fill="#1a1a1a">TBI</text>
<text transform="translate(292.00 437.30) scale(0.9 1)" font-size="6.7" text-anchor="middle" fill="#1a1a1a" style="stroke-width:.12px">2.72</text>
<rect x="307.5" y="414.6" width="80.00" height="76.2" fill="#fff" stroke="#c9c9c9" stroke-width="0.7"/>
<path d="M355.3 418.4h0.8v0.8h-0.8zM353.7 427.6h0.8v0.8h-0.8zM346.6 445.1h0.8v0.8h-0.8zM338.2 439.5h0.8v0.8h-0.8zM350.8 456.4h0.8v0.8h-0.8zM350.6 451.5h0.8v0.8h-0.8zM345.0 446.0h0.8v0.8h-0.8zM344.8 444.8h0.8v0.8h-0.8zM351.7 425.4h0.8v0.8h-0.8zM351.6 455.2h0.8v0.8h-0.8zM354.4 430.5h0.8v0.8h-0.8zM347.1 461.6h0.8v0.8h-0.8zM339.8 420.6h0.8v0.8h-0.8zM342.7 452.0h0.8v0.8h-0.8zM349.9 451.2h0.8v0.8h-0.8zM354.1 461.8h0.8v0.8h-0.8zM348.7 417.7h0.8v0.8h-0.8zM345.0 461.6h0.8v0.8h-0.8zM344.7 445.0h0.8v0.8h-0.8zM347.0 453.8h0.8v0.8h-0.8zM340.7 461.9h0.8v0.8h-0.8zM348.2 459.2h0.8v0.8h-0.8zM357.5 422.7h0.8v0.8h-0.8zM336.2 449.9h0.8v0.8h-0.8zM357.4 454.7h0.8v0.8h-0.8zM348.7 450.0h0.8v0.8h-0.8zM352.1 460.2h0.8v0.8h-0.8zM345.6 453.4h0.8v0.8h-0.8zM347.3 430.1h0.8v0.8h-0.8zM353.8 449.4h0.8v0.8h-0.8zM344.4 458.9h0.8v0.8h-0.8zM362.2 422.9h0.8v0.8h-0.8zM349.0 458.6h0.8v0.8h-0.8zM351.9 442.8h0.8v0.8h-0.8zM352.1 456.1h0.8v0.8h-0.8zM344.9 449.0h0.8v0.8h-0.8zM357.6 434.0h0.8v0.8h-0.8zM343.7 455.7h0.8v0.8h-0.8zM355.3 457.5h0.8v0.8h-0.8zM345.5 448.3h0.8v0.8h-0.8zM347.8 456.9h0.8v0.8h-0.8zM362.4 421.0h0.8v0.8h-0.8zM350.5 427.8h0.8v0.8h-0.8zM356.9 450.9h0.8v0.8h-0.8zM339.3 432.5h0.8v0.8h-0.8zM355.2 461.3h0.8v0.8h-0.8zM348.1 461.0h0.8v0.8h-0.8zM351.0 459.5h0.8v0.8h-0.8zM341.9 420.2h0.8v0.8h-0.8zM340.0 450.5h0.8v0.8h-0.8zM353.8 436.9h0.8v0.8h-0.8zM349.4 431.6h0.8v0.8h-0.8zM356.4 451.0h0.8v0.8h-0.8zM351.2 454.2h0.8v0.8h-0.8zM331.9 435.3h0.8v0.8h-0.8zM355.5 462.4h0.8v0.8h-0.8zM349.0 433.0h0.8v0.8h-0.8zM342.2 463.4h0.8v0.8h-0.8zM336.8 451.5h0.8v0.8h-0.8zM351.0 458.8h0.8v0.8h-0.8zM347.6 463.5h0.8v0.8h-0.8zM357.2 459.2h0.8v0.8h-0.8zM362.2 432.6h0.8v0.8h-0.8zM346.5 454.1h0.8v0.8h-0.8zM339.0 422.5h0.8v0.8h-0.8zM359.9 437.2h0.8v0.8h-0.8zM342.9 434.6h0.8v0.8h-0.8zM331.9 426.5h0.8v0.8h-0.8zM353.7 438.2h0.8v0.8h-0.8zM350.4 445.2h0.8v0.8h-0.8zM354.0 417.8h0.8v0.8h-0.8zM346.2 453.2h0.8v0.8h-0.8zM341.6 426.2h0.8v0.8h-0.8zM352.5 427.6h0.8v0.8h-0.8zM350.6 454.2h0.8v0.8h-0.8zM343.8 463.0h0.8v0.8h-0.8zM343.1 439.7h0.8v0.8h-0.8zM338.8 459.4h0.8v0.8h-0.8zM347.2 460.3h0.8v0.8h-0.8zM338.5 444.7h0.8v0.8h-0.8zM341.0 441.0h0.8v0.8h-0.8zM353.3 452.5h0.8v0.8h-0.8zM350.1 444.2h0.8v0.8h-0.8zM342.6 453.8h0.8v0.8h-0.8zM345.3 460.8h0.8v0.8h-0.8zM361.2 445.1h0.8v0.8h-0.8zM338.4 421.2h0.8v0.8h-0.8zM348.3 463.1h0.8v0.8h-0.8zM345.1 442.1h0.8v0.8h-0.8zM347.4 457.6h0.8v0.8h-0.8zM341.5 456.6h0.8v0.8h-0.8zM351.7 432.8h0.8v0.8h-0.8zM341.9 429.0h0.8v0.8h-0.8zM345.5 429.8h0.8v0.8h-0.8zM350.7 451.0h0.8v0.8h-0.8zM345.2 453.5h0.8v0.8h-0.8zM348.4 461.6h0.8v0.8h-0.8zM353.8 454.3h0.8v0.8h-0.8zM348.9 452.3h0.8v0.8h-0.8zM336.7 459.1h0.8v0.8h-0.8zM343.9 441.2h0.8v0.8h-0.8zM345.1 451.3h0.8v0.8h-0.8zM356.2 435.1h0.8v0.8h-0.8zM356.9 448.9h0.8v0.8h-0.8zM354.4 455.7h0.8v0.8h-0.8zM351.9 437.1h0.8v0.8h-0.8zM341.3 445.5h0.8v0.8h-0.8zM348.7 456.3h0.8v0.8h-0.8zM352.2 436.3h0.8v0.8h-0.8zM344.0 439.3h0.8v0.8h-0.8zM346.3 463.3h0.8v0.8h-0.8zM346.2 432.9h0.8v0.8h-0.8zM347.6 439.1h0.8v0.8h-0.8zM350.5 423.9h0.8v0.8h-0.8zM343.9 454.7h0.8v0.8h-0.8zM349.3 435.7h0.8v0.8h-0.8zM332.7 416.8h0.8v0.8h-0.8zM341.9 457.5h0.8v0.8h-0.8zM338.0 459.0h0.8v0.8h-0.8zM344.9 423.9h0.8v0.8h-0.8zM350.6 444.1h0.8v0.8h-0.8zM346.7 425.8h0.8v0.8h-0.8zM347.4 448.7h0.8v0.8h-0.8zM352.2 457.6h0.8v0.8h-0.8zM354.1 458.5h0.8v0.8h-0.8zM342.7 451.7h0.8v0.8h-0.8zM347.7 454.8h0.8v0.8h-0.8zM347.1 416.8h0.8v0.8h-0.8zM343.0 455.0h0.8v0.8h-0.8zM348.9 443.6h0.8v0.8h-0.8zM336.2 419.6h0.8v0.8h-0.8zM333.6 424.9h0.8v0.8h-0.8zM346.4 463.0h0.8v0.8h-0.8zM350.6 457.2h0.8v0.8h-0.8zM342.8 451.2h0.8v0.8h-0.8zM349.9 463.3h0.8v0.8h-0.8zM344.8 454.3h0.8v0.8h-0.8zM351.5 419.2h0.8v0.8h-0.8zM342.7 459.2h0.8v0.8h-0.8zM351.6 458.1h0.8v0.8h-0.8zM339.2 441.9h0.8v0.8h-0.8zM347.0 444.4h0.8v0.8h-0.8zM356.9 456.4h0.8v0.8h-0.8zM343.6 453.2h0.8v0.8h-0.8zM347.4 463.2h0.8v0.8h-0.8zM341.2 458.0h0.8v0.8h-0.8zM337.2 417.2h0.8v0.8h-0.8zM347.9 459.3h0.8v0.8h-0.8zM349.4 422.1h0.8v0.8h-0.8zM346.6 449.1h0.8v0.8h-0.8zM350.2 429.4h0.8v0.8h-0.8zM344.6 462.9h0.8v0.8h-0.8zM344.0 454.4h0.8v0.8h-0.8zM354.3 420.2h0.8v0.8h-0.8zM348.5 434.3h0.8v0.8h-0.8zM347.5 457.0h0.8v0.8h-0.8zM337.0 435.1h0.8v0.8h-0.8zM342.6 440.1h0.8v0.8h-0.8zM359.9 420.6h0.8v0.8h-0.8zM349.1 448.0h0.8v0.8h-0.8zM356.6 430.6h0.8v0.8h-0.8zM348.3 448.1h0.8v0.8h-0.8zM352.9 458.9h0.8v0.8h-0.8zM337.9 436.4h0.8v0.8h-0.8zM354.0 445.4h0.8v0.8h-0.8zM346.2 452.0h0.8v0.8h-0.8zM349.1 437.3h0.8v0.8h-0.8zM340.2 445.8h0.8v0.8h-0.8zM345.4 451.6h0.8v0.8h-0.8zM351.0 422.5h0.8v0.8h-0.8zM353.7 463.5h0.8v0.8h-0.8zM344.9 431.3h0.8v0.8h-0.8zM349.0 419.2h0.8v0.8h-0.8zM347.4 449.3h0.8v0.8h-0.8zM358.3 455.8h0.8v0.8h-0.8zM346.7 461.3h0.8v0.8h-0.8zM344.9 451.1h0.8v0.8h-0.8zM349.5 433.0h0.8v0.8h-0.8zM343.5 447.7h0.8v0.8h-0.8zM359.8 447.5h0.8v0.8h-0.8zM364.3 423.3h0.8v0.8h-0.8zM335.4 429.1h0.8v0.8h-0.8zM345.5 455.9h0.8v0.8h-0.8zM345.2 418.6h0.8v0.8h-0.8zM344.7 459.6h0.8v0.8h-0.8zM343.9 437.7h0.8v0.8h-0.8zM337.2 429.2h0.8v0.8h-0.8zM350.3 440.4h0.8v0.8h-0.8zM353.1 444.9h0.8v0.8h-0.8zM353.6 437.4h0.8v0.8h-0.8zM353.5 463.5h0.8v0.8h-0.8zM351.5 422.8h0.8v0.8h-0.8zM346.5 460.8h0.8v0.8h-0.8zM353.0 443.4h0.8v0.8h-0.8zM343.7 437.9h0.8v0.8h-0.8zM347.1 459.9h0.8v0.8h-0.8zM344.4 434.5h0.8v0.8h-0.8zM340.3 461.8h0.8v0.8h-0.8zM340.5 434.5h0.8v0.8h-0.8zM345.4 434.1h0.8v0.8h-0.8zM355.6 430.4h0.8v0.8h-0.8zM349.1 458.9h0.8v0.8h-0.8zM349.4 453.3h0.8v0.8h-0.8zM341.8 455.3h0.8v0.8h-0.8zM354.4 460.3h0.8v0.8h-0.8zM345.7 459.7h0.8v0.8h-0.8zM342.2 449.7h0.8v0.8h-0.8zM350.9 457.1h0.8v0.8h-0.8zM354.6 421.2h0.8v0.8h-0.8zM349.3 457.6h0.8v0.8h-0.8zM357.6 434.6h0.8v0.8h-0.8zM348.9 461.4h0.8v0.8h-0.8zM350.6 426.8h0.8v0.8h-0.8zM345.9 449.8h0.8v0.8h-0.8zM345.8 457.2h0.8v0.8h-0.8zM343.4 450.1h0.8v0.8h-0.8zM345.3 420.7h0.8v0.8h-0.8zM340.9 448.5h0.8v0.8h-0.8zM349.6 461.2h0.8v0.8h-0.8zM354.5 452.7h0.8v0.8h-0.8zM357.2 457.9h0.8v0.8h-0.8zM342.0 431.8h0.8v0.8h-0.8zM331.9 424.8h0.8v0.8h-0.8zM344.2 450.2h0.8v0.8h-0.8zM348.7 463.2h0.8v0.8h-0.8zM348.0 445.7h0.8v0.8h-0.8zM331.9 417.1h0.8v0.8h-0.8zM351.9 419.9h0.8v0.8h-0.8zM340.7 461.3h0.8v0.8h-0.8zM351.4 458.0h0.8v0.8h-0.8zM358.3 462.8h0.8v0.8h-0.8zM343.7 417.9h0.8v0.8h-0.8zM345.9 419.0h0.8v0.8h-0.8zM348.1 453.5h0.8v0.8h-0.8zM347.2 421.2h0.8v0.8h-0.8zM351.1 422.3h0.8v0.8h-0.8zM348.5 432.7h0.8v0.8h-0.8zM345.2 439.3h0.8v0.8h-0.8zM355.2 454.5h0.8v0.8h-0.8zM348.1 458.7h0.8v0.8h-0.8zM349.5 460.6h0.8v0.8h-0.8zM342.7 443.6h0.8v0.8h-0.8zM341.9 455.0h0.8v0.8h-0.8zM343.5 423.2h0.8v0.8h-0.8zM354.1 458.5h0.8v0.8h-0.8zM356.5 462.3h0.8v0.8h-0.8zM364.3 441.0h0.8v0.8h-0.8zM340.9 422.4h0.8v0.8h-0.8zM359.3 425.3h0.8v0.8h-0.8zM353.6 428.9h0.8v0.8h-0.8zM351.6 419.0h0.8v0.8h-0.8zM346.0 461.7h0.8v0.8h-0.8zM353.9 436.8h0.8v0.8h-0.8zM333.7 452.8h0.8v0.8h-0.8zM341.7 459.2h0.8v0.8h-0.8zM360.5 462.9h0.8v0.8h-0.8zM350.2 463.1h0.8v0.8h-0.8zM342.3 434.1h0.8v0.8h-0.8zM336.5 419.0h0.8v0.8h-0.8zM347.2 420.8h0.8v0.8h-0.8zM354.8 430.5h0.8v0.8h-0.8zM345.0 436.2h0.8v0.8h-0.8zM343.6 446.3h0.8v0.8h-0.8zM355.6 441.1h0.8v0.8h-0.8zM353.9 462.3h0.8v0.8h-0.8zM351.1 461.6h0.8v0.8h-0.8zM348.1 463.1h0.8v0.8h-0.8zM348.0 449.2h0.8v0.8h-0.8zM331.9 463.4h0.8v0.8h-0.8zM349.6 460.7h0.8v0.8h-0.8zM351.1 454.1h0.8v0.8h-0.8zM344.6 451.2h0.8v0.8h-0.8zM347.2 436.8h0.8v0.8h-0.8zM356.7 461.9h0.8v0.8h-0.8zM349.9 449.9h0.8v0.8h-0.8zM342.4 439.1h0.8v0.8h-0.8zM340.2 449.4h0.8v0.8h-0.8zM345.4 438.0h0.8v0.8h-0.8zM343.6 449.0h0.8v0.8h-0.8zM353.4 454.5h0.8v0.8h-0.8zM339.2 450.6h0.8v0.8h-0.8zM346.6 423.3h0.8v0.8h-0.8zM342.2 452.6h0.8v0.8h-0.8zM346.3 446.7h0.8v0.8h-0.8zM356.9 460.3h0.8v0.8h-0.8zM348.6 427.4h0.8v0.8h-0.8zM349.3 451.9h0.8v0.8h-0.8zM340.7 447.3h0.8v0.8h-0.8zM353.8 437.2h0.8v0.8h-0.8zM340.2 427.2h0.8v0.8h-0.8zM362.7 452.9h0.8v0.8h-0.8zM354.2 444.5h0.8v0.8h-0.8zM342.7 451.1h0.8v0.8h-0.8zM348.4 459.4h0.8v0.8h-0.8zM339.5 422.1h0.8v0.8h-0.8zM342.9 437.9h0.8v0.8h-0.8zM352.0 449.6h0.8v0.8h-0.8zM338.2 419.3h0.8v0.8h-0.8zM350.9 450.0h0.8v0.8h-0.8zM347.4 429.7h0.8v0.8h-0.8zM348.1 457.6h0.8v0.8h-0.8zM338.3 442.1h0.8v0.8h-0.8zM348.9 419.9h0.8v0.8h-0.8zM354.4 459.3h0.8v0.8h-0.8zM336.1 455.8h0.8v0.8h-0.8zM346.3 460.5h0.8v0.8h-0.8zM355.9 461.5h0.8v0.8h-0.8zM331.9 461.8h0.8v0.8h-0.8zM343.8 436.6h0.8v0.8h-0.8zM352.8 446.1h0.8v0.8h-0.8zM346.5 451.9h0.8v0.8h-0.8zM350.6 440.7h0.8v0.8h-0.8zM351.0 437.0h0.8v0.8h-0.8zM356.8 452.0h0.8v0.8h-0.8zM350.0 459.7h0.8v0.8h-0.8zM356.9 428.6h0.8v0.8h-0.8zM340.7 418.4h0.8v0.8h-0.8zM358.3 453.4h0.8v0.8h-0.8zM349.8 422.5h0.8v0.8h-0.8zM357.0 461.3h0.8v0.8h-0.8zM360.2 441.6h0.8v0.8h-0.8zM357.0 445.7h0.8v0.8h-0.8zM348.1 428.2h0.8v0.8h-0.8zM351.5 452.3h0.8v0.8h-0.8zM346.8 437.8h0.8v0.8h-0.8zM353.4 441.0h0.8v0.8h-0.8zM354.5 460.3h0.8v0.8h-0.8zM353.1 448.4h0.8v0.8h-0.8zM352.4 450.3h0.8v0.8h-0.8zM346.4 459.3h0.8v0.8h-0.8zM343.8 423.9h0.8v0.8h-0.8zM348.9 431.3h0.8v0.8h-0.8zM355.2 452.2h0.8v0.8h-0.8zM346.9 424.9h0.8v0.8h-0.8zM354.7 432.8h0.8v0.8h-0.8zM343.4 419.1h0.8v0.8h-0.8zM346.5 463.3h0.8v0.8h-0.8zM336.1 438.8h0.8v0.8h-0.8zM340.9 448.6h0.8v0.8h-0.8zM358.1 424.8h0.8v0.8h-0.8zM344.1 453.6h0.8v0.8h-0.8zM352.4 435.9h0.8v0.8h-0.8zM356.0 457.2h0.8v0.8h-0.8zM350.5 441.1h0.8v0.8h-0.8zM344.3 453.2h0.8v0.8h-0.8zM339.7 429.1h0.8v0.8h-0.8zM343.2 443.5h0.8v0.8h-0.8zM352.8 455.1h0.8v0.8h-0.8zM345.5 451.8h0.8v0.8h-0.8zM358.3 419.6h0.8v0.8h-0.8zM333.6 441.6h0.8v0.8h-0.8zM346.0 431.0h0.8v0.8h-0.8zM351.5 456.2h0.8v0.8h-0.8zM343.8 437.8h0.8v0.8h-0.8zM350.0 458.7h0.8v0.8h-0.8zM362.8 425.1h0.8v0.8h-0.8zM352.5 426.3h0.8v0.8h-0.8zM344.7 461.7h0.8v0.8h-0.8zM356.7 459.3h0.8v0.8h-0.8zM350.1 438.3h0.8v0.8h-0.8zM339.9 461.9h0.8v0.8h-0.8zM350.4 462.9h0.8v0.8h-0.8zM348.5 456.6h0.8v0.8h-0.8zM350.6 437.6h0.8v0.8h-0.8zM348.3 452.3h0.8v0.8h-0.8zM347.9 447.6h0.8v0.8h-0.8zM337.7 425.6h0.8v0.8h-0.8zM342.6 421.8h0.8v0.8h-0.8zM339.8 442.4h0.8v0.8h-0.8zM353.4 427.1h0.8v0.8h-0.8zM342.7 437.4h0.8v0.8h-0.8zM338.1 463.5h0.8v0.8h-0.8zM346.7 448.0h0.8v0.8h-0.8zM349.8 429.4h0.8v0.8h-0.8zM354.4 456.2h0.8v0.8h-0.8zM348.7 431.0h0.8v0.8h-0.8zM349.4 439.9h0.8v0.8h-0.8zM342.2 454.6h0.8v0.8h-0.8zM352.1 456.5h0.8v0.8h-0.8zM345.9 440.9h0.8v0.8h-0.8zM356.4 449.6h0.8v0.8h-0.8zM340.1 441.1h0.8v0.8h-0.8zM348.5 458.3h0.8v0.8h-0.8zM347.0 461.9h0.8v0.8h-0.8zM346.4 461.1h0.8v0.8h-0.8zM350.8 460.9h0.8v0.8h-0.8zM345.4 458.7h0.8v0.8h-0.8zM348.1 458.6h0.8v0.8h-0.8zM348.7 420.8h0.8v0.8h-0.8zM353.3 462.6h0.8v0.8h-0.8zM343.2 444.5h0.8v0.8h-0.8zM357.8 454.1h0.8v0.8h-0.8zM356.4 456.0h0.8v0.8h-0.8zM350.5 427.8h0.8v0.8h-0.8zM348.4 440.1h0.8v0.8h-0.8zM344.9 456.1h0.8v0.8h-0.8zM345.8 444.3h0.8v0.8h-0.8zM343.4 438.8h0.8v0.8h-0.8zM346.8 451.8h0.8v0.8h-0.8zM345.8 419.3h0.8v0.8h-0.8zM352.0 460.3h0.8v0.8h-0.8zM340.6 460.1h0.8v0.8h-0.8zM357.4 420.3h0.8v0.8h-0.8zM348.7 435.3h0.8v0.8h-0.8zM353.1 431.4h0.8v0.8h-0.8zM351.6 458.2h0.8v0.8h-0.8zM343.7 459.9h0.8v0.8h-0.8zM353.5 436.6h0.8v0.8h-0.8zM346.2 452.1h0.8v0.8h-0.8zM352.0 461.5h0.8v0.8h-0.8zM343.6 419.8h0.8v0.8h-0.8zM341.8 461.7h0.8v0.8h-0.8zM337.6 443.8h0.8v0.8h-0.8zM346.4 433.1h0.8v0.8h-0.8zM355.3 459.3h0.8v0.8h-0.8zM354.0 458.9h0.8v0.8h-0.8zM344.7 460.9h0.8v0.8h-0.8zM350.5 433.7h0.8v0.8h-0.8zM351.7 453.5h0.8v0.8h-0.8zM339.5 427.6h0.8v0.8h-0.8zM354.6 445.5h0.8v0.8h-0.8zM352.5 448.2h0.8v0.8h-0.8zM347.6 459.5h0.8v0.8h-0.8zM351.3 446.4h0.8v0.8h-0.8zM339.9 446.6h0.8v0.8h-0.8zM349.6 450.5h0.8v0.8h-0.8zM339.1 440.0h0.8v0.8h-0.8zM351.0 463.1h0.8v0.8h-0.8zM350.3 456.0h0.8v0.8h-0.8zM348.8 454.0h0.8v0.8h-0.8zM338.2 459.8h0.8v0.8h-0.8zM349.5 433.3h0.8v0.8h-0.8zM340.7 434.3h0.8v0.8h-0.8zM349.4 460.2h0.8v0.8h-0.8zM345.6 417.2h0.8v0.8h-0.8zM346.1 454.5h0.8v0.8h-0.8zM338.1 459.0h0.8v0.8h-0.8zM356.2 458.4h0.8v0.8h-0.8zM345.6 447.1h0.8v0.8h-0.8zM349.7 432.2h0.8v0.8h-0.8zM347.6 432.5h0.8v0.8h-0.8zM357.2 437.7h0.8v0.8h-0.8zM343.0 437.5h0.8v0.8h-0.8zM350.7 419.2h0.8v0.8h-0.8zM345.8 460.3h0.8v0.8h-0.8zM345.5 421.3h0.8v0.8h-0.8zM348.2 432.1h0.8v0.8h-0.8zM343.6 419.5h0.8v0.8h-0.8zM353.2 424.1h0.8v0.8h-0.8zM344.2 463.0h0.8v0.8h-0.8zM340.7 456.5h0.8v0.8h-0.8zM347.0 462.6h0.8v0.8h-0.8zM347.7 420.9h0.8v0.8h-0.8zM343.8 437.5h0.8v0.8h-0.8zM347.8 451.7h0.8v0.8h-0.8zM351.4 458.1h0.8v0.8h-0.8zM348.2 423.8h0.8v0.8h-0.8zM338.0 459.2h0.8v0.8h-0.8zM341.2 429.4h0.8v0.8h-0.8zM351.9 447.9h0.8v0.8h-0.8zM347.8 443.3h0.8v0.8h-0.8zM351.2 456.2h0.8v0.8h-0.8zM346.3 447.5h0.8v0.8h-0.8zM348.7 447.4h0.8v0.8h-0.8zM336.1 452.4h0.8v0.8h-0.8zM343.9 460.6h0.8v0.8h-0.8zM353.2 456.0h0.8v0.8h-0.8zM359.9 441.6h0.8v0.8h-0.8zM347.0 418.7h0.8v0.8h-0.8zM345.0 459.3h0.8v0.8h-0.8zM339.3 452.7h0.8v0.8h-0.8zM342.4 445.6h0.8v0.8h-0.8zM356.4 428.8h0.8v0.8h-0.8zM354.1 437.2h0.8v0.8h-0.8zM358.7 424.5h0.8v0.8h-0.8zM345.8 445.9h0.8v0.8h-0.8zM357.3 462.2h0.8v0.8h-0.8zM351.2 457.0h0.8v0.8h-0.8zM352.0 423.1h0.8v0.8h-0.8zM347.6 448.4h0.8v0.8h-0.8zM340.4 450.3h0.8v0.8h-0.8zM349.8 452.3h0.8v0.8h-0.8zM342.6 425.0h0.8v0.8h-0.8zM351.1 423.6h0.8v0.8h-0.8zM352.3 450.7h0.8v0.8h-0.8zM357.0 426.8h0.8v0.8h-0.8zM340.4 461.5h0.8v0.8h-0.8zM339.0 453.6h0.8v0.8h-0.8zM347.8 445.8h0.8v0.8h-0.8zM351.9 453.1h0.8v0.8h-0.8zM345.7 445.5h0.8v0.8h-0.8zM353.8 461.7h0.8v0.8h-0.8zM343.0 463.0h0.8v0.8h-0.8zM348.0 443.9h0.8v0.8h-0.8zM342.8 460.3h0.8v0.8h-0.8zM340.6 460.2h0.8v0.8h-0.8zM345.9 454.6h0.8v0.8h-0.8zM356.5 437.1h0.8v0.8h-0.8zM338.8 458.3h0.8v0.8h-0.8zM344.3 445.9h0.8v0.8h-0.8zM343.9 459.7h0.8v0.8h-0.8zM359.3 416.3h0.8v0.8h-0.8zM345.1 449.4h0.8v0.8h-0.8zM349.0 443.2h0.8v0.8h-0.8zM360.0 448.3h0.8v0.8h-0.8zM348.5 457.8h0.8v0.8h-0.8zM334.1 432.1h0.8v0.8h-0.8zM344.0 417.2h0.8v0.8h-0.8zM351.2 424.2h0.8v0.8h-0.8zM350.6 428.6h0.8v0.8h-0.8zM341.0 463.0h0.8v0.8h-0.8zM344.4 429.3h0.8v0.8h-0.8zM353.3 460.8h0.8v0.8h-0.8zM340.5 435.2h0.8v0.8h-0.8zM332.5 457.2h0.8v0.8h-0.8zM353.9 460.8h0.8v0.8h-0.8zM346.3 447.3h0.8v0.8h-0.8zM343.7 428.2h0.8v0.8h-0.8zM343.4 449.8h0.8v0.8h-0.8zM340.1 454.0h0.8v0.8h-0.8zM352.7 446.6h0.8v0.8h-0.8zM348.4 463.3h0.8v0.8h-0.8zM344.6 448.9h0.8v0.8h-0.8zM343.3 453.7h0.8v0.8h-0.8zM340.8 457.1h0.8v0.8h-0.8zM337.0 461.2h0.8v0.8h-0.8zM345.7 457.4h0.8v0.8h-0.8zM355.9 433.3h0.8v0.8h-0.8zM345.1 416.7h0.8v0.8h-0.8zM353.6 460.0h0.8v0.8h-0.8zM343.1 450.5h0.8v0.8h-0.8zM349.9 457.9h0.8v0.8h-0.8zM349.2 461.5h0.8v0.8h-0.8zM351.6 454.1h0.8v0.8h-0.8zM353.2 457.5h0.8v0.8h-0.8zM358.8 461.1h0.8v0.8h-0.8zM348.6 435.1h0.8v0.8h-0.8zM342.6 455.8h0.8v0.8h-0.8zM342.4 454.0h0.8v0.8h-0.8zM335.9 460.9h0.8v0.8h-0.8zM349.2 423.3h0.8v0.8h-0.8zM339.1 419.6h0.8v0.8h-0.8zM346.7 462.8h0.8v0.8h-0.8zM348.1 452.2h0.8v0.8h-0.8zM350.8 450.6h0.8v0.8h-0.8zM344.7 419.9h0.8v0.8h-0.8zM347.0 429.8h0.8v0.8h-0.8zM344.7 456.2h0.8v0.8h-0.8zM342.3 461.1h0.8v0.8h-0.8zM345.7 462.7h0.8v0.8h-0.8zM349.4 462.2h0.8v0.8h-0.8zM349.1 442.1h0.8v0.8h-0.8zM351.4 438.2h0.8v0.8h-0.8zM336.8 450.8h0.8v0.8h-0.8zM344.9 452.2h0.8v0.8h-0.8zM344.9 445.0h0.8v0.8h-0.8zM348.3 460.6h0.8v0.8h-0.8zM342.3 439.8h0.8v0.8h-0.8zM350.1 456.9h0.8v0.8h-0.8zM349.8 445.5h0.8v0.8h-0.8zM351.6 454.9h0.8v0.8h-0.8zM345.8 458.5h0.8v0.8h-0.8zM346.6 455.4h0.8v0.8h-0.8zM350.6 440.2h0.8v0.8h-0.8zM343.5 430.5h0.8v0.8h-0.8zM341.5 440.7h0.8v0.8h-0.8zM347.1 458.9h0.8v0.8h-0.8zM345.4 446.6h0.8v0.8h-0.8zM358.1 460.0h0.8v0.8h-0.8zM347.0 442.9h0.8v0.8h-0.8zM338.2 417.3h0.8v0.8h-0.8zM338.8 421.5h0.8v0.8h-0.8zM349.6 446.5h0.8v0.8h-0.8zM341.5 449.5h0.8v0.8h-0.8zM350.9 423.3h0.8v0.8h-0.8zM355.1 456.3h0.8v0.8h-0.8zM359.7 460.9h0.8v0.8h-0.8zM342.3 417.2h0.8v0.8h-0.8zM356.6 448.6h0.8v0.8h-0.8zM346.0 438.8h0.8v0.8h-0.8zM345.3 419.1h0.8v0.8h-0.8zM337.4 437.4h0.8v0.8h-0.8zM350.1 459.6h0.8v0.8h-0.8zM355.6 433.8h0.8v0.8h-0.8zM351.8 462.7h0.8v0.8h-0.8zM352.5 462.5h0.8v0.8h-0.8zM345.6 462.9h0.8v0.8h-0.8zM346.7 439.6h0.8v0.8h-0.8zM347.0 455.0h0.8v0.8h-0.8zM352.7 421.7h0.8v0.8h-0.8zM336.6 453.9h0.8v0.8h-0.8zM359.4 444.8h0.8v0.8h-0.8zM348.5 424.6h0.8v0.8h-0.8zM332.7 419.9h0.8v0.8h-0.8zM344.4 461.0h0.8v0.8h-0.8zM340.8 460.6h0.8v0.8h-0.8zM345.2 453.5h0.8v0.8h-0.8zM348.8 433.1h0.8v0.8h-0.8zM348.0 458.7h0.8v0.8h-0.8zM350.2 450.7h0.8v0.8h-0.8zM351.7 438.0h0.8v0.8h-0.8zM345.7 458.1h0.8v0.8h-0.8zM348.0 441.1h0.8v0.8h-0.8zM348.2 446.6h0.8v0.8h-0.8zM351.7 418.4h0.8v0.8h-0.8zM343.7 459.2h0.8v0.8h-0.8zM353.3 456.7h0.8v0.8h-0.8zM350.0 454.9h0.8v0.8h-0.8zM345.8 443.0h0.8v0.8h-0.8zM347.9 428.8h0.8v0.8h-0.8zM357.2 445.0h0.8v0.8h-0.8zM335.3 428.0h0.8v0.8h-0.8zM344.9 454.9h0.8v0.8h-0.8zM348.6 434.8h0.8v0.8h-0.8zM344.0 460.8h0.8v0.8h-0.8zM354.9 457.7h0.8v0.8h-0.8zM349.6 456.0h0.8v0.8h-0.8zM342.3 433.7h0.8v0.8h-0.8zM349.7 430.4h0.8v0.8h-0.8zM351.9 441.0h0.8v0.8h-0.8zM341.6 462.2h0.8v0.8h-0.8zM358.7 457.8h0.8v0.8h-0.8zM349.5 451.3h0.8v0.8h-0.8zM331.9 451.5h0.8v0.8h-0.8zM347.0 441.4h0.8v0.8h-0.8zM345.6 460.7h0.8v0.8h-0.8zM352.4 435.7h0.8v0.8h-0.8zM356.8 459.3h0.8v0.8h-0.8zM345.2 427.2h0.8v0.8h-0.8zM348.9 463.5h0.8v0.8h-0.8zM347.0 449.3h0.8v0.8h-0.8zM343.7 440.7h0.8v0.8h-0.8zM338.8 455.9h0.8v0.8h-0.8zM338.5 435.6h0.8v0.8h-0.8zM343.2 463.2h0.8v0.8h-0.8zM354.3 460.7h0.8v0.8h-0.8zM347.3 463.3h0.8v0.8h-0.8zM344.7 423.0h0.8v0.8h-0.8zM345.4 450.5h0.8v0.8h-0.8zM340.2 431.8h0.8v0.8h-0.8z" fill="#2b3cff" opacity="0.95"/>
<path d="M330.5 464.5h.8v.8h-.8zM331.2 463.9h.8v.8h-.8zM351.8 457.5h.8v.8h-.8zM332.7 480.9h.8v.8h-.8zM354.8 461.0h.8v.8h-.8zM354.1 479.2h.8v.8h-.8zM359.0 478.7h.8v.8h-.8zM346.3 455.2h.8v.8h-.8zM341.5 484.2h.8v.8h-.8zM347.1 456.7h.8v.8h-.8zM336.0 482.2h.8v.8h-.8zM334.3 480.0h.8v.8h-.8zM344.9 455.9h.8v.8h-.8zM358.6 466.4h.8v.8h-.8zM330.1 473.4h.8v.8h-.8zM337.8 484.5h.8v.8h-.8zM330.2 475.4h.8v.8h-.8zM357.9 464.6h.8v.8h-.8zM354.1 481.7h.8v.8h-.8zM334.0 480.2h.8v.8h-.8zM356.9 462.0h.8v.8h-.8zM342.5 457.8h.8v.8h-.8zM356.6 479.3h.8v.8h-.8zM348.1 483.1h.8v.8h-.8zM350.3 456.6h.8v.8h-.8zM326.2 484.3h.8v.8h-.8zM355.4 460.8h.8v.8h-.8zM358.0 474.5h.8v.8h-.8zM349.3 458.3h.8v.8h-.8zM357.8 474.4h.8v.8h-.8zM343.4 456.6h.8v.8h-.8zM358.9 468.9h.8v.8h-.8zM328.1 468.0h.8v.8h-.8zM352.0 480.8h.8v.8h-.8zM357.6 464.4h.8v.8h-.8zM349.3 482.6h.8v.8h-.8zM353.3 483.1h.8v.8h-.8zM340.8 458.6h.8v.8h-.8zM335.0 482.6h.8v.8h-.8zM356.7 460.9h.8v.8h-.8zM341.4 486.3h.8v.8h-.8zM333.7 480.3h.8v.8h-.8zM353.6 456.7h.8v.8h-.8zM357.0 479.3h.8v.8h-.8zM344.2 483.3h.8v.8h-.8zM346.5 452.7h.8v.8h-.8zM360.4 468.8h.8v.8h-.8zM358.4 476.4h.8v.8h-.8zM331.3 467.8h.8v.8h-.8zM340.6 485.5h.8v.8h-.8zM330.8 468.8h.8v.8h-.8zM338.6 458.0h.8v.8h-.8zM345.9 456.3h.8v.8h-.8zM338.1 485.7h.8v.8h-.8zM348.7 483.3h.8v.8h-.8zM355.8 458.9h.8v.8h-.8zM331.2 475.5h.8v.8h-.8zM352.9 480.3h.8v.8h-.8zM361.3 470.4h.8v.8h-.8zM329.7 482.4h.8v.8h-.8zM346.9 455.7h.8v.8h-.8zM337.9 459.5h.8v.8h-.8zM335.9 481.2h.8v.8h-.8zM362.3 468.8h.8v.8h-.8zM331.4 476.2h.8v.8h-.8zM331.1 467.5h.8v.8h-.8zM345.3 484.1h.8v.8h-.8zM345.4 487.5h.8v.8h-.8zM329.5 464.2h.8v.8h-.8zM330.2 471.9h.8v.8h-.8zM360.3 479.3h.8v.8h-.8zM354.2 479.8h.8v.8h-.8zM327.8 464.0h.8v.8h-.8zM353.0 480.3h.8v.8h-.8zM343.1 453.9h.8v.8h-.8zM332.6 481.1h.8v.8h-.8zM331.0 468.2h.8v.8h-.8zM359.7 467.0h.8v.8h-.8zM360.8 473.4h.8v.8h-.8zM349.2 484.3h.8v.8h-.8zM345.2 486.6h.8v.8h-.8zM353.5 460.1h.8v.8h-.8zM356.4 478.5h.8v.8h-.8zM347.4 488.8h.8v.8h-.8zM360.6 473.5h.8v.8h-.8zM330.8 473.4h.8v.8h-.8zM343.1 483.4h.8v.8h-.8zM359.4 459.8h.8v.8h-.8zM330.0 476.2h.8v.8h-.8zM351.1 455.7h.8v.8h-.8zM360.7 461.3h.8v.8h-.8zM333.7 463.8h.8v.8h-.8zM359.3 466.4h.8v.8h-.8zM334.2 479.9h.8v.8h-.8zM334.3 480.1h.8v.8h-.8zM347.1 454.7h.8v.8h-.8zM344.3 485.6h.8v.8h-.8zM340.3 483.5h.8v.8h-.8zM334.8 461.6h.8v.8h-.8zM351.7 483.6h.8v.8h-.8zM348.2 484.9h.8v.8h-.8zM345.3 455.8h.8v.8h-.8zM343.7 457.6h.8v.8h-.8zM357.9 477.0h.8v.8h-.8zM327.9 473.5h.8v.8h-.8zM330.4 473.4h.8v.8h-.8zM341.2 457.9h.8v.8h-.8zM334.2 481.9h.8v.8h-.8zM355.0 479.7h.8v.8h-.8zM357.2 479.9h.8v.8h-.8zM340.2 484.9h.8v.8h-.8zM329.3 476.2h.8v.8h-.8zM332.2 463.2h.8v.8h-.8zM337.0 483.0h.8v.8h-.8zM356.3 462.0h.8v.8h-.8zM333.5 464.1h.8v.8h-.8zM327.9 473.2h.8v.8h-.8zM359.3 466.4h.8v.8h-.8zM350.1 457.6h.8v.8h-.8zM339.6 485.7h.8v.8h-.8zM360.1 469.3h.8v.8h-.8zM337.0 458.1h.8v.8h-.8zM332.6 465.3h.8v.8h-.8zM345.6 457.9h.8v.8h-.8zM343.2 485.1h.8v.8h-.8zM331.6 476.3h.8v.8h-.8zM338.7 484.5h.8v.8h-.8zM345.9 456.0h.8v.8h-.8zM334.9 482.8h.8v.8h-.8zM334.3 481.8h.8v.8h-.8zM360.6 470.5h.8v.8h-.8zM356.1 478.2h.8v.8h-.8zM344.6 484.3h.8v.8h-.8zM338.1 458.3h.8v.8h-.8zM339.6 457.0h.8v.8h-.8zM350.9 482.8h.8v.8h-.8zM358.8 462.5h.8v.8h-.8zM347.2 455.7h.8v.8h-.8zM337.2 460.2h.8v.8h-.8zM331.9 463.6h.8v.8h-.8zM333.1 459.3h.8v.8h-.8zM339.4 483.0h.8v.8h-.8zM360.6 470.8h.8v.8h-.8zM357.8 474.4h.8v.8h-.8zM354.3 479.5h.8v.8h-.8zM333.5 464.2h.8v.8h-.8zM327.6 469.6h.8v.8h-.8zM329.0 477.9h.8v.8h-.8zM353.3 459.9h.8v.8h-.8zM358.6 461.1h.8v.8h-.8zM330.7 471.5h.8v.8h-.8zM329.3 466.8h.8v.8h-.8zM354.5 457.3h.8v.8h-.8zM327.4 467.1h.8v.8h-.8zM360.3 467.1h.8v.8h-.8zM335.1 483.0h.8v.8h-.8zM329.5 465.1h.8v.8h-.8zM353.6 458.4h.8v.8h-.8zM344.5 454.8h.8v.8h-.8zM350.7 455.1h.8v.8h-.8zM342.7 483.8h.8v.8h-.8zM352.1 485.0h.8v.8h-.8zM328.8 472.9h.8v.8h-.8zM324.4 474.3h.8v.8h-.8zM358.6 482.0h.8v.8h-.8zM325.0 467.6h.8v.8h-.8zM362.9 463.3h.8v.8h-.8zM360.6 466.7h.8v.8h-.8zM346.4 457.8h.8v.8h-.8zM352.4 459.2h.8v.8h-.8zM329.0 477.1h.8v.8h-.8zM347.3 485.9h.8v.8h-.8zM341.5 457.1h.8v.8h-.8zM346.7 484.3h.8v.8h-.8zM340.4 457.6h.8v.8h-.8zM333.3 481.3h.8v.8h-.8zM356.1 477.9h.8v.8h-.8zM354.1 460.0h.8v.8h-.8zM352.5 481.9h.8v.8h-.8zM357.4 480.8h.8v.8h-.8zM329.4 474.0h.8v.8h-.8zM357.9 483.2h.8v.8h-.8zM343.8 487.0h.8v.8h-.8zM327.3 476.4h.8v.8h-.8zM347.7 484.4h.8v.8h-.8zM358.9 473.9h.8v.8h-.8zM347.1 454.9h.8v.8h-.8zM360.3 475.6h.8v.8h-.8zM330.8 475.4h.8v.8h-.8zM339.4 458.7h.8v.8h-.8zM358.0 478.5h.8v.8h-.8zM361.1 466.6h.8v.8h-.8zM343.4 456.4h.8v.8h-.8zM332.0 464.6h.8v.8h-.8zM337.2 482.4h.8v.8h-.8zM360.9 469.0h.8v.8h-.8zM332.5 463.3h.8v.8h-.8zM327.5 470.7h.8v.8h-.8zM347.5 487.3h.8v.8h-.8zM346.6 484.2h.8v.8h-.8zM338.2 483.3h.8v.8h-.8zM332.0 466.7h.8v.8h-.8zM346.8 488.2h.8v.8h-.8zM330.2 476.5h.8v.8h-.8zM360.2 469.8h.8v.8h-.8zM339.5 485.2h.8v.8h-.8zM330.9 461.0h.8v.8h-.8zM357.0 460.1h.8v.8h-.8zM351.3 482.3h.8v.8h-.8zM359.9 472.9h.8v.8h-.8zM331.5 466.3h.8v.8h-.8zM327.4 468.3h.8v.8h-.8zM333.9 460.0h.8v.8h-.8zM356.8 479.0h.8v.8h-.8zM336.7 460.9h.8v.8h-.8zM355.2 459.0h.8v.8h-.8zM330.5 478.9h.8v.8h-.8zM354.2 459.7h.8v.8h-.8zM331.3 476.0h.8v.8h-.8zM330.7 465.3h.8v.8h-.8zM346.1 457.0h.8v.8h-.8zM346.3 483.2h.8v.8h-.8zM352.4 459.3h.8v.8h-.8zM344.4 457.0h.8v.8h-.8zM355.5 479.8h.8v.8h-.8zM338.1 455.8h.8v.8h-.8zM348.8 483.4h.8v.8h-.8zM331.6 479.3h.8v.8h-.8zM359.9 464.8h.8v.8h-.8zM337.9 483.8h.8v.8h-.8zM335.2 486.3h.8v.8h-.8zM356.0 459.4h.8v.8h-.8zM334.3 484.7h.8v.8h-.8zM347.5 486.0h.8v.8h-.8zM329.2 473.1h.8v.8h-.8zM346.0 483.1h.8v.8h-.8zM328.3 474.7h.8v.8h-.8zM343.2 483.4h.8v.8h-.8zM349.4 458.3h.8v.8h-.8zM327.1 473.6h.8v.8h-.8zM326.0 474.6h.8v.8h-.8zM338.5 487.6h.8v.8h-.8zM346.0 487.4h.8v.8h-.8zM350.5 458.0h.8v.8h-.8zM331.1 474.4h.8v.8h-.8zM330.8 477.7h.8v.8h-.8zM329.1 469.1h.8v.8h-.8zM357.7 463.3h.8v.8h-.8zM361.2 471.2h.8v.8h-.8zM327.9 467.1h.8v.8h-.8zM349.1 455.3h.8v.8h-.8zM339.7 484.2h.8v.8h-.8zM336.2 461.5h.8v.8h-.8zM348.0 454.3h.8v.8h-.8zM353.2 457.3h.8v.8h-.8zM336.0 483.8h.8v.8h-.8zM338.3 484.0h.8v.8h-.8zM350.6 456.2h.8v.8h-.8zM336.3 483.0h.8v.8h-.8zM334.2 480.1h.8v.8h-.8z" fill="#2b3cff" opacity="0.9"/>
<ellipse cx="344.8" cy="470.6" rx="14.10" ry="12.21" fill="#2a42fb" transform="rotate(-20 344.8 470.6)" filter="url(#rag)"/>
<ellipse cx="342.8" cy="472.2" rx="12.0" ry="8.0" fill="url(#gC)" transform="rotate(-20 342.8 472.2)"/>
<line x1="345.0" y1="417.6" x2="356.0" y2="417.6" stroke="#2b3cff" stroke-width="0.6" stroke-dasharray="1.3 0.5" opacity="0.85"/>
<rect x="331.25" y="414.6" width="34.25" height="44.90" fill="none" stroke="#6a6a6a" stroke-width="0.65"/>
<text transform="translate(347.50 411.20) scale(0.87 1)" font-size="8.4" text-anchor="middle" fill="#1a1a1a">TBI+LN</text>
<text transform="translate(377.00 437.30) scale(0.9 1)" font-size="6.7" text-anchor="middle" fill="#1a1a1a" style="stroke-width:.12px">2.62</text>
<line x1="443.65" y1="477.90" x2="443.65" y2="474.20" stroke="#2b2226" stroke-width="1.05" stroke-linecap="butt"/>
<line x1="439.90" y1="474.20" x2="447.40" y2="474.20" stroke="#2b2226" stroke-width="1.0" stroke-linecap="butt"/>
<rect x="436.95" y="478.15" width="13.40" height="8.45" fill="#a50026" stroke="#b3122f" stroke-width="0.5"/>
<line x1="462.55" y1="429.60" x2="462.55" y2="407.20" stroke="#20283c" stroke-width="1.05" stroke-linecap="butt"/>
<line x1="458.91" y1="407.20" x2="466.19" y2="407.20" stroke="#20283c" stroke-width="1.0" stroke-linecap="butt"/>
<rect x="456.05" y="429.85" width="13.00" height="56.75" fill="#2f4b7f" stroke="#1f3c74" stroke-width="0.5"/>
<line x1="481.15" y1="481.90" x2="481.15" y2="481.00" stroke="#2b2226" stroke-width="1.05" stroke-linecap="butt"/>
<line x1="477.50" y1="481.00" x2="484.79" y2="481.00" stroke="#2b2226" stroke-width="1.0" stroke-linecap="butt"/>
<rect x="474.65" y="482.15" width="13.00" height="4.45" fill="#a50026" stroke="#b3122f" stroke-width="0.5"/>
<line x1="500.05" y1="480.90" x2="500.05" y2="478.50" stroke="#20283c" stroke-width="1.05" stroke-linecap="butt"/>
<line x1="496.30" y1="478.50" x2="503.80" y2="478.50" stroke="#20283c" stroke-width="1.0" stroke-linecap="butt"/>
<rect x="493.35" y="481.15" width="13.40" height="5.45" fill="#2f4b7f" stroke="#1f3c74" stroke-width="0.5"/>
<line x1="431.40" y1="396.60" x2="431.40" y2="487.10" stroke="#1a1a1a" stroke-width="1.0" stroke-linecap="butt"/>
<line x1="430.90" y1="486.60" x2="512.50" y2="486.60" stroke="#1a1a1a" stroke-width="1.0" stroke-linecap="butt"/>
<line x1="428.50" y1="399.20" x2="431.40" y2="399.20" stroke="#1a1a1a" stroke-width="0.8" stroke-linecap="butt"/>
<text transform="translate(425.00 401.40) scale(0.97 1)" font-size="6.1" text-anchor="end" fill="#1a1a1a" style="stroke-width:.16px">50</text>
<line x1="428.50" y1="416.75" x2="431.40" y2="416.75" stroke="#1a1a1a" stroke-width="0.8" stroke-linecap="butt"/>
<text transform="translate(425.00 418.95) scale(0.97 1)" font-size="6.1" text-anchor="end" fill="#1a1a1a" style="stroke-width:.16px">40</text>
<line x1="428.50" y1="434.30" x2="431.40" y2="434.30" stroke="#1a1a1a" stroke-width="0.8" stroke-linecap="butt"/>
<text transform="translate(425.00 436.50) scale(0.97 1)" font-size="6.1" text-anchor="end" fill="#1a1a1a" style="stroke-width:.16px">30</text>
<line x1="428.50" y1="451.80" x2="431.40" y2="451.80" stroke="#1a1a1a" stroke-width="0.8" stroke-linecap="butt"/>
<text transform="translate(425.00 454.00) scale(0.97 1)" font-size="6.1" text-anchor="end" fill="#1a1a1a" style="stroke-width:.16px">20</text>
<line x1="428.50" y1="469.35" x2="431.40" y2="469.35" stroke="#1a1a1a" stroke-width="0.8" stroke-linecap="butt"/>
<text transform="translate(425.00 471.55) scale(0.97 1)" font-size="6.1" text-anchor="end" fill="#1a1a1a" style="stroke-width:.16px">10</text>
<line x1="428.50" y1="486.90" x2="431.40" y2="486.90" stroke="#1a1a1a" stroke-width="0.8" stroke-linecap="butt"/>
<text transform="translate(425.00 489.10) scale(0.97 1)" font-size="6.1" text-anchor="end" fill="#1a1a1a" style="stroke-width:.16px">0</text>
<line x1="443.60" y1="486.60" x2="443.60" y2="489.40" stroke="#1a1a1a" stroke-width="0.8" stroke-linecap="butt"/>
<line x1="462.40" y1="486.60" x2="462.40" y2="489.40" stroke="#1a1a1a" stroke-width="0.8" stroke-linecap="butt"/>
<line x1="481.30" y1="486.60" x2="481.30" y2="489.40" stroke="#1a1a1a" stroke-width="0.8" stroke-linecap="butt"/>
<line x1="500.00" y1="486.60" x2="500.00" y2="489.40" stroke="#1a1a1a" stroke-width="0.8" stroke-linecap="butt"/>
<text transform="translate(472.20 391.70) scale(0.98 1)" font-size="8.2" text-anchor="middle" fill="#1a1a1a">Fas</text>
<text transform="translate(444.00 499.05) scale(0.84 1)" font-size="6.3" text-anchor="middle" fill="#1a1a1a" style="stroke-width:.16px">TBI</text>
<text transform="translate(462.60 499.05) scale(0.84 1)" font-size="6.3" text-anchor="middle" fill="#1a1a1a" style="stroke-width:.16px">+LN</text>
<text transform="translate(481.60 499.05) scale(0.84 1)" font-size="6.3" text-anchor="middle" fill="#1a1a1a" style="stroke-width:.16px">TBI</text>
<text transform="translate(500.20 499.05) scale(0.84 1)" font-size="6.3" text-anchor="middle" fill="#1a1a1a" style="stroke-width:.16px">+LN</text>
<line x1="439.80" y1="501.30" x2="468.00" y2="501.30" stroke="#1a1a1a" stroke-width="0.7" stroke-linecap="butt"/>
<text transform="translate(453.50 509.80) scale(0.88 1)" font-size="6.5" text-anchor="middle" fill="#1a1a1a" style="stroke-width:.16px">B6</text>
<line x1="477.60" y1="501.30" x2="505.60" y2="501.30" stroke="#1a1a1a" stroke-width="0.7" stroke-linecap="butt"/>
<text transform="translate(491.00 509.80) scale(0.88 1)" font-size="6.5" text-anchor="middle" fill="#1a1a1a" style="stroke-width:.16px">TNF-α<tspan font-size="3.9059999999999997" dy="-0.45em">-/-</tspan></text>
<text transform="translate(413.20 441.20) rotate(-90) scale(0.98 1)" font-size="8.1" text-anchor="middle" fill="#1a1a1a">%Fas in total BM</text>
<path d="M444.50 403.80V400.80H462.30V403.80" stroke="#1a1a1a" stroke-width="0.9" fill="none"/>
<text transform="translate(452.80 400.70) scale(1.0 1)" font-size="5.8" text-anchor="middle" fill="#1a1a1a" letter-spacing="0.32" style="stroke-width:.3px">****</text>
<path d="M464.0 403.8V400.8H492.9V403.6" stroke="#1a1a1a" stroke-width="0.9" fill="none"/>
<line x1="479.10" y1="403.80" x2="506.80" y2="403.80" stroke="#333" stroke-width="1.4" stroke-linecap="butt"/>
<text transform="translate(478.70 400.70) scale(1.0 1)" font-size="5.8" text-anchor="middle" fill="#1a1a1a" letter-spacing="0.32" style="stroke-width:.3px">****</text>
<text transform="translate(8.60 536.90) scale(0.95 1)" font-size="11.8" text-anchor="start" fill="#1a1a1a">F</text>
<line x1="58.20" y1="637.90" x2="58.20" y2="637.10" stroke="#2b2226" stroke-width="1.05" stroke-linecap="butt"/>
<line x1="55.07" y1="637.10" x2="61.33" y2="637.10" stroke="#2b2226" stroke-width="1.0" stroke-linecap="butt"/>
<rect x="52.65" y="638.15" width="11.10" height="1.35" fill="#a50026" stroke="#b3122f" stroke-width="0.5"/>
<line x1="75.50" y1="585.20" x2="75.50" y2="565.20" stroke="#20283c" stroke-width="1.05" stroke-linecap="butt"/>
<line x1="72.37" y1="565.20" x2="78.63" y2="565.20" stroke="#20283c" stroke-width="1.0" stroke-linecap="butt"/>
<rect x="69.95" y="585.45" width="11.10" height="54.05" fill="#2f4b7f" stroke="#1f3c74" stroke-width="0.5"/>
<line x1="103.75" y1="637.60" x2="103.75" y2="636.80" stroke="#2b2226" stroke-width="1.05" stroke-linecap="butt"/>
<line x1="100.64" y1="636.80" x2="106.86" y2="636.80" stroke="#2b2226" stroke-width="1.0" stroke-linecap="butt"/>
<rect x="98.25" y="637.85" width="11.00" height="1.65" fill="#a50026" stroke="#b3122f" stroke-width="0.5"/>
<line x1="120.70" y1="637.90" x2="120.70" y2="637.00" stroke="#20283c" stroke-width="1.05" stroke-linecap="butt"/>
<line x1="117.57" y1="637.00" x2="123.83" y2="637.00" stroke="#20283c" stroke-width="1.0" stroke-linecap="butt"/>
<rect x="115.15" y="638.15" width="11.10" height="1.35" fill="#2f4b7f" stroke="#1f3c74" stroke-width="0.5"/>
<line x1="44.30" y1="542.90" x2="44.30" y2="640.00" stroke="#1a1a1a" stroke-width="1.0" stroke-linecap="butt"/>
<line x1="43.80" y1="639.50" x2="135.10" y2="639.50" stroke="#1a1a1a" stroke-width="1.0" stroke-linecap="butt"/>
<line x1="41.40" y1="545.60" x2="44.30" y2="545.60" stroke="#1a1a1a" stroke-width="0.8" stroke-linecap="butt"/>
<text transform="translate(37.90 547.80) scale(0.97 1)" font-size="6.1" text-anchor="end" fill="#1a1a1a" style="stroke-width:.16px">4000</text>
<line x1="41.40" y1="569.05" x2="44.30" y2="569.05" stroke="#1a1a1a" stroke-width="0.8" stroke-linecap="butt"/>
<text transform="translate(37.90 571.25) scale(0.97 1)" font-size="6.1" text-anchor="end" fill="#1a1a1a" style="stroke-width:.16px">3000</text>
<line x1="41.40" y1="592.50" x2="44.30" y2="592.50" stroke="#1a1a1a" stroke-width="0.8" stroke-linecap="butt"/>
<text transform="translate(37.90 594.70) scale(0.97 1)" font-size="6.1" text-anchor="end" fill="#1a1a1a" style="stroke-width:.16px">2000</text>
<line x1="41.40" y1="615.95" x2="44.30" y2="615.95" stroke="#1a1a1a" stroke-width="0.8" stroke-linecap="butt"/>
<text transform="translate(37.90 618.15) scale(0.97 1)" font-size="6.1" text-anchor="end" fill="#1a1a1a" style="stroke-width:.16px">1000</text>
<line x1="41.40" y1="639.40" x2="44.30" y2="639.40" stroke="#1a1a1a" stroke-width="0.8" stroke-linecap="butt"/>
<text transform="translate(37.90 641.60) scale(0.97 1)" font-size="6.1" text-anchor="end" fill="#1a1a1a" style="stroke-width:.16px">0</text>
<line x1="66.80" y1="639.50" x2="66.80" y2="642.30" stroke="#1a1a1a" stroke-width="0.8" stroke-linecap="butt"/>
<line x1="112.60" y1="639.50" x2="112.60" y2="642.30" stroke="#1a1a1a" stroke-width="0.8" stroke-linecap="butt"/>
<text transform="translate(86.20 537.20) scale(0.98 1)" font-size="8.2" text-anchor="middle" fill="#1a1a1a">Plasma IFN-γ</text>
<text transform="translate(58.50 651.55) scale(0.84 1)" font-size="6.3" text-anchor="middle" fill="#1a1a1a" style="stroke-width:.16px">TBI</text>
<text transform="translate(75.50 651.55) scale(0.84 1)" font-size="6.3" text-anchor="middle" fill="#1a1a1a" style="stroke-width:.16px">LN</text>
<text transform="translate(104.00 651.55) scale(0.84 1)" font-size="6.3" text-anchor="middle" fill="#1a1a1a" style="stroke-width:.16px">TBI</text>
<text transform="translate(120.70 651.55) scale(0.84 1)" font-size="6.3" text-anchor="middle" fill="#1a1a1a" style="stroke-width:.16px">LN</text>
<line x1="54.30" y1="654.50" x2="79.70" y2="654.50" stroke="#1a1a1a" stroke-width="0.7" stroke-linecap="butt"/>
<text transform="translate(68.30 663.60) scale(0.88 1)" font-size="6.5" text-anchor="middle" fill="#1a1a1a" style="stroke-width:.16px">B6</text>
<line x1="99.90" y1="654.50" x2="126.50" y2="654.50" stroke="#1a1a1a" stroke-width="0.7" stroke-linecap="butt"/>
<text transform="translate(113.60 663.60) scale(0.88 1)" font-size="6.5" text-anchor="middle" fill="#1a1a1a" style="stroke-width:.16px">TNF-α<tspan font-size="3.9059999999999997" dy="-0.45em">-/-</tspan></text>
<text transform="translate(15.30 591.00) rotate(-90) scale(0.98 1)" font-size="8.1" text-anchor="middle" fill="#1a1a1a">pg/mL</text>
<path d="M58.70 561.30V558.50H75.90V561.30" stroke="#1a1a1a" stroke-width="0.9" fill="none"/>
<text transform="translate(67.50 558.40) scale(1.0 1)" font-size="5.8" text-anchor="middle" fill="#1a1a1a" letter-spacing="0.32" style="stroke-width:.3px">****</text>
<path d="M78.1 561.3V558.5H114.4V560.9" stroke="#1a1a1a" stroke-width="0.9" fill="none"/>
<line x1="103.10" y1="561.00" x2="124.40" y2="561.00" stroke="#333" stroke-width="1.1" stroke-linecap="butt"/>
<text transform="translate(95.80 558.40) scale(1.0 1)" font-size="5.8" text-anchor="middle" fill="#1a1a1a" letter-spacing="0.32" style="stroke-width:.3px">****</text>
<rect x="184.65" y="613.85" width="10.50" height="25.65" fill="#a50026" stroke="#b3122f" stroke-width="0.5"/>
<line x1="207.05" y1="566.30" x2="207.05" y2="560.40" stroke="#20283c" stroke-width="1.05" stroke-linecap="butt"/>
<line x1="204.00" y1="560.40" x2="210.10" y2="560.40" stroke="#20283c" stroke-width="1.0" stroke-linecap="butt"/>
<rect x="201.65" y="566.55" width="10.80" height="72.95" fill="#2f4b7f" stroke="#1f3c74" stroke-width="0.5"/>
<line x1="235.70" y1="613.50" x2="235.70" y2="613.00" stroke="#2b2226" stroke-width="1.05" stroke-linecap="butt"/>
<line x1="232.73" y1="613.00" x2="238.67" y2="613.00" stroke="#2b2226" stroke-width="1.0" stroke-linecap="butt"/>
<rect x="230.45" y="613.75" width="10.50" height="25.75" fill="#a50026" stroke="#b3122f" stroke-width="0.5"/>
<line x1="252.75" y1="613.70" x2="252.75" y2="613.20" stroke="#20283c" stroke-width="1.05" stroke-linecap="butt"/>
<line x1="249.70" y1="613.20" x2="255.80" y2="613.20" stroke="#20283c" stroke-width="1.0" stroke-linecap="butt"/>
<rect x="247.35" y="613.95" width="10.80" height="25.55" fill="#2f4b7f" stroke="#1f3c74" stroke-width="0.5"/>
<line x1="175.80" y1="542.90" x2="175.80" y2="640.00" stroke="#1a1a1a" stroke-width="1.0" stroke-linecap="butt"/>
<line x1="175.30" y1="639.50" x2="267.10" y2="639.50" stroke="#1a1a1a" stroke-width="1.0" stroke-linecap="butt"/>
<line x1="172.90" y1="545.60" x2="175.80" y2="545.60" stroke="#1a1a1a" stroke-width="0.8" stroke-linecap="butt"/>
<text transform="translate(169.80 547.80) scale(0.97 1)" font-size="6.1" text-anchor="end" fill="#1a1a1a" style="stroke-width:.16px">100</text>
<line x1="172.90" y1="564.40" x2="175.80" y2="564.40" stroke="#1a1a1a" stroke-width="0.8" stroke-linecap="butt"/>
<text transform="translate(169.80 566.60) scale(0.97 1)" font-size="6.1" text-anchor="end" fill="#1a1a1a" style="stroke-width:.16px">80</text>
<line x1="172.90" y1="583.20" x2="175.80" y2="583.20" stroke="#1a1a1a" stroke-width="0.8" stroke-linecap="butt"/>
<text transform="translate(169.80 585.40) scale(0.97 1)" font-size="6.1" text-anchor="end" fill="#1a1a1a" style="stroke-width:.16px">60</text>
<line x1="172.90" y1="602.00" x2="175.80" y2="602.00" stroke="#1a1a1a" stroke-width="0.8" stroke-linecap="butt"/>
<text transform="translate(169.80 604.20) scale(0.97 1)" font-size="6.1" text-anchor="end" fill="#1a1a1a" style="stroke-width:.16px">40</text>
<line x1="172.90" y1="620.80" x2="175.80" y2="620.80" stroke="#1a1a1a" stroke-width="0.8" stroke-linecap="butt"/>
<text transform="translate(169.80 623.00) scale(0.97 1)" font-size="6.1" text-anchor="end" fill="#1a1a1a" style="stroke-width:.16px">20</text>
<line x1="172.90" y1="639.50" x2="175.80" y2="639.50" stroke="#1a1a1a" stroke-width="0.8" stroke-linecap="butt"/>
<text transform="translate(169.80 641.70) scale(0.97 1)" font-size="6.1" text-anchor="end" fill="#1a1a1a" style="stroke-width:.16px">0</text>
<line x1="198.50" y1="639.50" x2="198.50" y2="642.30" stroke="#1a1a1a" stroke-width="0.8" stroke-linecap="butt"/>
<line x1="244.00" y1="639.50" x2="244.00" y2="642.30" stroke="#1a1a1a" stroke-width="0.8" stroke-linecap="butt"/>
<text transform="translate(219.70 537.20) scale(0.98 1)" font-size="8.2" text-anchor="middle" fill="#1a1a1a">Plasma TNF-α</text>
<text transform="translate(189.90 651.55) scale(0.84 1)" font-size="6.3" text-anchor="middle" fill="#1a1a1a" style="stroke-width:.16px">TBI</text>
<text transform="translate(207.30 651.55) scale(0.84 1)" font-size="6.3" text-anchor="middle" fill="#1a1a1a" style="stroke-width:.16px">LN</text>
<text transform="translate(235.60 651.55) scale(0.84 1)" font-size="6.3" text-anchor="middle" fill="#1a1a1a" style="stroke-width:.16px">TBI</text>
<text transform="translate(252.90 651.55) scale(0.84 1)" font-size="6.3" text-anchor="middle" fill="#1a1a1a" style="stroke-width:.16px">LN</text>
<line x1="184.40" y1="654.50" x2="211.30" y2="654.50" stroke="#1a1a1a" stroke-width="0.7" stroke-linecap="butt"/>
<text transform="translate(199.50 663.60) scale(0.88 1)" font-size="6.5" text-anchor="middle" fill="#1a1a1a" style="stroke-width:.16px">B6</text>
<line x1="231.20" y1="654.50" x2="256.50" y2="654.50" stroke="#1a1a1a" stroke-width="0.7" stroke-linecap="butt"/>
<text transform="translate(245.30 663.60) scale(0.88 1)" font-size="6.5" text-anchor="middle" fill="#1a1a1a" style="stroke-width:.16px">TNF-α<tspan font-size="3.9059999999999997" dy="-0.45em">-/-</tspan></text>
<text transform="translate(155.70 591.00) rotate(-90) scale(0.98 1)" font-size="8.1" text-anchor="middle" fill="#1a1a1a">pg/mL</text>
<path d="M189.80 556.50V553.70H207.30V556.50" stroke="#1a1a1a" stroke-width="0.9" fill="none"/>
<text transform="translate(198.00 553.80) scale(1.0 1)" font-size="5.8" text-anchor="middle" fill="#1a1a1a" letter-spacing="0.32" style="stroke-width:.3px">****</text>
<path d="M209.4 556.5V553.7H245.8V556.1" stroke="#1a1a1a" stroke-width="0.9" fill="none"/>
<line x1="234.50" y1="556.20" x2="255.70" y2="556.20" stroke="#333" stroke-width="1.1" stroke-linecap="butt"/>
<text transform="translate(227.10 553.80) scale(1.0 1)" font-size="5.8" text-anchor="middle" fill="#1a1a1a" letter-spacing="0.32" style="stroke-width:.3px">****</text>
<path d="M0 0H520V672H0Z M1.3 1V670.5H518.5V1Z" fill="#111" fill-rule="evenodd"/>
</svg></body></html>
